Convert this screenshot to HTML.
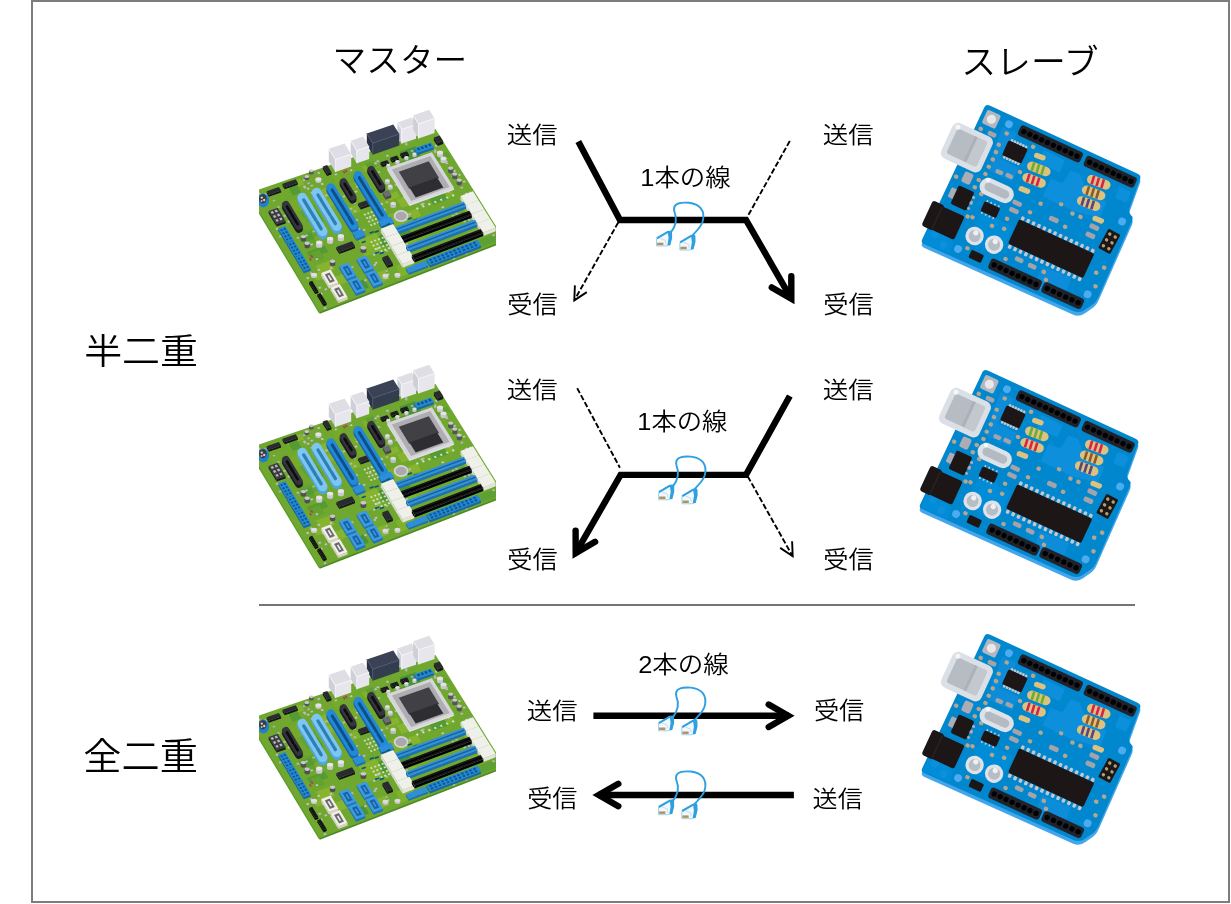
<!DOCTYPE html>
<html lang="ja">
<head>
<meta charset="utf-8">
<title>半二重と全二重</title>
<style>
html,body{margin:0;padding:0;background:#fff;}
body{width:1231px;height:904px;overflow:hidden;position:relative;}
svg{position:absolute;left:0;top:0;display:block;}
text{font-family:"Liberation Sans", "Noto Sans CJK JP", sans-serif;font-weight:350;fill:#000;}
</style>
</head>
<body>
<svg width="1231" height="904" viewBox="0 0 1231 904">
<rect x="32" y="1" width="1197" height="901" fill="#fff" stroke="#7d7d7d" stroke-width="2"/>
<defs><filter id="soft" x="-2%" y="-2%" width="104%" height="104%"><feGaussianBlur stdDeviation="0.5"/></filter></defs>
<g id="boards" filter="url(#soft)">
<g transform="translate(0 0)"><g transform="translate(986.5 107.6) rotate(24.8)"><path d="M3.5 0 L166.5 0 Q170.5 0 170.9 3.5 L173.7 35.5 Q174.5 39.5 179.5 41 Q181 42 181.2 45 L182.6 127 Q182.9 134 179.5 139 L176 145 Q172.5 151.4 165 151.6 L2 153.4 Q-1.6 153.4 -1.6 150 L-0.6 3.5 Q-0.5 0 3.5 0 Z" fill="#43a6ec"/></g>
<g transform="translate(986.5 104) rotate(24.8)">
<path d="M3.5 0 L166.5 0 Q170.5 0 170.9 3.5 L173.7 35.5 Q174.5 39.5 179.5 41 Q181 42 181.2 45 L182.6 127 Q182.9 134 179.5 139 L176 145 Q172.5 151.4 165 151.6 L2 153.4 Q-1.6 153.4 -1.6 150 L-0.6 3.5 Q-0.5 0 3.5 0 Z" fill="#0687cd"/>
<path d="M71 17.5 L95 18 L95.5 31.5 L72 32 Z" fill="#078fdc"/>
<path d="M89.5 41 L102 40 L104 25 L114 24 L131 39.5 L150 38 L151 56 L124 61 L89.5 60.5 Z" fill="#078fdc"/>
<path d="M24 14 L40 14 L40 22 L34 44 L56 44 L56 60 L30 60 L26 40 Z" fill="#078fdc" opacity="0.8"/>
<path d="M40 100 L76 100 L76 122 L60 134 L40 132 Z" fill="#078fdc" opacity="0.7"/>
<path d="M118 124 L150 122 L152 146 L120 147 Z" fill="#078fdc" opacity="0.8"/>
<rect x="155.5" y="19.0" width="13.0" height="12.5" rx="1.5" fill="#078fdc"/>
<path d="M-1 122 L28 140 L30 152 L0 152 Z" fill="#078fdc" opacity="0.6"/>
<circle cx="8.0" cy="140.0" r="4.5" fill="#078fdc"/>
<circle cx="20.0" cy="146.0" r="4.5" fill="#078fdc"/>
<circle cx="28.9" cy="8.9" r="3.9" fill="#4dabf0"/>
<circle cx="172.4" cy="49.8" r="3.9" fill="#4dabf0"/>
<circle cx="171.6" cy="130.3" r="3.9" fill="#4dabf0"/>
<circle cx="35.0" cy="143.5" r="3.9" fill="#4dabf0"/>
<rect x="3.4" y="4.4" width="14.8" height="14.8" rx="2" fill="#b3b7c0"/>
<circle cx="10.8" cy="11.8" r="4.6" fill="#e9e9ea"/>
<rect x="3.0" y="23.0" width="4.4" height="4.0" rx="1.6" fill="#b7a58c"/>
<rect x="28.5" y="16.3" width="4.4" height="4.0" rx="1.6" fill="#b7a58c"/>
<rect x="26.0" y="29.9" width="4.4" height="4.0" rx="1.6" fill="#b7a58c"/>
<rect x="26.6" y="37.7" width="4.4" height="4.0" rx="1.6" fill="#b7a58c"/>
<rect x="26.7" y="45.7" width="4.4" height="4.0" rx="1.6" fill="#b7a58c"/>
<rect x="26.1" y="54.0" width="4.4" height="4.0" rx="1.6" fill="#b7a58c"/>
<rect x="26.2" y="62.0" width="4.4" height="4.0" rx="1.6" fill="#b7a58c"/>
<rect x="0.7" y="76.7" width="4.4" height="4.0" rx="1.6" fill="#b7a58c"/>
<rect x="22.6" y="70.2" width="4.4" height="4.0" rx="1.6" fill="#b7a58c"/>
<rect x="22.1" y="78.5" width="4.4" height="4.0" rx="1.6" fill="#b7a58c"/>
<rect x="58.1" y="17.3" width="4.4" height="4.0" rx="1.6" fill="#b7a58c"/>
<rect x="56.7" y="45.7" width="4.4" height="4.0" rx="1.6" fill="#b7a58c"/>
<rect x="88.7" y="65.8" width="4.4" height="4.0" rx="1.6" fill="#b7a58c"/>
<rect x="107.6" y="57.7" width="4.4" height="4.0" rx="1.6" fill="#b7a58c"/>
<rect x="121.8" y="61.4" width="4.4" height="4.0" rx="1.6" fill="#b7a58c"/>
<rect x="130.4" y="61.1" width="4.4" height="4.0" rx="1.6" fill="#b7a58c"/>
<rect x="82.7" y="78.0" width="4.4" height="4.0" rx="1.6" fill="#b7a58c"/>
<rect x="120.7" y="76.5" width="4.4" height="4.0" rx="1.6" fill="#b7a58c"/>
<rect x="32.6" y="106.7" width="4.4" height="4.0" rx="1.6" fill="#b7a58c"/>
<rect x="53.9" y="106.4" width="4.4" height="4.0" rx="1.6" fill="#b7a58c"/>
<rect x="66.2" y="103.9" width="4.4" height="4.0" rx="1.6" fill="#b7a58c"/>
<rect x="64.6" y="93.5" width="4.4" height="4.0" rx="1.6" fill="#b7a58c"/>
<rect x="41.0" y="136.9" width="4.4" height="4.0" rx="1.6" fill="#b7a58c"/>
<rect x="80.1" y="130.7" width="4.4" height="4.0" rx="1.6" fill="#b7a58c"/>
<rect x="120.2" y="126.4" width="4.4" height="4.0" rx="1.6" fill="#b7a58c"/>
<rect x="125.5" y="132.7" width="4.4" height="4.0" rx="1.6" fill="#b7a58c"/>
<rect x="173.2" y="97.2" width="4.4" height="4.0" rx="1.6" fill="#b7a58c"/>
<rect x="168.1" y="105.1" width="4.4" height="4.0" rx="1.6" fill="#b7a58c"/>
<rect x="173.2" y="117.8" width="4.4" height="4.0" rx="1.6" fill="#b7a58c"/>
<rect x="24.8" y="94.0" width="4.4" height="4.0" rx="1.6" fill="#b7a58c"/>
<rect x="27.8" y="108.0" width="4.4" height="4.0" rx="1.6" fill="#b7a58c"/>
<rect x="30.8" y="82.0" width="4.4" height="4.0" rx="1.6" fill="#b7a58c"/>
<rect x="13.2" y="22.8" width="9.0" height="4.6" rx="1.8" fill="#a3a3a8"/>
<rect x="36.2" y="54.2" width="8.0" height="4.4" rx="1.8" fill="#a3a3a8"/>
<rect x="46.9" y="53.6" width="8.0" height="4.4" rx="1.8" fill="#a3a3a8"/>
<rect x="64.5" y="74.8" width="10.0" height="4.8" rx="1.8" fill="#a3a3a8"/>
<rect x="64.6" y="82.8" width="10.0" height="4.8" rx="1.8" fill="#a3a3a8"/>
<rect x="104.6" y="74.1" width="10.0" height="5.0" rx="1.8" fill="#a3a3a8"/>
<rect x="144.5" y="64.1" width="10.0" height="5.0" rx="1.8" fill="#a3a3a8"/>
<rect x="144.4" y="73.1" width="10.0" height="5.0" rx="1.8" fill="#a3a3a8"/>
<rect x="90.5" y="125.3" width="9.0" height="4.6" rx="1.8" fill="#a3a3a8"/>
<rect x="105.0" y="125.8" width="9.0" height="4.6" rx="1.8" fill="#a3a3a8"/>
<rect x="9.0" y="69.5" width="9.5" height="11.5" rx="2.5" fill="#acacb4"/>
<rect x="-21.5" y="28.3" width="44.0" height="39.0" rx="6.5" fill="#dbe0e7"/>
<rect x="-16.0" y="34.0" width="33.0" height="27.5" rx="2.5" fill="#b5bcc3"/>
<rect x="3.0" y="34.0" width="14.0" height="27.5" rx="2.5" fill="#c2c8ce"/>
<rect x="3.0" y="34.0" width="3.0" height="27.5" rx="0" fill="#aab1b9"/>
<circle cx="-16.2" cy="33.0" r="2.5" fill="#f4f6f8"/>
<rect x="37.2" y="20.9" width="2.6" height="3.4" rx="1.2" fill="#c3c8d0"/><rect x="40.3" y="20.9" width="2.6" height="3.4" rx="1.2" fill="#c3c8d0"/><rect x="43.4" y="20.9" width="2.6" height="3.4" rx="1.2" fill="#c3c8d0"/><rect x="46.5" y="20.9" width="2.6" height="3.4" rx="1.2" fill="#c3c8d0"/><rect x="49.6" y="20.9" width="2.6" height="3.4" rx="1.2" fill="#c3c8d0"/><rect x="52.7" y="20.9" width="2.6" height="3.4" rx="1.2" fill="#c3c8d0"/>
<rect x="37.2" y="38.9" width="2.6" height="3.4" rx="1.2" fill="#c3c8d0"/><rect x="40.3" y="38.9" width="2.6" height="3.4" rx="1.2" fill="#c3c8d0"/><rect x="43.4" y="38.9" width="2.6" height="3.4" rx="1.2" fill="#c3c8d0"/><rect x="46.5" y="38.9" width="2.6" height="3.4" rx="1.2" fill="#c3c8d0"/><rect x="49.6" y="38.9" width="2.6" height="3.4" rx="1.2" fill="#c3c8d0"/><rect x="52.7" y="38.9" width="2.6" height="3.4" rx="1.2" fill="#c3c8d0"/>
<rect x="35.3" y="23.6" width="21.2" height="16.0" rx="1.5" fill="#1b1819"/>
<rect x="40.5" y="3.7" width="68.5" height="11.4" rx="3.2" fill="#20242c"/><circle cx="45.5" cy="9.4" r="2.7" fill="#030304"/><circle cx="52.0" cy="9.4" r="2.7" fill="#030304"/><circle cx="58.5" cy="9.4" r="2.7" fill="#030304"/><circle cx="65.0" cy="9.4" r="2.7" fill="#030304"/><circle cx="71.5" cy="9.4" r="2.7" fill="#030304"/><circle cx="78.0" cy="9.4" r="2.7" fill="#030304"/><circle cx="84.5" cy="9.4" r="2.7" fill="#030304"/><circle cx="91.0" cy="9.4" r="2.7" fill="#030304"/><circle cx="97.5" cy="9.4" r="2.7" fill="#030304"/><circle cx="104.0" cy="9.4" r="2.7" fill="#030304"/>
<rect x="113.0" y="3.9" width="55.5" height="11.4" rx="3.2" fill="#20242c"/><circle cx="118.0" cy="9.6" r="2.7" fill="#030304"/><circle cx="124.5" cy="9.6" r="2.7" fill="#030304"/><circle cx="131.0" cy="9.6" r="2.7" fill="#030304"/><circle cx="137.5" cy="9.6" r="2.7" fill="#030304"/><circle cx="144.0" cy="9.6" r="2.7" fill="#030304"/><circle cx="150.5" cy="9.6" r="2.7" fill="#030304"/><circle cx="157.0" cy="9.6" r="2.7" fill="#030304"/><circle cx="163.5" cy="9.6" r="2.7" fill="#030304"/>
<rect x="69.5" y="137.2" width="56.0" height="11.4" rx="3.2" fill="#20242c"/><circle cx="74.5" cy="142.9" r="2.7" fill="#030304"/><circle cx="81.1" cy="142.9" r="2.7" fill="#030304"/><circle cx="87.6" cy="142.9" r="2.7" fill="#030304"/><circle cx="94.2" cy="142.9" r="2.7" fill="#030304"/><circle cx="100.8" cy="142.9" r="2.7" fill="#030304"/><circle cx="107.4" cy="142.9" r="2.7" fill="#030304"/><circle cx="113.9" cy="142.9" r="2.7" fill="#030304"/><circle cx="120.5" cy="142.9" r="2.7" fill="#030304"/>
<rect x="127.5" y="136.3" width="44.0" height="11.4" rx="3.2" fill="#20242c"/><circle cx="132.5" cy="142.0" r="2.7" fill="#030304"/><circle cx="139.3" cy="142.0" r="2.7" fill="#030304"/><circle cx="146.1" cy="142.0" r="2.7" fill="#030304"/><circle cx="152.9" cy="142.0" r="2.7" fill="#030304"/><circle cx="159.7" cy="142.0" r="2.7" fill="#030304"/><circle cx="166.5" cy="142.0" r="2.7" fill="#030304"/>
<g transform="translate(64.5 25.8) rotate(-4)"><rect x="0.0" y="-2.7" width="12.0" height="5.4" rx="2.7" fill="#dcc27e"/></g>
<g transform="translate(62.5 37.8) rotate(-4)"><rect x="0.0" y="-4.7" width="24.5" height="9.4" rx="4.7" fill="#dcc27e"/><path d="M5.7 -4.5 L6.3 4.5" stroke="#6cae2e" stroke-width="2.6" fill="none"/><path d="M10.9 -4.5 L11.5 4.5" stroke="#6cae2e" stroke-width="2.6" fill="none"/><path d="M16.1 -4.5 L16.7 4.5" stroke="#6cae2e" stroke-width="2.6" fill="none"/></g>
<g transform="translate(63.0 50.2) rotate(-4)"><rect x="0.0" y="-4.7" width="24.5" height="9.4" rx="4.7" fill="#dcc27e"/><path d="M5.7 -4.5 L6.3 4.5" stroke="#d6244c" stroke-width="2.6" fill="none"/><path d="M10.9 -4.5 L11.5 4.5" stroke="#d6244c" stroke-width="2.6" fill="none"/><path d="M16.1 -4.5 L16.7 4.5" stroke="#d6244c" stroke-width="2.6" fill="none"/></g>
<g transform="translate(64.5 62.6) rotate(-4)"><rect x="0.0" y="-2.7" width="12.0" height="5.4" rx="2.7" fill="#dcc27e"/></g>
<g transform="translate(122.5 24.8) rotate(-4)"><rect x="0.0" y="-4.7" width="24.5" height="9.4" rx="4.7" fill="#dcc27e"/><path d="M5.7 -4.5 L6.3 4.5" stroke="#d6244c" stroke-width="2.6" fill="none"/><path d="M10.9 -4.5 L11.5 4.5" stroke="#d6244c" stroke-width="2.6" fill="none"/><path d="M16.1 -4.5 L16.7 4.5" stroke="#d6244c" stroke-width="2.6" fill="none"/></g>
<g transform="translate(122.3 36.6) rotate(-4)"><rect x="0.0" y="-4.7" width="24.5" height="9.4" rx="4.7" fill="#dcc27e"/><path d="M5.7 -4.5 L6.3 4.5" stroke="#8a5a28" stroke-width="2.6" fill="none"/><path d="M10.9 -4.5 L11.5 4.5" stroke="#8a5a28" stroke-width="2.6" fill="none"/><path d="M16.1 -4.5 L16.7 4.5" stroke="#8a5a28" stroke-width="2.6" fill="none"/></g>
<g transform="translate(122.3 48.4) rotate(-4)"><rect x="0.0" y="-4.7" width="24.5" height="9.4" rx="4.7" fill="#dcc27e"/><path d="M5.7 -4.5 L6.3 4.5" stroke="#5a4478" stroke-width="2.6" fill="none"/><path d="M10.9 -4.5 L11.5 4.5" stroke="#5a4478" stroke-width="2.6" fill="none"/><path d="M16.1 -4.5 L16.7 4.5" stroke="#5a4478" stroke-width="2.6" fill="none"/></g>
<g transform="translate(144.0 58.6) rotate(-4)"><rect x="0.0" y="-2.7" width="12.0" height="5.4" rx="2.7" fill="#dcc27e"/></g>
<rect x="27.5" y="65.5" width="36.0" height="17.5" rx="8.7" fill="#dde2e8"/>
<rect x="32.5" y="70.0" width="26.5" height="8.6" rx="4.3" fill="#b3bac2"/>
<circle cx="33.2" cy="68.4" r="2.2" fill="#f6f8fa"/>
<rect x="3.5" y="90.0" width="7.0" height="10.5" rx="1.5" fill="#a9adb5"/>
<rect x="9.0" y="85.3" width="17.2" height="20.4" rx="2" fill="#1b1819"/>
<rect x="26.0" y="89.0" width="3.0" height="2.6" rx="1" fill="#a9adb5"/>
<rect x="26.0" y="95.0" width="3.0" height="2.6" rx="1" fill="#a9adb5"/>
<rect x="26.0" y="101.0" width="3.0" height="2.6" rx="1" fill="#a9adb5"/>
<rect x="40.6" y="86.6" width="1.8" height="2.4" rx="1.2" fill="#c3c8d0"/><rect x="44.8" y="86.6" width="1.8" height="2.4" rx="1.2" fill="#c3c8d0"/><rect x="48.9" y="86.6" width="1.8" height="2.4" rx="1.2" fill="#c3c8d0"/><rect x="53.1" y="86.6" width="1.8" height="2.4" rx="1.2" fill="#c3c8d0"/>
<rect x="40.6" y="99.6" width="1.8" height="2.4" rx="1.2" fill="#c3c8d0"/><rect x="44.8" y="99.6" width="1.8" height="2.4" rx="1.2" fill="#c3c8d0"/><rect x="48.9" y="99.6" width="1.8" height="2.4" rx="1.2" fill="#c3c8d0"/><rect x="53.1" y="99.6" width="1.8" height="2.4" rx="1.2" fill="#c3c8d0"/>
<rect x="39.2" y="89.0" width="17.2" height="10.6" rx="1.5" fill="#1b1819"/>
<rect x="-8.2" y="109.8" width="13.0" height="27.8" rx="3" fill="#1b1819"/>
<rect x="2.5" y="111.3" width="25.0" height="25.8" rx="2.5" fill="#1b1819"/>
<path d="M3 112 V136" stroke="#2c292a" stroke-width="1"/>
<circle cx="44.6" cy="124.8" r="9.2" fill="#dfe3e9"/>
<circle cx="44.6" cy="124.8" r="6.0" fill="#b6bdc5"/>
<circle cx="44.3" cy="121.5" r="2.6" fill="#eef1f4"/>
<circle cx="65.9" cy="124.5" r="9.2" fill="#dfe3e9"/>
<circle cx="65.9" cy="124.5" r="6.0" fill="#b6bdc5"/>
<circle cx="65.6" cy="121.2" r="2.6" fill="#eef1f4"/>
<rect x="47.8" y="138.4" width="13.6" height="8.6" rx="1.5" fill="#1b1819"/>
<rect x="79.3" y="86.7" width="3.4" height="4.2" rx="1.2" fill="#c3c8d0"/><rect x="85.2" y="86.7" width="3.4" height="4.2" rx="1.2" fill="#c3c8d0"/><rect x="91.1" y="86.7" width="3.4" height="4.2" rx="1.2" fill="#c3c8d0"/><rect x="97.1" y="86.7" width="3.4" height="4.2" rx="1.2" fill="#c3c8d0"/><rect x="103.0" y="86.7" width="3.4" height="4.2" rx="1.2" fill="#c3c8d0"/><rect x="108.9" y="86.7" width="3.4" height="4.2" rx="1.2" fill="#c3c8d0"/><rect x="114.8" y="86.7" width="3.4" height="4.2" rx="1.2" fill="#c3c8d0"/><rect x="120.8" y="86.7" width="3.4" height="4.2" rx="1.2" fill="#c3c8d0"/><rect x="126.7" y="86.7" width="3.4" height="4.2" rx="1.2" fill="#c3c8d0"/><rect x="132.6" y="86.7" width="3.4" height="4.2" rx="1.2" fill="#c3c8d0"/><rect x="138.5" y="86.7" width="3.4" height="4.2" rx="1.2" fill="#c3c8d0"/><rect x="144.5" y="86.7" width="3.4" height="4.2" rx="1.2" fill="#c3c8d0"/><rect x="150.4" y="86.7" width="3.4" height="4.2" rx="1.2" fill="#c3c8d0"/><rect x="156.3" y="86.7" width="3.4" height="4.2" rx="1.2" fill="#c3c8d0"/>
<rect x="79.3" y="117.7" width="3.4" height="4.2" rx="1.2" fill="#c3c8d0"/><rect x="85.2" y="117.7" width="3.4" height="4.2" rx="1.2" fill="#c3c8d0"/><rect x="91.1" y="117.7" width="3.4" height="4.2" rx="1.2" fill="#c3c8d0"/><rect x="97.1" y="117.7" width="3.4" height="4.2" rx="1.2" fill="#c3c8d0"/><rect x="103.0" y="117.7" width="3.4" height="4.2" rx="1.2" fill="#c3c8d0"/><rect x="108.9" y="117.7" width="3.4" height="4.2" rx="1.2" fill="#c3c8d0"/><rect x="114.8" y="117.7" width="3.4" height="4.2" rx="1.2" fill="#c3c8d0"/><rect x="120.8" y="117.7" width="3.4" height="4.2" rx="1.2" fill="#c3c8d0"/><rect x="126.7" y="117.7" width="3.4" height="4.2" rx="1.2" fill="#c3c8d0"/><rect x="132.6" y="117.7" width="3.4" height="4.2" rx="1.2" fill="#c3c8d0"/><rect x="138.5" y="117.7" width="3.4" height="4.2" rx="1.2" fill="#c3c8d0"/><rect x="144.5" y="117.7" width="3.4" height="4.2" rx="1.2" fill="#c3c8d0"/><rect x="150.4" y="117.7" width="3.4" height="4.2" rx="1.2" fill="#c3c8d0"/><rect x="156.3" y="117.7" width="3.4" height="4.2" rx="1.2" fill="#c3c8d0"/>
<rect x="78.0" y="90.8" width="82.8" height="26.8" rx="1.8" fill="#1b1819"/>
<g transform="rotate(4 169 73)"><rect x="162.3" y="62.2" width="13.6" height="22.0" rx="1.5" fill="#1b1819"/><circle cx="166.0" cy="66.6" r="1.7" fill="#b7a070"/><circle cx="166.0" cy="73.2" r="1.7" fill="#b7a070"/><circle cx="166.0" cy="79.8" r="1.7" fill="#b7a070"/><circle cx="172.2" cy="66.6" r="1.7" fill="#b7a070"/><circle cx="172.2" cy="73.2" r="1.7" fill="#b7a070"/><circle cx="172.2" cy="79.8" r="1.7" fill="#b7a070"/></g>
</g></g>
<g transform="translate(-2 265)"><g transform="translate(986.5 107.6) rotate(24.8)"><path d="M3.5 0 L166.5 0 Q170.5 0 170.9 3.5 L173.7 35.5 Q174.5 39.5 179.5 41 Q181 42 181.2 45 L182.6 127 Q182.9 134 179.5 139 L176 145 Q172.5 151.4 165 151.6 L2 153.4 Q-1.6 153.4 -1.6 150 L-0.6 3.5 Q-0.5 0 3.5 0 Z" fill="#43a6ec"/></g>
<g transform="translate(986.5 104) rotate(24.8)">
<path d="M3.5 0 L166.5 0 Q170.5 0 170.9 3.5 L173.7 35.5 Q174.5 39.5 179.5 41 Q181 42 181.2 45 L182.6 127 Q182.9 134 179.5 139 L176 145 Q172.5 151.4 165 151.6 L2 153.4 Q-1.6 153.4 -1.6 150 L-0.6 3.5 Q-0.5 0 3.5 0 Z" fill="#0687cd"/>
<path d="M71 17.5 L95 18 L95.5 31.5 L72 32 Z" fill="#078fdc"/>
<path d="M89.5 41 L102 40 L104 25 L114 24 L131 39.5 L150 38 L151 56 L124 61 L89.5 60.5 Z" fill="#078fdc"/>
<path d="M24 14 L40 14 L40 22 L34 44 L56 44 L56 60 L30 60 L26 40 Z" fill="#078fdc" opacity="0.8"/>
<path d="M40 100 L76 100 L76 122 L60 134 L40 132 Z" fill="#078fdc" opacity="0.7"/>
<path d="M118 124 L150 122 L152 146 L120 147 Z" fill="#078fdc" opacity="0.8"/>
<rect x="155.5" y="19.0" width="13.0" height="12.5" rx="1.5" fill="#078fdc"/>
<path d="M-1 122 L28 140 L30 152 L0 152 Z" fill="#078fdc" opacity="0.6"/>
<circle cx="8.0" cy="140.0" r="4.5" fill="#078fdc"/>
<circle cx="20.0" cy="146.0" r="4.5" fill="#078fdc"/>
<circle cx="28.9" cy="8.9" r="3.9" fill="#4dabf0"/>
<circle cx="172.4" cy="49.8" r="3.9" fill="#4dabf0"/>
<circle cx="171.6" cy="130.3" r="3.9" fill="#4dabf0"/>
<circle cx="35.0" cy="143.5" r="3.9" fill="#4dabf0"/>
<rect x="3.4" y="4.4" width="14.8" height="14.8" rx="2" fill="#b3b7c0"/>
<circle cx="10.8" cy="11.8" r="4.6" fill="#e9e9ea"/>
<rect x="3.0" y="23.0" width="4.4" height="4.0" rx="1.6" fill="#b7a58c"/>
<rect x="28.5" y="16.3" width="4.4" height="4.0" rx="1.6" fill="#b7a58c"/>
<rect x="26.0" y="29.9" width="4.4" height="4.0" rx="1.6" fill="#b7a58c"/>
<rect x="26.6" y="37.7" width="4.4" height="4.0" rx="1.6" fill="#b7a58c"/>
<rect x="26.7" y="45.7" width="4.4" height="4.0" rx="1.6" fill="#b7a58c"/>
<rect x="26.1" y="54.0" width="4.4" height="4.0" rx="1.6" fill="#b7a58c"/>
<rect x="26.2" y="62.0" width="4.4" height="4.0" rx="1.6" fill="#b7a58c"/>
<rect x="0.7" y="76.7" width="4.4" height="4.0" rx="1.6" fill="#b7a58c"/>
<rect x="22.6" y="70.2" width="4.4" height="4.0" rx="1.6" fill="#b7a58c"/>
<rect x="22.1" y="78.5" width="4.4" height="4.0" rx="1.6" fill="#b7a58c"/>
<rect x="58.1" y="17.3" width="4.4" height="4.0" rx="1.6" fill="#b7a58c"/>
<rect x="56.7" y="45.7" width="4.4" height="4.0" rx="1.6" fill="#b7a58c"/>
<rect x="88.7" y="65.8" width="4.4" height="4.0" rx="1.6" fill="#b7a58c"/>
<rect x="107.6" y="57.7" width="4.4" height="4.0" rx="1.6" fill="#b7a58c"/>
<rect x="121.8" y="61.4" width="4.4" height="4.0" rx="1.6" fill="#b7a58c"/>
<rect x="130.4" y="61.1" width="4.4" height="4.0" rx="1.6" fill="#b7a58c"/>
<rect x="82.7" y="78.0" width="4.4" height="4.0" rx="1.6" fill="#b7a58c"/>
<rect x="120.7" y="76.5" width="4.4" height="4.0" rx="1.6" fill="#b7a58c"/>
<rect x="32.6" y="106.7" width="4.4" height="4.0" rx="1.6" fill="#b7a58c"/>
<rect x="53.9" y="106.4" width="4.4" height="4.0" rx="1.6" fill="#b7a58c"/>
<rect x="66.2" y="103.9" width="4.4" height="4.0" rx="1.6" fill="#b7a58c"/>
<rect x="64.6" y="93.5" width="4.4" height="4.0" rx="1.6" fill="#b7a58c"/>
<rect x="41.0" y="136.9" width="4.4" height="4.0" rx="1.6" fill="#b7a58c"/>
<rect x="80.1" y="130.7" width="4.4" height="4.0" rx="1.6" fill="#b7a58c"/>
<rect x="120.2" y="126.4" width="4.4" height="4.0" rx="1.6" fill="#b7a58c"/>
<rect x="125.5" y="132.7" width="4.4" height="4.0" rx="1.6" fill="#b7a58c"/>
<rect x="173.2" y="97.2" width="4.4" height="4.0" rx="1.6" fill="#b7a58c"/>
<rect x="168.1" y="105.1" width="4.4" height="4.0" rx="1.6" fill="#b7a58c"/>
<rect x="173.2" y="117.8" width="4.4" height="4.0" rx="1.6" fill="#b7a58c"/>
<rect x="24.8" y="94.0" width="4.4" height="4.0" rx="1.6" fill="#b7a58c"/>
<rect x="27.8" y="108.0" width="4.4" height="4.0" rx="1.6" fill="#b7a58c"/>
<rect x="30.8" y="82.0" width="4.4" height="4.0" rx="1.6" fill="#b7a58c"/>
<rect x="13.2" y="22.8" width="9.0" height="4.6" rx="1.8" fill="#a3a3a8"/>
<rect x="36.2" y="54.2" width="8.0" height="4.4" rx="1.8" fill="#a3a3a8"/>
<rect x="46.9" y="53.6" width="8.0" height="4.4" rx="1.8" fill="#a3a3a8"/>
<rect x="64.5" y="74.8" width="10.0" height="4.8" rx="1.8" fill="#a3a3a8"/>
<rect x="64.6" y="82.8" width="10.0" height="4.8" rx="1.8" fill="#a3a3a8"/>
<rect x="104.6" y="74.1" width="10.0" height="5.0" rx="1.8" fill="#a3a3a8"/>
<rect x="144.5" y="64.1" width="10.0" height="5.0" rx="1.8" fill="#a3a3a8"/>
<rect x="144.4" y="73.1" width="10.0" height="5.0" rx="1.8" fill="#a3a3a8"/>
<rect x="90.5" y="125.3" width="9.0" height="4.6" rx="1.8" fill="#a3a3a8"/>
<rect x="105.0" y="125.8" width="9.0" height="4.6" rx="1.8" fill="#a3a3a8"/>
<rect x="9.0" y="69.5" width="9.5" height="11.5" rx="2.5" fill="#acacb4"/>
<rect x="-21.5" y="28.3" width="44.0" height="39.0" rx="6.5" fill="#dbe0e7"/>
<rect x="-16.0" y="34.0" width="33.0" height="27.5" rx="2.5" fill="#b5bcc3"/>
<rect x="3.0" y="34.0" width="14.0" height="27.5" rx="2.5" fill="#c2c8ce"/>
<rect x="3.0" y="34.0" width="3.0" height="27.5" rx="0" fill="#aab1b9"/>
<circle cx="-16.2" cy="33.0" r="2.5" fill="#f4f6f8"/>
<rect x="37.2" y="20.9" width="2.6" height="3.4" rx="1.2" fill="#c3c8d0"/><rect x="40.3" y="20.9" width="2.6" height="3.4" rx="1.2" fill="#c3c8d0"/><rect x="43.4" y="20.9" width="2.6" height="3.4" rx="1.2" fill="#c3c8d0"/><rect x="46.5" y="20.9" width="2.6" height="3.4" rx="1.2" fill="#c3c8d0"/><rect x="49.6" y="20.9" width="2.6" height="3.4" rx="1.2" fill="#c3c8d0"/><rect x="52.7" y="20.9" width="2.6" height="3.4" rx="1.2" fill="#c3c8d0"/>
<rect x="37.2" y="38.9" width="2.6" height="3.4" rx="1.2" fill="#c3c8d0"/><rect x="40.3" y="38.9" width="2.6" height="3.4" rx="1.2" fill="#c3c8d0"/><rect x="43.4" y="38.9" width="2.6" height="3.4" rx="1.2" fill="#c3c8d0"/><rect x="46.5" y="38.9" width="2.6" height="3.4" rx="1.2" fill="#c3c8d0"/><rect x="49.6" y="38.9" width="2.6" height="3.4" rx="1.2" fill="#c3c8d0"/><rect x="52.7" y="38.9" width="2.6" height="3.4" rx="1.2" fill="#c3c8d0"/>
<rect x="35.3" y="23.6" width="21.2" height="16.0" rx="1.5" fill="#1b1819"/>
<rect x="40.5" y="3.7" width="68.5" height="11.4" rx="3.2" fill="#20242c"/><circle cx="45.5" cy="9.4" r="2.7" fill="#030304"/><circle cx="52.0" cy="9.4" r="2.7" fill="#030304"/><circle cx="58.5" cy="9.4" r="2.7" fill="#030304"/><circle cx="65.0" cy="9.4" r="2.7" fill="#030304"/><circle cx="71.5" cy="9.4" r="2.7" fill="#030304"/><circle cx="78.0" cy="9.4" r="2.7" fill="#030304"/><circle cx="84.5" cy="9.4" r="2.7" fill="#030304"/><circle cx="91.0" cy="9.4" r="2.7" fill="#030304"/><circle cx="97.5" cy="9.4" r="2.7" fill="#030304"/><circle cx="104.0" cy="9.4" r="2.7" fill="#030304"/>
<rect x="113.0" y="3.9" width="55.5" height="11.4" rx="3.2" fill="#20242c"/><circle cx="118.0" cy="9.6" r="2.7" fill="#030304"/><circle cx="124.5" cy="9.6" r="2.7" fill="#030304"/><circle cx="131.0" cy="9.6" r="2.7" fill="#030304"/><circle cx="137.5" cy="9.6" r="2.7" fill="#030304"/><circle cx="144.0" cy="9.6" r="2.7" fill="#030304"/><circle cx="150.5" cy="9.6" r="2.7" fill="#030304"/><circle cx="157.0" cy="9.6" r="2.7" fill="#030304"/><circle cx="163.5" cy="9.6" r="2.7" fill="#030304"/>
<rect x="69.5" y="137.2" width="56.0" height="11.4" rx="3.2" fill="#20242c"/><circle cx="74.5" cy="142.9" r="2.7" fill="#030304"/><circle cx="81.1" cy="142.9" r="2.7" fill="#030304"/><circle cx="87.6" cy="142.9" r="2.7" fill="#030304"/><circle cx="94.2" cy="142.9" r="2.7" fill="#030304"/><circle cx="100.8" cy="142.9" r="2.7" fill="#030304"/><circle cx="107.4" cy="142.9" r="2.7" fill="#030304"/><circle cx="113.9" cy="142.9" r="2.7" fill="#030304"/><circle cx="120.5" cy="142.9" r="2.7" fill="#030304"/>
<rect x="127.5" y="136.3" width="44.0" height="11.4" rx="3.2" fill="#20242c"/><circle cx="132.5" cy="142.0" r="2.7" fill="#030304"/><circle cx="139.3" cy="142.0" r="2.7" fill="#030304"/><circle cx="146.1" cy="142.0" r="2.7" fill="#030304"/><circle cx="152.9" cy="142.0" r="2.7" fill="#030304"/><circle cx="159.7" cy="142.0" r="2.7" fill="#030304"/><circle cx="166.5" cy="142.0" r="2.7" fill="#030304"/>
<g transform="translate(64.5 25.8) rotate(-4)"><rect x="0.0" y="-2.7" width="12.0" height="5.4" rx="2.7" fill="#dcc27e"/></g>
<g transform="translate(62.5 37.8) rotate(-4)"><rect x="0.0" y="-4.7" width="24.5" height="9.4" rx="4.7" fill="#dcc27e"/><path d="M5.7 -4.5 L6.3 4.5" stroke="#6cae2e" stroke-width="2.6" fill="none"/><path d="M10.9 -4.5 L11.5 4.5" stroke="#6cae2e" stroke-width="2.6" fill="none"/><path d="M16.1 -4.5 L16.7 4.5" stroke="#6cae2e" stroke-width="2.6" fill="none"/></g>
<g transform="translate(63.0 50.2) rotate(-4)"><rect x="0.0" y="-4.7" width="24.5" height="9.4" rx="4.7" fill="#dcc27e"/><path d="M5.7 -4.5 L6.3 4.5" stroke="#d6244c" stroke-width="2.6" fill="none"/><path d="M10.9 -4.5 L11.5 4.5" stroke="#d6244c" stroke-width="2.6" fill="none"/><path d="M16.1 -4.5 L16.7 4.5" stroke="#d6244c" stroke-width="2.6" fill="none"/></g>
<g transform="translate(64.5 62.6) rotate(-4)"><rect x="0.0" y="-2.7" width="12.0" height="5.4" rx="2.7" fill="#dcc27e"/></g>
<g transform="translate(122.5 24.8) rotate(-4)"><rect x="0.0" y="-4.7" width="24.5" height="9.4" rx="4.7" fill="#dcc27e"/><path d="M5.7 -4.5 L6.3 4.5" stroke="#d6244c" stroke-width="2.6" fill="none"/><path d="M10.9 -4.5 L11.5 4.5" stroke="#d6244c" stroke-width="2.6" fill="none"/><path d="M16.1 -4.5 L16.7 4.5" stroke="#d6244c" stroke-width="2.6" fill="none"/></g>
<g transform="translate(122.3 36.6) rotate(-4)"><rect x="0.0" y="-4.7" width="24.5" height="9.4" rx="4.7" fill="#dcc27e"/><path d="M5.7 -4.5 L6.3 4.5" stroke="#8a5a28" stroke-width="2.6" fill="none"/><path d="M10.9 -4.5 L11.5 4.5" stroke="#8a5a28" stroke-width="2.6" fill="none"/><path d="M16.1 -4.5 L16.7 4.5" stroke="#8a5a28" stroke-width="2.6" fill="none"/></g>
<g transform="translate(122.3 48.4) rotate(-4)"><rect x="0.0" y="-4.7" width="24.5" height="9.4" rx="4.7" fill="#dcc27e"/><path d="M5.7 -4.5 L6.3 4.5" stroke="#5a4478" stroke-width="2.6" fill="none"/><path d="M10.9 -4.5 L11.5 4.5" stroke="#5a4478" stroke-width="2.6" fill="none"/><path d="M16.1 -4.5 L16.7 4.5" stroke="#5a4478" stroke-width="2.6" fill="none"/></g>
<g transform="translate(144.0 58.6) rotate(-4)"><rect x="0.0" y="-2.7" width="12.0" height="5.4" rx="2.7" fill="#dcc27e"/></g>
<rect x="27.5" y="65.5" width="36.0" height="17.5" rx="8.7" fill="#dde2e8"/>
<rect x="32.5" y="70.0" width="26.5" height="8.6" rx="4.3" fill="#b3bac2"/>
<circle cx="33.2" cy="68.4" r="2.2" fill="#f6f8fa"/>
<rect x="3.5" y="90.0" width="7.0" height="10.5" rx="1.5" fill="#a9adb5"/>
<rect x="9.0" y="85.3" width="17.2" height="20.4" rx="2" fill="#1b1819"/>
<rect x="26.0" y="89.0" width="3.0" height="2.6" rx="1" fill="#a9adb5"/>
<rect x="26.0" y="95.0" width="3.0" height="2.6" rx="1" fill="#a9adb5"/>
<rect x="26.0" y="101.0" width="3.0" height="2.6" rx="1" fill="#a9adb5"/>
<rect x="40.6" y="86.6" width="1.8" height="2.4" rx="1.2" fill="#c3c8d0"/><rect x="44.8" y="86.6" width="1.8" height="2.4" rx="1.2" fill="#c3c8d0"/><rect x="48.9" y="86.6" width="1.8" height="2.4" rx="1.2" fill="#c3c8d0"/><rect x="53.1" y="86.6" width="1.8" height="2.4" rx="1.2" fill="#c3c8d0"/>
<rect x="40.6" y="99.6" width="1.8" height="2.4" rx="1.2" fill="#c3c8d0"/><rect x="44.8" y="99.6" width="1.8" height="2.4" rx="1.2" fill="#c3c8d0"/><rect x="48.9" y="99.6" width="1.8" height="2.4" rx="1.2" fill="#c3c8d0"/><rect x="53.1" y="99.6" width="1.8" height="2.4" rx="1.2" fill="#c3c8d0"/>
<rect x="39.2" y="89.0" width="17.2" height="10.6" rx="1.5" fill="#1b1819"/>
<rect x="-8.2" y="109.8" width="13.0" height="27.8" rx="3" fill="#1b1819"/>
<rect x="2.5" y="111.3" width="25.0" height="25.8" rx="2.5" fill="#1b1819"/>
<path d="M3 112 V136" stroke="#2c292a" stroke-width="1"/>
<circle cx="44.6" cy="124.8" r="9.2" fill="#dfe3e9"/>
<circle cx="44.6" cy="124.8" r="6.0" fill="#b6bdc5"/>
<circle cx="44.3" cy="121.5" r="2.6" fill="#eef1f4"/>
<circle cx="65.9" cy="124.5" r="9.2" fill="#dfe3e9"/>
<circle cx="65.9" cy="124.5" r="6.0" fill="#b6bdc5"/>
<circle cx="65.6" cy="121.2" r="2.6" fill="#eef1f4"/>
<rect x="47.8" y="138.4" width="13.6" height="8.6" rx="1.5" fill="#1b1819"/>
<rect x="79.3" y="86.7" width="3.4" height="4.2" rx="1.2" fill="#c3c8d0"/><rect x="85.2" y="86.7" width="3.4" height="4.2" rx="1.2" fill="#c3c8d0"/><rect x="91.1" y="86.7" width="3.4" height="4.2" rx="1.2" fill="#c3c8d0"/><rect x="97.1" y="86.7" width="3.4" height="4.2" rx="1.2" fill="#c3c8d0"/><rect x="103.0" y="86.7" width="3.4" height="4.2" rx="1.2" fill="#c3c8d0"/><rect x="108.9" y="86.7" width="3.4" height="4.2" rx="1.2" fill="#c3c8d0"/><rect x="114.8" y="86.7" width="3.4" height="4.2" rx="1.2" fill="#c3c8d0"/><rect x="120.8" y="86.7" width="3.4" height="4.2" rx="1.2" fill="#c3c8d0"/><rect x="126.7" y="86.7" width="3.4" height="4.2" rx="1.2" fill="#c3c8d0"/><rect x="132.6" y="86.7" width="3.4" height="4.2" rx="1.2" fill="#c3c8d0"/><rect x="138.5" y="86.7" width="3.4" height="4.2" rx="1.2" fill="#c3c8d0"/><rect x="144.5" y="86.7" width="3.4" height="4.2" rx="1.2" fill="#c3c8d0"/><rect x="150.4" y="86.7" width="3.4" height="4.2" rx="1.2" fill="#c3c8d0"/><rect x="156.3" y="86.7" width="3.4" height="4.2" rx="1.2" fill="#c3c8d0"/>
<rect x="79.3" y="117.7" width="3.4" height="4.2" rx="1.2" fill="#c3c8d0"/><rect x="85.2" y="117.7" width="3.4" height="4.2" rx="1.2" fill="#c3c8d0"/><rect x="91.1" y="117.7" width="3.4" height="4.2" rx="1.2" fill="#c3c8d0"/><rect x="97.1" y="117.7" width="3.4" height="4.2" rx="1.2" fill="#c3c8d0"/><rect x="103.0" y="117.7" width="3.4" height="4.2" rx="1.2" fill="#c3c8d0"/><rect x="108.9" y="117.7" width="3.4" height="4.2" rx="1.2" fill="#c3c8d0"/><rect x="114.8" y="117.7" width="3.4" height="4.2" rx="1.2" fill="#c3c8d0"/><rect x="120.8" y="117.7" width="3.4" height="4.2" rx="1.2" fill="#c3c8d0"/><rect x="126.7" y="117.7" width="3.4" height="4.2" rx="1.2" fill="#c3c8d0"/><rect x="132.6" y="117.7" width="3.4" height="4.2" rx="1.2" fill="#c3c8d0"/><rect x="138.5" y="117.7" width="3.4" height="4.2" rx="1.2" fill="#c3c8d0"/><rect x="144.5" y="117.7" width="3.4" height="4.2" rx="1.2" fill="#c3c8d0"/><rect x="150.4" y="117.7" width="3.4" height="4.2" rx="1.2" fill="#c3c8d0"/><rect x="156.3" y="117.7" width="3.4" height="4.2" rx="1.2" fill="#c3c8d0"/>
<rect x="78.0" y="90.8" width="82.8" height="26.8" rx="1.8" fill="#1b1819"/>
<g transform="rotate(4 169 73)"><rect x="162.3" y="62.2" width="13.6" height="22.0" rx="1.5" fill="#1b1819"/><circle cx="166.0" cy="66.6" r="1.7" fill="#b7a070"/><circle cx="166.0" cy="73.2" r="1.7" fill="#b7a070"/><circle cx="166.0" cy="79.8" r="1.7" fill="#b7a070"/><circle cx="172.2" cy="66.6" r="1.7" fill="#b7a070"/><circle cx="172.2" cy="73.2" r="1.7" fill="#b7a070"/><circle cx="172.2" cy="79.8" r="1.7" fill="#b7a070"/></g>
</g></g>
<g transform="translate(0 529)"><g transform="translate(986.5 107.6) rotate(24.8)"><path d="M3.5 0 L166.5 0 Q170.5 0 170.9 3.5 L173.7 35.5 Q174.5 39.5 179.5 41 Q181 42 181.2 45 L182.6 127 Q182.9 134 179.5 139 L176 145 Q172.5 151.4 165 151.6 L2 153.4 Q-1.6 153.4 -1.6 150 L-0.6 3.5 Q-0.5 0 3.5 0 Z" fill="#43a6ec"/></g>
<g transform="translate(986.5 104) rotate(24.8)">
<path d="M3.5 0 L166.5 0 Q170.5 0 170.9 3.5 L173.7 35.5 Q174.5 39.5 179.5 41 Q181 42 181.2 45 L182.6 127 Q182.9 134 179.5 139 L176 145 Q172.5 151.4 165 151.6 L2 153.4 Q-1.6 153.4 -1.6 150 L-0.6 3.5 Q-0.5 0 3.5 0 Z" fill="#0687cd"/>
<path d="M71 17.5 L95 18 L95.5 31.5 L72 32 Z" fill="#078fdc"/>
<path d="M89.5 41 L102 40 L104 25 L114 24 L131 39.5 L150 38 L151 56 L124 61 L89.5 60.5 Z" fill="#078fdc"/>
<path d="M24 14 L40 14 L40 22 L34 44 L56 44 L56 60 L30 60 L26 40 Z" fill="#078fdc" opacity="0.8"/>
<path d="M40 100 L76 100 L76 122 L60 134 L40 132 Z" fill="#078fdc" opacity="0.7"/>
<path d="M118 124 L150 122 L152 146 L120 147 Z" fill="#078fdc" opacity="0.8"/>
<rect x="155.5" y="19.0" width="13.0" height="12.5" rx="1.5" fill="#078fdc"/>
<path d="M-1 122 L28 140 L30 152 L0 152 Z" fill="#078fdc" opacity="0.6"/>
<circle cx="8.0" cy="140.0" r="4.5" fill="#078fdc"/>
<circle cx="20.0" cy="146.0" r="4.5" fill="#078fdc"/>
<circle cx="28.9" cy="8.9" r="3.9" fill="#4dabf0"/>
<circle cx="172.4" cy="49.8" r="3.9" fill="#4dabf0"/>
<circle cx="171.6" cy="130.3" r="3.9" fill="#4dabf0"/>
<circle cx="35.0" cy="143.5" r="3.9" fill="#4dabf0"/>
<rect x="3.4" y="4.4" width="14.8" height="14.8" rx="2" fill="#b3b7c0"/>
<circle cx="10.8" cy="11.8" r="4.6" fill="#e9e9ea"/>
<rect x="3.0" y="23.0" width="4.4" height="4.0" rx="1.6" fill="#b7a58c"/>
<rect x="28.5" y="16.3" width="4.4" height="4.0" rx="1.6" fill="#b7a58c"/>
<rect x="26.0" y="29.9" width="4.4" height="4.0" rx="1.6" fill="#b7a58c"/>
<rect x="26.6" y="37.7" width="4.4" height="4.0" rx="1.6" fill="#b7a58c"/>
<rect x="26.7" y="45.7" width="4.4" height="4.0" rx="1.6" fill="#b7a58c"/>
<rect x="26.1" y="54.0" width="4.4" height="4.0" rx="1.6" fill="#b7a58c"/>
<rect x="26.2" y="62.0" width="4.4" height="4.0" rx="1.6" fill="#b7a58c"/>
<rect x="0.7" y="76.7" width="4.4" height="4.0" rx="1.6" fill="#b7a58c"/>
<rect x="22.6" y="70.2" width="4.4" height="4.0" rx="1.6" fill="#b7a58c"/>
<rect x="22.1" y="78.5" width="4.4" height="4.0" rx="1.6" fill="#b7a58c"/>
<rect x="58.1" y="17.3" width="4.4" height="4.0" rx="1.6" fill="#b7a58c"/>
<rect x="56.7" y="45.7" width="4.4" height="4.0" rx="1.6" fill="#b7a58c"/>
<rect x="88.7" y="65.8" width="4.4" height="4.0" rx="1.6" fill="#b7a58c"/>
<rect x="107.6" y="57.7" width="4.4" height="4.0" rx="1.6" fill="#b7a58c"/>
<rect x="121.8" y="61.4" width="4.4" height="4.0" rx="1.6" fill="#b7a58c"/>
<rect x="130.4" y="61.1" width="4.4" height="4.0" rx="1.6" fill="#b7a58c"/>
<rect x="82.7" y="78.0" width="4.4" height="4.0" rx="1.6" fill="#b7a58c"/>
<rect x="120.7" y="76.5" width="4.4" height="4.0" rx="1.6" fill="#b7a58c"/>
<rect x="32.6" y="106.7" width="4.4" height="4.0" rx="1.6" fill="#b7a58c"/>
<rect x="53.9" y="106.4" width="4.4" height="4.0" rx="1.6" fill="#b7a58c"/>
<rect x="66.2" y="103.9" width="4.4" height="4.0" rx="1.6" fill="#b7a58c"/>
<rect x="64.6" y="93.5" width="4.4" height="4.0" rx="1.6" fill="#b7a58c"/>
<rect x="41.0" y="136.9" width="4.4" height="4.0" rx="1.6" fill="#b7a58c"/>
<rect x="80.1" y="130.7" width="4.4" height="4.0" rx="1.6" fill="#b7a58c"/>
<rect x="120.2" y="126.4" width="4.4" height="4.0" rx="1.6" fill="#b7a58c"/>
<rect x="125.5" y="132.7" width="4.4" height="4.0" rx="1.6" fill="#b7a58c"/>
<rect x="173.2" y="97.2" width="4.4" height="4.0" rx="1.6" fill="#b7a58c"/>
<rect x="168.1" y="105.1" width="4.4" height="4.0" rx="1.6" fill="#b7a58c"/>
<rect x="173.2" y="117.8" width="4.4" height="4.0" rx="1.6" fill="#b7a58c"/>
<rect x="24.8" y="94.0" width="4.4" height="4.0" rx="1.6" fill="#b7a58c"/>
<rect x="27.8" y="108.0" width="4.4" height="4.0" rx="1.6" fill="#b7a58c"/>
<rect x="30.8" y="82.0" width="4.4" height="4.0" rx="1.6" fill="#b7a58c"/>
<rect x="13.2" y="22.8" width="9.0" height="4.6" rx="1.8" fill="#a3a3a8"/>
<rect x="36.2" y="54.2" width="8.0" height="4.4" rx="1.8" fill="#a3a3a8"/>
<rect x="46.9" y="53.6" width="8.0" height="4.4" rx="1.8" fill="#a3a3a8"/>
<rect x="64.5" y="74.8" width="10.0" height="4.8" rx="1.8" fill="#a3a3a8"/>
<rect x="64.6" y="82.8" width="10.0" height="4.8" rx="1.8" fill="#a3a3a8"/>
<rect x="104.6" y="74.1" width="10.0" height="5.0" rx="1.8" fill="#a3a3a8"/>
<rect x="144.5" y="64.1" width="10.0" height="5.0" rx="1.8" fill="#a3a3a8"/>
<rect x="144.4" y="73.1" width="10.0" height="5.0" rx="1.8" fill="#a3a3a8"/>
<rect x="90.5" y="125.3" width="9.0" height="4.6" rx="1.8" fill="#a3a3a8"/>
<rect x="105.0" y="125.8" width="9.0" height="4.6" rx="1.8" fill="#a3a3a8"/>
<rect x="9.0" y="69.5" width="9.5" height="11.5" rx="2.5" fill="#acacb4"/>
<rect x="-21.5" y="28.3" width="44.0" height="39.0" rx="6.5" fill="#dbe0e7"/>
<rect x="-16.0" y="34.0" width="33.0" height="27.5" rx="2.5" fill="#b5bcc3"/>
<rect x="3.0" y="34.0" width="14.0" height="27.5" rx="2.5" fill="#c2c8ce"/>
<rect x="3.0" y="34.0" width="3.0" height="27.5" rx="0" fill="#aab1b9"/>
<circle cx="-16.2" cy="33.0" r="2.5" fill="#f4f6f8"/>
<rect x="37.2" y="20.9" width="2.6" height="3.4" rx="1.2" fill="#c3c8d0"/><rect x="40.3" y="20.9" width="2.6" height="3.4" rx="1.2" fill="#c3c8d0"/><rect x="43.4" y="20.9" width="2.6" height="3.4" rx="1.2" fill="#c3c8d0"/><rect x="46.5" y="20.9" width="2.6" height="3.4" rx="1.2" fill="#c3c8d0"/><rect x="49.6" y="20.9" width="2.6" height="3.4" rx="1.2" fill="#c3c8d0"/><rect x="52.7" y="20.9" width="2.6" height="3.4" rx="1.2" fill="#c3c8d0"/>
<rect x="37.2" y="38.9" width="2.6" height="3.4" rx="1.2" fill="#c3c8d0"/><rect x="40.3" y="38.9" width="2.6" height="3.4" rx="1.2" fill="#c3c8d0"/><rect x="43.4" y="38.9" width="2.6" height="3.4" rx="1.2" fill="#c3c8d0"/><rect x="46.5" y="38.9" width="2.6" height="3.4" rx="1.2" fill="#c3c8d0"/><rect x="49.6" y="38.9" width="2.6" height="3.4" rx="1.2" fill="#c3c8d0"/><rect x="52.7" y="38.9" width="2.6" height="3.4" rx="1.2" fill="#c3c8d0"/>
<rect x="35.3" y="23.6" width="21.2" height="16.0" rx="1.5" fill="#1b1819"/>
<rect x="40.5" y="3.7" width="68.5" height="11.4" rx="3.2" fill="#20242c"/><circle cx="45.5" cy="9.4" r="2.7" fill="#030304"/><circle cx="52.0" cy="9.4" r="2.7" fill="#030304"/><circle cx="58.5" cy="9.4" r="2.7" fill="#030304"/><circle cx="65.0" cy="9.4" r="2.7" fill="#030304"/><circle cx="71.5" cy="9.4" r="2.7" fill="#030304"/><circle cx="78.0" cy="9.4" r="2.7" fill="#030304"/><circle cx="84.5" cy="9.4" r="2.7" fill="#030304"/><circle cx="91.0" cy="9.4" r="2.7" fill="#030304"/><circle cx="97.5" cy="9.4" r="2.7" fill="#030304"/><circle cx="104.0" cy="9.4" r="2.7" fill="#030304"/>
<rect x="113.0" y="3.9" width="55.5" height="11.4" rx="3.2" fill="#20242c"/><circle cx="118.0" cy="9.6" r="2.7" fill="#030304"/><circle cx="124.5" cy="9.6" r="2.7" fill="#030304"/><circle cx="131.0" cy="9.6" r="2.7" fill="#030304"/><circle cx="137.5" cy="9.6" r="2.7" fill="#030304"/><circle cx="144.0" cy="9.6" r="2.7" fill="#030304"/><circle cx="150.5" cy="9.6" r="2.7" fill="#030304"/><circle cx="157.0" cy="9.6" r="2.7" fill="#030304"/><circle cx="163.5" cy="9.6" r="2.7" fill="#030304"/>
<rect x="69.5" y="137.2" width="56.0" height="11.4" rx="3.2" fill="#20242c"/><circle cx="74.5" cy="142.9" r="2.7" fill="#030304"/><circle cx="81.1" cy="142.9" r="2.7" fill="#030304"/><circle cx="87.6" cy="142.9" r="2.7" fill="#030304"/><circle cx="94.2" cy="142.9" r="2.7" fill="#030304"/><circle cx="100.8" cy="142.9" r="2.7" fill="#030304"/><circle cx="107.4" cy="142.9" r="2.7" fill="#030304"/><circle cx="113.9" cy="142.9" r="2.7" fill="#030304"/><circle cx="120.5" cy="142.9" r="2.7" fill="#030304"/>
<rect x="127.5" y="136.3" width="44.0" height="11.4" rx="3.2" fill="#20242c"/><circle cx="132.5" cy="142.0" r="2.7" fill="#030304"/><circle cx="139.3" cy="142.0" r="2.7" fill="#030304"/><circle cx="146.1" cy="142.0" r="2.7" fill="#030304"/><circle cx="152.9" cy="142.0" r="2.7" fill="#030304"/><circle cx="159.7" cy="142.0" r="2.7" fill="#030304"/><circle cx="166.5" cy="142.0" r="2.7" fill="#030304"/>
<g transform="translate(64.5 25.8) rotate(-4)"><rect x="0.0" y="-2.7" width="12.0" height="5.4" rx="2.7" fill="#dcc27e"/></g>
<g transform="translate(62.5 37.8) rotate(-4)"><rect x="0.0" y="-4.7" width="24.5" height="9.4" rx="4.7" fill="#dcc27e"/><path d="M5.7 -4.5 L6.3 4.5" stroke="#6cae2e" stroke-width="2.6" fill="none"/><path d="M10.9 -4.5 L11.5 4.5" stroke="#6cae2e" stroke-width="2.6" fill="none"/><path d="M16.1 -4.5 L16.7 4.5" stroke="#6cae2e" stroke-width="2.6" fill="none"/></g>
<g transform="translate(63.0 50.2) rotate(-4)"><rect x="0.0" y="-4.7" width="24.5" height="9.4" rx="4.7" fill="#dcc27e"/><path d="M5.7 -4.5 L6.3 4.5" stroke="#d6244c" stroke-width="2.6" fill="none"/><path d="M10.9 -4.5 L11.5 4.5" stroke="#d6244c" stroke-width="2.6" fill="none"/><path d="M16.1 -4.5 L16.7 4.5" stroke="#d6244c" stroke-width="2.6" fill="none"/></g>
<g transform="translate(64.5 62.6) rotate(-4)"><rect x="0.0" y="-2.7" width="12.0" height="5.4" rx="2.7" fill="#dcc27e"/></g>
<g transform="translate(122.5 24.8) rotate(-4)"><rect x="0.0" y="-4.7" width="24.5" height="9.4" rx="4.7" fill="#dcc27e"/><path d="M5.7 -4.5 L6.3 4.5" stroke="#d6244c" stroke-width="2.6" fill="none"/><path d="M10.9 -4.5 L11.5 4.5" stroke="#d6244c" stroke-width="2.6" fill="none"/><path d="M16.1 -4.5 L16.7 4.5" stroke="#d6244c" stroke-width="2.6" fill="none"/></g>
<g transform="translate(122.3 36.6) rotate(-4)"><rect x="0.0" y="-4.7" width="24.5" height="9.4" rx="4.7" fill="#dcc27e"/><path d="M5.7 -4.5 L6.3 4.5" stroke="#8a5a28" stroke-width="2.6" fill="none"/><path d="M10.9 -4.5 L11.5 4.5" stroke="#8a5a28" stroke-width="2.6" fill="none"/><path d="M16.1 -4.5 L16.7 4.5" stroke="#8a5a28" stroke-width="2.6" fill="none"/></g>
<g transform="translate(122.3 48.4) rotate(-4)"><rect x="0.0" y="-4.7" width="24.5" height="9.4" rx="4.7" fill="#dcc27e"/><path d="M5.7 -4.5 L6.3 4.5" stroke="#5a4478" stroke-width="2.6" fill="none"/><path d="M10.9 -4.5 L11.5 4.5" stroke="#5a4478" stroke-width="2.6" fill="none"/><path d="M16.1 -4.5 L16.7 4.5" stroke="#5a4478" stroke-width="2.6" fill="none"/></g>
<g transform="translate(144.0 58.6) rotate(-4)"><rect x="0.0" y="-2.7" width="12.0" height="5.4" rx="2.7" fill="#dcc27e"/></g>
<rect x="27.5" y="65.5" width="36.0" height="17.5" rx="8.7" fill="#dde2e8"/>
<rect x="32.5" y="70.0" width="26.5" height="8.6" rx="4.3" fill="#b3bac2"/>
<circle cx="33.2" cy="68.4" r="2.2" fill="#f6f8fa"/>
<rect x="3.5" y="90.0" width="7.0" height="10.5" rx="1.5" fill="#a9adb5"/>
<rect x="9.0" y="85.3" width="17.2" height="20.4" rx="2" fill="#1b1819"/>
<rect x="26.0" y="89.0" width="3.0" height="2.6" rx="1" fill="#a9adb5"/>
<rect x="26.0" y="95.0" width="3.0" height="2.6" rx="1" fill="#a9adb5"/>
<rect x="26.0" y="101.0" width="3.0" height="2.6" rx="1" fill="#a9adb5"/>
<rect x="40.6" y="86.6" width="1.8" height="2.4" rx="1.2" fill="#c3c8d0"/><rect x="44.8" y="86.6" width="1.8" height="2.4" rx="1.2" fill="#c3c8d0"/><rect x="48.9" y="86.6" width="1.8" height="2.4" rx="1.2" fill="#c3c8d0"/><rect x="53.1" y="86.6" width="1.8" height="2.4" rx="1.2" fill="#c3c8d0"/>
<rect x="40.6" y="99.6" width="1.8" height="2.4" rx="1.2" fill="#c3c8d0"/><rect x="44.8" y="99.6" width="1.8" height="2.4" rx="1.2" fill="#c3c8d0"/><rect x="48.9" y="99.6" width="1.8" height="2.4" rx="1.2" fill="#c3c8d0"/><rect x="53.1" y="99.6" width="1.8" height="2.4" rx="1.2" fill="#c3c8d0"/>
<rect x="39.2" y="89.0" width="17.2" height="10.6" rx="1.5" fill="#1b1819"/>
<rect x="-8.2" y="109.8" width="13.0" height="27.8" rx="3" fill="#1b1819"/>
<rect x="2.5" y="111.3" width="25.0" height="25.8" rx="2.5" fill="#1b1819"/>
<path d="M3 112 V136" stroke="#2c292a" stroke-width="1"/>
<circle cx="44.6" cy="124.8" r="9.2" fill="#dfe3e9"/>
<circle cx="44.6" cy="124.8" r="6.0" fill="#b6bdc5"/>
<circle cx="44.3" cy="121.5" r="2.6" fill="#eef1f4"/>
<circle cx="65.9" cy="124.5" r="9.2" fill="#dfe3e9"/>
<circle cx="65.9" cy="124.5" r="6.0" fill="#b6bdc5"/>
<circle cx="65.6" cy="121.2" r="2.6" fill="#eef1f4"/>
<rect x="47.8" y="138.4" width="13.6" height="8.6" rx="1.5" fill="#1b1819"/>
<rect x="79.3" y="86.7" width="3.4" height="4.2" rx="1.2" fill="#c3c8d0"/><rect x="85.2" y="86.7" width="3.4" height="4.2" rx="1.2" fill="#c3c8d0"/><rect x="91.1" y="86.7" width="3.4" height="4.2" rx="1.2" fill="#c3c8d0"/><rect x="97.1" y="86.7" width="3.4" height="4.2" rx="1.2" fill="#c3c8d0"/><rect x="103.0" y="86.7" width="3.4" height="4.2" rx="1.2" fill="#c3c8d0"/><rect x="108.9" y="86.7" width="3.4" height="4.2" rx="1.2" fill="#c3c8d0"/><rect x="114.8" y="86.7" width="3.4" height="4.2" rx="1.2" fill="#c3c8d0"/><rect x="120.8" y="86.7" width="3.4" height="4.2" rx="1.2" fill="#c3c8d0"/><rect x="126.7" y="86.7" width="3.4" height="4.2" rx="1.2" fill="#c3c8d0"/><rect x="132.6" y="86.7" width="3.4" height="4.2" rx="1.2" fill="#c3c8d0"/><rect x="138.5" y="86.7" width="3.4" height="4.2" rx="1.2" fill="#c3c8d0"/><rect x="144.5" y="86.7" width="3.4" height="4.2" rx="1.2" fill="#c3c8d0"/><rect x="150.4" y="86.7" width="3.4" height="4.2" rx="1.2" fill="#c3c8d0"/><rect x="156.3" y="86.7" width="3.4" height="4.2" rx="1.2" fill="#c3c8d0"/>
<rect x="79.3" y="117.7" width="3.4" height="4.2" rx="1.2" fill="#c3c8d0"/><rect x="85.2" y="117.7" width="3.4" height="4.2" rx="1.2" fill="#c3c8d0"/><rect x="91.1" y="117.7" width="3.4" height="4.2" rx="1.2" fill="#c3c8d0"/><rect x="97.1" y="117.7" width="3.4" height="4.2" rx="1.2" fill="#c3c8d0"/><rect x="103.0" y="117.7" width="3.4" height="4.2" rx="1.2" fill="#c3c8d0"/><rect x="108.9" y="117.7" width="3.4" height="4.2" rx="1.2" fill="#c3c8d0"/><rect x="114.8" y="117.7" width="3.4" height="4.2" rx="1.2" fill="#c3c8d0"/><rect x="120.8" y="117.7" width="3.4" height="4.2" rx="1.2" fill="#c3c8d0"/><rect x="126.7" y="117.7" width="3.4" height="4.2" rx="1.2" fill="#c3c8d0"/><rect x="132.6" y="117.7" width="3.4" height="4.2" rx="1.2" fill="#c3c8d0"/><rect x="138.5" y="117.7" width="3.4" height="4.2" rx="1.2" fill="#c3c8d0"/><rect x="144.5" y="117.7" width="3.4" height="4.2" rx="1.2" fill="#c3c8d0"/><rect x="150.4" y="117.7" width="3.4" height="4.2" rx="1.2" fill="#c3c8d0"/><rect x="156.3" y="117.7" width="3.4" height="4.2" rx="1.2" fill="#c3c8d0"/>
<rect x="78.0" y="90.8" width="82.8" height="26.8" rx="1.8" fill="#1b1819"/>
<g transform="rotate(4 169 73)"><rect x="162.3" y="62.2" width="13.6" height="22.0" rx="1.5" fill="#1b1819"/><circle cx="166.0" cy="66.6" r="1.7" fill="#b7a070"/><circle cx="166.0" cy="73.2" r="1.7" fill="#b7a070"/><circle cx="166.0" cy="79.8" r="1.7" fill="#b7a070"/><circle cx="172.2" cy="66.6" r="1.7" fill="#b7a070"/><circle cx="172.2" cy="73.2" r="1.7" fill="#b7a070"/><circle cx="172.2" cy="79.8" r="1.7" fill="#b7a070"/></g>
</g></g>
<g transform="translate(0 0)"><clipPath id="mbclip0"><rect x="259" y="100" width="236.3" height="220"/></clipPath>
<g clip-path="url(#mbclip0)">
<polygon points="247.5,193.4 435.5,129.0 505.2,241.0 319.5,313.0" fill="#6fa72e"/>
<path d="M319.5,313.0 L505.2,241.0" stroke="#4d8a22" stroke-width="1.6" fill="none"/>
<path d="M247.5,193.4 L319.5,313.0" stroke="#5a9a28" stroke-width="1.2" fill="none"/>
<polygon points="317.9,191.6 332.7,186.4 335.9,191.6 321.0,196.8" fill="#64a22f"/>
<polygon points="306.9,252.0 324.5,245.5 328.3,251.7 310.6,258.3" fill="#559a33"/>
<polygon points="331.4,176.4 339.9,173.5 344.6,181.1 336.0,184.1" fill="#78aa2c"/>
<polygon points="410.4,260.9 424.9,255.4 430.2,264.0 415.7,269.6" fill="#559a33"/>
<polygon points="376.9,202.3 395.4,195.6 398.4,200.6 380.0,207.2" fill="#78aa2c"/>
<polygon points="302.8,231.9 316.4,227.0 321.7,235.8 308.1,240.7" fill="#64a22f"/>
<polygon points="403.8,165.3 417.9,160.3 423.4,169.2 409.3,174.2" fill="#7fb12c"/>
<polygon points="315.9,265.7 329.6,260.6 335.2,269.7 321.4,274.9" fill="#86b42e"/>
<polygon points="396.5,199.2 407.5,195.2 412.8,203.8 401.8,207.8" fill="#86b42e"/>
<polygon points="330.6,199.7 340.2,196.3 346.3,206.4 336.8,209.8" fill="#559a33"/>
<polygon points="384.8,215.9 402.0,209.6 408.0,219.3 390.7,225.6" fill="#7fb12c"/>
<polygon points="361.6,166.4 374.8,161.8 378.4,167.5 365.1,172.2" fill="#7fb12c"/>
<polygon points="310.6,238.3 318.5,235.4 324.2,244.8 316.3,247.7" fill="#78aa2c"/>
<polygon points="399.0,244.7 415.6,238.5 419.8,245.4 403.3,251.7" fill="#7fb12c"/>
<polygon points="391.7,220.5 404.3,215.8 410.6,226.2 398.1,230.9" fill="#7fb12c"/>
<polygon points="376.7,236.9 384.8,233.8 390.6,243.4 382.5,246.4" fill="#4c9436"/>
<polygon points="395.4,232.1 407.9,227.5 413.7,237.0 401.3,241.7" fill="#4c9436"/>
<polygon points="373.0,274.3 384.4,270.0 389.9,278.9 378.5,283.3" fill="#86b42e"/>
<polygon points="313.0,274.3 321.9,270.9 325.8,277.4 316.9,280.8" fill="#86b42e"/>
<polygon points="441.2,191.7 450.5,188.4 455.0,195.6 445.6,199.0" fill="#7fb12c"/>
<polygon points="456.1,227.1 473.2,220.7 477.1,227.0 460.0,233.5" fill="#86b42e"/>
<polygon points="464.8,206.5 476.6,202.2 480.3,208.2 468.6,212.6" fill="#559a33"/>
<polygon points="297.9,209.1 308.1,205.5 313.0,213.7 302.9,217.3" fill="#64a22f"/>
<polygon points="302.2,214.1 311.4,210.9 316.5,219.4 307.4,222.6" fill="#64a22f"/>
<polygon points="410.9,261.4 426.1,255.6 431.1,263.8 416.0,269.6" fill="#64a22f"/>
<polygon points="412.2,233.4 424.8,228.7 431.3,239.2 418.8,244.0" fill="#78aa2c"/>
<polygon points="405.0,212.9 416.9,208.5 421.4,215.8 409.5,220.2" fill="#86b42e"/>
<polygon points="365.2,163.8 373.5,160.9 377.2,166.9 368.9,169.8" fill="#5fa031"/>
<polygon points="310.7,252.9 319.3,249.8 324.6,258.5 316.0,261.7" fill="#64a22f"/>
<polygon points="293.8,227.8 301.6,225.0 308.2,236.0 300.4,238.8" fill="#64a22f"/>
<polygon points="358.1,239.9 376.3,233.1 381.7,242.0 363.6,248.8" fill="#86b42e"/>
<polygon points="329.1,278.9 347.6,271.9 352.5,279.9 334.0,287.0" fill="#86b42e"/>
<polygon points="315.4,191.6 331.3,186.0 337.3,195.8 321.4,201.5" fill="#86b42e"/>
<polygon points="404.8,162.5 412.5,159.8 419.4,170.8 411.6,173.6" fill="#64a22f"/>
<polygon points="359.3,246.7 377.0,240.1 383.0,250.0 365.4,256.7" fill="#7fb12c"/>
<polygon points="475.0,225.5 489.8,219.9 493.7,226.2 478.9,231.8" fill="#7fb12c"/>
<polygon points="430.7,177.8 440.7,174.2 445.8,182.4 435.8,186.0" fill="#64a22f"/>
<polygon points="323.5,198.9 340.2,193.1 347.2,204.6 330.6,210.5" fill="#78aa2c"/>
<polygon points="301.7,208.8 313.7,204.5 320.0,214.9 308.0,219.2" fill="#5fa031"/>
<polygon points="364.2,201.6 372.0,198.8 374.9,203.6 367.1,206.4" fill="#7fb12c"/>
<polygon points="346.0,187.2 360.3,182.2 364.6,189.2 350.3,194.3" fill="#78aa2c"/>
<polygon points="475.9,241.0 494.0,234.1 498.3,241.0 480.2,248.0" fill="#5fa031"/>
<polygon points="300.9,239.3 312.1,235.2 317.1,243.4 305.8,247.5" fill="#64a22f"/>
<polygon points="427.1,194.7 441.9,189.3 448.0,199.3 433.2,204.7" fill="#559a33"/>
<polygon points="403.1,157.9 415.0,153.7 420.8,163.1 408.9,167.3" fill="#5fa031"/>
<polygon points="346.0,185.3 362.4,179.5 366.6,186.5 350.2,192.3" fill="#78aa2c"/>
<polygon points="460.5,213.1 473.1,208.4 479.0,217.9 466.4,222.6" fill="#559a33"/>
<polygon points="387.6,169.6 396.5,166.5 399.9,172.1 391.0,175.2" fill="#86b42e"/>
<polygon points="400.0,162.3 416.8,156.4 423.7,167.6 406.9,173.5" fill="#4c9436"/>
<polygon points="423.0,155.5 436.6,150.7 439.5,155.3 425.9,160.1" fill="#78aa2c"/>
<polygon points="460.1,204.1 473.5,199.2 480.2,209.9 466.8,214.9" fill="#86b42e"/>
<polygon points="433.8,156.5 447.4,151.8 450.3,156.4 436.7,161.2" fill="#5fa031"/>
<polygon points="318.4,203.0 332.5,198.0 336.5,204.5 322.4,209.5" fill="#86b42e"/>
<polygon points="399.3,151.8 415.1,146.3 421.7,156.9 405.9,162.5" fill="#4c9436"/>
<polygon points="410.7,255.2 422.8,250.6 429.5,261.5 417.4,266.2" fill="#64a22f"/>
<polygon points="285.0,203.2 298.2,198.6 304.8,209.5 291.6,214.1" fill="#78aa2c"/>
<polygon points="284.3,184.2 300.8,178.5 304.4,184.4 287.9,190.1" fill="#86b42e"/>
<polygon points="366.3,170.7 374.5,167.9 380.2,177.2 372.0,180.1" fill="#64a22f"/>
<polygon points="398.2,244.4 406.9,241.1 412.1,249.6 403.4,252.9" fill="#5fa031"/>
<polygon points="288.2,187.8 296.8,184.8 301.6,192.7 293.0,195.7" fill="#559a33"/>
<polygon points="441.1,244.7 453.5,240.0 458.9,248.7 446.5,253.4" fill="#64a22f"/>
<polygon points="369.2,179.8 379.8,176.1 384.8,184.2 374.2,187.9" fill="#78aa2c"/>
<polygon points="395.3,265.9 410.5,260.1 417.0,270.8 401.8,276.7" fill="#7fb12c"/>
<polygon points="467.4,232.2 477.1,228.5 481.8,236.0 472.1,239.7" fill="#86b42e"/>
<polygon points="302.3,235.1 310.6,232.1 314.5,238.5 306.3,241.5" fill="#559a33"/>
<polygon points="308.8,214.5 317.6,211.4 323.8,221.5 315.0,224.7" fill="#4c9436"/>
<polygon points="386.3,195.0 396.6,191.3 400.0,196.8 389.7,200.6" fill="#86b42e"/>
<polygon points="352.2,283.8 364.1,279.3 369.0,287.4 357.2,292.0" fill="#4c9436"/>
<polygon points="405.4,162.3 417.8,158.0 422.7,166.0 410.4,170.4" fill="#7fb12c"/>
<polygon points="347.8,207.6 356.3,204.5 360.7,211.7 352.2,214.8" fill="#7fb12c"/>
<polygon points="382.6,209.0 384.8,208.2 385.8,209.8 383.6,210.6" fill="#b9b4c4"/>
<polygon points="357.4,228.6 359.6,227.8 360.6,229.4 358.4,230.3" fill="#aeb6a6"/>
<polygon points="349.5,169.9 351.8,169.1 352.7,170.7 350.5,171.5" fill="#c6c2cc"/>
<polygon points="435.0,145.6 437.3,144.8 438.3,146.4 436.0,147.2" fill="#aeb6a6"/>
<polygon points="363.8,279.8 366.0,279.0 367.0,280.6 364.8,281.4" fill="#c6c2cc"/>
<polygon points="310.4,192.4 312.6,191.6 313.6,193.2 311.4,194.0" fill="#c0bcc8"/>
<polygon points="451.5,215.3 453.7,214.5 454.7,216.1 452.5,216.9" fill="#aeb6a6"/>
<polygon points="362.6,229.4 364.8,228.5 365.8,230.2 363.5,231.0" fill="#c0bcc8"/>
<polygon points="385.1,160.9 387.4,160.1 388.4,161.7 386.1,162.5" fill="#b9b4c4"/>
<polygon points="409.3,164.9 411.6,164.2 412.6,165.7 410.3,166.5" fill="#b9b4c4"/>
<polygon points="302.4,179.7 304.6,179.0 305.6,180.6 303.4,181.4" fill="#b9b4c4"/>
<polygon points="403.0,154.0 405.2,153.2 406.2,154.8 404.0,155.5" fill="#c6c2cc"/>
<polygon points="324.2,288.9 326.4,288.1 327.4,289.7 325.2,290.6" fill="#c0bcc8"/>
<polygon points="323.4,307.7 325.7,306.9 326.7,308.5 324.4,309.4" fill="#c0bcc8"/>
<polygon points="437.9,166.1 440.1,165.3 441.1,166.8 438.9,167.6" fill="#c6c2cc"/>
<polygon points="309.4,273.0 311.7,272.1 312.7,273.8 310.4,274.6" fill="#b9b4c4"/>
<polygon points="445.1,162.7 447.4,161.9 448.4,163.5 446.1,164.3" fill="#c6c2cc"/>
<polygon points="310.5,217.3 312.8,216.5 313.8,218.2 311.5,219.0" fill="#aeb6a6"/>
<polygon points="362.5,184.4 364.8,183.6 365.8,185.3 363.5,186.0" fill="#c0bcc8"/>
<polygon points="355.0,183.3 357.3,182.5 358.3,184.1 356.0,184.9" fill="#aeb6a6"/>
<polygon points="464.7,253.1 466.9,252.3 467.9,253.9 465.7,254.7" fill="#b9b4c4"/>
<polygon points="306.1,277.5 308.3,276.7 309.3,278.4 307.1,279.2" fill="#c6c2cc"/>
<polygon points="362.2,189.9 364.4,189.1 365.4,190.7 363.2,191.5" fill="#c0bcc8"/>
<polygon points="328.3,281.2 330.5,280.4 331.5,282.0 329.3,282.9" fill="#c0bcc8"/>
<polygon points="408.1,213.9 410.3,213.1 411.3,214.7 409.1,215.5" fill="#c0bcc8"/>
<polygon points="448.4,167.6 450.7,166.8 451.6,168.3 449.4,169.1" fill="#c6c2cc"/>
<polygon points="452.9,170.6 455.2,169.8 456.1,171.3 453.9,172.1" fill="#c6c2cc"/>
<polygon points="349.4,208.3 351.7,207.5 352.7,209.1 350.4,209.9" fill="#b9b4c4"/>
<polygon points="404.7,144.2 406.9,143.4 407.9,145.0 405.7,145.8" fill="#aeb6a6"/>
<polygon points="334.2,174.0 336.5,173.2 337.4,174.8 335.2,175.6" fill="#c0bcc8"/>
<polygon points="454.9,213.4 457.1,212.5 458.1,214.1 455.8,214.9" fill="#aeb6a6"/>
<polygon points="407.7,233.9 409.9,233.1 410.9,234.7 408.7,235.5" fill="#b9b4c4"/>
<polygon points="346.3,183.6 348.6,182.8 349.6,184.4 347.3,185.2" fill="#c0bcc8"/>
<polygon points="278.5,236.0 280.7,235.2 281.8,236.9 279.5,237.7" fill="#aeb6a6"/>
<polygon points="464.9,193.2 467.1,192.4 468.1,194.0 465.8,194.8" fill="#c6c2cc"/>
<polygon points="319.8,293.3 322.0,292.5 323.0,294.2 320.8,295.0" fill="#c6c2cc"/>
<polygon points="317.1,172.5 319.4,171.7 320.4,173.4 318.1,174.2" fill="#c0bcc8"/>
<polygon points="287.1,221.1 289.3,220.3 290.3,222.0 288.1,222.8" fill="#c6c2cc"/>
<polygon points="350.7,266.8 352.9,265.9 353.9,267.6 351.7,268.4" fill="#b9b4c4"/>
<polygon points="306.5,188.3 308.8,187.5 309.8,189.1 307.5,189.9" fill="#c0bcc8"/>
<polygon points="385.3,201.7 387.5,200.9 388.5,202.5 386.3,203.3" fill="#aeb6a6"/>
<polygon points="323.5,201.8 325.8,201.1 326.8,202.7 324.5,203.5" fill="#c6c2cc"/>
<polygon points="419.8,232.6 422.0,231.7 423.0,233.3 420.8,234.2" fill="#c0bcc8"/>
<polygon points="439.2,225.9 441.5,225.1 442.4,226.7 440.2,227.5" fill="#c0bcc8"/>
<polygon points="329.5,267.5 331.7,266.7 332.7,268.3 330.5,269.2" fill="#c6c2cc"/>
<polygon points="318.2,287.3 320.5,286.5 321.5,288.1 319.2,289.0" fill="#c0bcc8"/>
<polygon points="440.0,238.0 442.2,237.1 443.2,238.7 440.9,239.6" fill="#c6c2cc"/>
<polygon points="467.4,219.6 469.7,218.8 470.6,220.4 468.4,221.2" fill="#b9b4c4"/>
<polygon points="441.1,206.9 443.4,206.1 444.4,207.6 442.1,208.5" fill="#c6c2cc"/>
<polygon points="270.9,194.0 273.2,193.2 274.2,194.9 271.9,195.7" fill="#aeb6a6"/>
<polygon points="451.1,175.7 453.3,174.9 454.3,176.5 452.1,177.3" fill="#c0bcc8"/>
<polygon points="396.1,229.4 398.3,228.6 399.3,230.2 397.1,231.0" fill="#c6c2cc"/>
<polygon points="341.2,164.5 343.5,163.8 344.5,165.4 342.2,166.2" fill="#b9b4c4"/>
<polygon points="421.7,203.2 423.9,202.4 424.9,203.9 422.6,204.8" fill="#b9b4c4"/>
<polygon points="376.1,160.9 378.4,160.1 379.4,161.7 377.1,162.5" fill="#c0bcc8"/>
<polygon points="303.3,187.3 305.6,186.5 306.6,188.1 304.3,188.9" fill="#aeb6a6"/>
<polygon points="346.9,265.4 349.2,264.6 350.2,266.3 347.9,267.1" fill="#c6c2cc"/>
<polygon points="452.1,255.5 454.3,254.6 455.3,256.2 453.0,257.1" fill="#c0bcc8"/>
<polygon points="410.4,150.4 412.7,149.7 413.7,151.3 411.4,152.0" fill="#aeb6a6"/>
<polygon points="432.7,214.4 434.9,213.6 435.9,215.2 433.7,216.0" fill="#c6c2cc"/>
<polygon points="276.8,206.5 279.1,205.7 280.1,207.4 277.8,208.2" fill="#aeb6a6"/>
<polygon points="417.2,230.4 419.4,229.6 420.4,231.2 418.2,232.0" fill="#c6c2cc"/>
<polygon points="259.1,200.7 261.4,199.9 262.4,201.6 260.1,202.3" fill="#aeb6a6"/>
<polygon points="434.8,145.0 437.1,144.2 438.1,145.8 435.8,146.5" fill="#c6c2cc"/>
<polygon points="394.3,184.6 396.5,183.8 397.5,185.4 395.3,186.2" fill="#aeb6a6"/>
<polygon points="368.3,217.7 370.5,216.8 371.5,218.5 369.3,219.3" fill="#b9b4c4"/>
<polygon points="468.7,192.1 470.9,191.3 471.9,192.8 469.7,193.7" fill="#aeb6a6"/>
<polygon points="491.9,234.8 494.2,234.0 495.1,235.5 492.9,236.4" fill="#b9b4c4"/>
<polygon points="310.2,185.2 312.4,184.4 313.4,186.0 311.2,186.8" fill="#c0bcc8"/>
<polygon points="458.0,174.6 460.2,173.8 461.2,175.3 458.9,176.1" fill="#c6c2cc"/>
<polygon points="272.4,200.2 274.6,199.4 275.6,201.1 273.4,201.8" fill="#aeb6a6"/>
<polygon points="433.5,149.8 435.8,149.0 436.7,150.6 434.5,151.4" fill="#aeb6a6"/>
<polygon points="460.0,215.8 462.2,215.0 463.2,216.6 461.0,217.4" fill="#c6c2cc"/>
<polygon points="402.1,261.1 404.4,260.2 405.4,261.8 403.1,262.7" fill="#c0bcc8"/>
<polygon points="257.4,193.4 259.7,192.6 260.7,194.3 258.4,195.0" fill="#c0bcc8"/>
<polygon points="403.1,196.8 405.3,196.0 406.3,197.6 404.1,198.4" fill="#c6c2cc"/>
<polygon points="353.4,210.7 355.7,209.9 356.7,211.6 354.4,212.4" fill="#b9b4c4"/>
<polygon points="404.4,142.6 406.7,141.8 407.7,143.4 405.4,144.2" fill="#aeb6a6"/>
<polygon points="412.2,155.6 414.4,154.8 415.4,156.4 413.2,157.1" fill="#c6c2cc"/>
<polygon points="442.3,249.2 444.5,248.3 445.5,249.9 443.3,250.8" fill="#aeb6a6"/>
<polygon points="302.8,186.1 305.1,185.4 306.1,187.0 303.8,187.8" fill="#c0bcc8"/>
<polygon points="472.4,196.0 474.6,195.2 475.6,196.8 473.3,197.6" fill="#aeb6a6"/>
<polygon points="470.4,218.9 472.6,218.1 473.6,219.6 471.4,220.5" fill="#b9b4c4"/>
<polygon points="306.9,182.9 309.1,182.1 310.1,183.8 307.9,184.6" fill="#aeb6a6"/>
<polygon points="377.4,171.6 379.6,170.8 380.6,172.4 378.3,173.2" fill="#aeb6a6"/>
<polygon points="352.9,202.7 355.2,201.9 356.2,203.5 353.9,204.3" fill="#aeb6a6"/>
<polygon points="423.2,192.5 425.4,191.7 426.4,193.3 424.2,194.1" fill="#b9b4c4"/>
<polygon points="441.7,212.9 443.9,212.1 444.9,213.7 442.7,214.5" fill="#c6c2cc"/>
<polygon points="385.9,155.3 388.1,154.6 389.1,156.2 386.9,156.9" fill="#c0bcc8"/>
<polygon points="385.3,250.5 387.6,249.7 388.6,251.3 386.3,252.1" fill="#aeb6a6"/>
<polygon points="402.4,265.9 404.6,265.0 405.6,266.6 403.4,267.5" fill="#c6c2cc"/>
<polygon points="312.0,231.0 314.3,230.2 315.3,231.8 313.0,232.7" fill="#aeb6a6"/>
<polygon points="357.0,259.3 359.2,258.4 360.2,260.1 358.0,260.9" fill="#aeb6a6"/>
<polygon points="342.3,196.0 344.5,195.2 345.5,196.9 343.3,197.6" fill="#c0bcc8"/>
<polygon points="380.0,203.6 382.3,202.8 383.3,204.5 381.0,205.3" fill="#c6c2cc"/>
<polygon points="373.8,162.9 376.1,162.1 377.1,163.7 374.8,164.5" fill="#c0bcc8"/>
<polygon points="382.8,210.6 385.0,209.8 386.0,211.4 383.8,212.2" fill="#aeb6a6"/>
<polygon points="462.6,181.2 464.9,180.4 465.8,182.0 463.6,182.8" fill="#c6c2cc"/>
<polygon points="368.1,187.6 370.4,186.8 371.4,188.4 369.1,189.2" fill="#c6c2cc"/>
<polygon points="320.6,183.5 322.9,182.8 323.9,184.4 321.6,185.2" fill="#c6c2cc"/>
<polygon points="374.4,262.4 376.7,261.6 377.7,263.2 375.4,264.0" fill="#c6c2cc"/>
<polygon points="463.2,220.8 465.4,220.0 466.4,221.6 464.1,222.4" fill="#c0bcc8"/>
<polygon points="372.7,254.3 374.9,253.5 375.9,255.1 373.7,255.9" fill="#c6c2cc"/>
<polygon points="343.8,209.0 346.0,208.2 347.0,209.9 344.8,210.7" fill="#b9b4c4"/>
<polygon points="381.6,227.5 383.9,226.7 384.9,228.3 382.6,229.1" fill="#aeb6a6"/>
<polygon points="310.0,244.0 312.3,243.2 313.3,244.8 311.1,245.6" fill="#c6c2cc"/>
<polygon points="331.2,291.0 333.4,290.2 334.4,291.8 332.2,292.7" fill="#c0bcc8"/>
<polygon points="355.2,219.6 357.5,218.8 358.5,220.4 356.2,221.2" fill="#aeb6a6"/>
<polygon points="464.6,236.8 466.8,236.0 467.8,237.5 465.5,238.4" fill="#b9b4c4"/>
<polygon points="304.9,235.0 307.2,234.2 308.2,235.8 305.9,236.7" fill="#c0bcc8"/>
<polygon points="460.2,187.3 462.5,186.5 463.5,188.1 461.2,188.9" fill="#b9b4c4"/>
<polygon points="386.6,274.0 388.8,273.1 389.8,274.8 387.6,275.6" fill="#c0bcc8"/>
<polygon points="444.8,161.1 447.0,160.3 448.0,161.8 445.8,162.6" fill="#b9b4c4"/>
<polygon points="303.5,197.8 305.8,197.0 306.8,198.7 304.5,199.5" fill="#b9b4c4"/>
<polygon points="471.0,214.2 473.2,213.3 474.2,214.9 472.0,215.7" fill="#c0bcc8"/>
<polygon points="321.6,277.9 323.8,277.0 324.8,278.7 322.6,279.5" fill="#b9b4c4"/>
<polygon points="409.5,171.4 411.8,170.6 412.8,172.2 410.5,173.0" fill="#b9b4c4"/>
<polygon points="389.7,188.0 392.0,187.2 393.0,188.8 390.7,189.6" fill="#c6c2cc"/>
<polygon points="401.5,213.9 403.8,213.1 404.8,214.7 402.5,215.5" fill="#c0bcc8"/>
<polygon points="386.3,163.5 388.6,162.7 389.6,164.3 387.3,165.1" fill="#b9b4c4"/>
<polygon points="371.5,282.1 373.7,281.2 374.7,282.9 372.5,283.7" fill="#c6c2cc"/>
<polygon points="338.0,195.5 340.2,194.7 341.2,196.3 339.0,197.1" fill="#b9b4c4"/>
<polygon points="275.4,228.4 277.7,227.6 278.7,229.3 276.4,230.1" fill="#c0bcc8"/>
<polygon points="324.6,212.9 326.9,212.1 327.9,213.7 325.6,214.5" fill="#c6c2cc"/>
<polygon points="354.4,191.2 356.7,190.4 357.7,192.0 355.4,192.8" fill="#c6c2cc"/>
<polygon points="286.4,239.8 288.6,239.0 289.7,240.7 287.4,241.5" fill="#aeb6a6"/>
<polygon points="276.1,213.3 278.3,212.5 279.3,214.1 277.1,214.9" fill="#c0bcc8"/>
<polygon points="283.0,215.5 285.3,214.7 286.3,216.3 284.0,217.1" fill="#c0bcc8"/>
<polygon points="434.9,161.7 437.1,160.9 438.1,162.5 435.8,163.3" fill="#b9b4c4"/>
<polygon points="426.8,230.3 429.0,229.4 430.0,231.0 427.8,231.9" fill="#aeb6a6"/>
<polygon points="389.3,174.0 391.5,173.2 392.5,174.8 390.2,175.6" fill="#aeb6a6"/>
<polygon points="420.1,204.0 422.4,203.2 423.4,204.8 421.1,205.6" fill="#c6c2cc"/>
<polygon points="355.8,186.1 358.0,185.3 359.0,186.9 356.8,187.7" fill="#c6c2cc"/>
<polygon points="309.5,205.2 311.8,204.4 312.8,206.1 310.5,206.9" fill="#aeb6a6"/>
<polygon points="315.3,258.8 317.5,257.9 318.5,259.6 316.3,260.4" fill="#c6c2cc"/>
<polygon points="447.0,191.5 449.3,190.7 450.3,192.3 448.0,193.1" fill="#b9b4c4"/>
<polygon points="433.7,151.5 436.0,150.7 436.9,152.3 434.7,153.1" fill="#c0bcc8"/>
<polygon points="264.1,193.8 266.4,193.1 267.4,194.7 265.1,195.5" fill="#c6c2cc"/>
<polygon points="376.1,248.1 378.3,247.3 379.3,248.9 377.1,249.7" fill="#c6c2cc"/>
<polygon points="385.0,270.6 387.2,269.8 388.2,271.4 386.0,272.3" fill="#aeb6a6"/>
<polygon points="452.3,258.4 454.5,257.5 455.5,259.1 453.2,260.0" fill="#c6c2cc"/>
<polygon points="324.8,194.9 327.0,194.2 328.0,195.8 325.8,196.6" fill="#c0bcc8"/>
<polygon points="304.3,268.6 306.5,267.7 307.5,269.4 305.3,270.2" fill="#c0bcc8"/>
<polygon points="470.4,249.7 472.6,248.8 473.6,250.4 471.4,251.2" fill="#c0bcc8"/>
<polygon points="283.4,184.3 285.7,183.6 286.7,185.2 284.4,186.0" fill="#aeb6a6"/>
<polygon points="296.2,237.4 298.5,236.6 299.5,238.3 297.2,239.1" fill="#b9b4c4"/>
<polygon points="405.5,243.8 407.7,242.9 408.7,244.5 406.4,245.4" fill="#c0bcc8"/>
<polygon points="373.2,264.6 375.4,263.7 376.4,265.3 374.2,266.2" fill="#c0bcc8"/>
<polygon points="317.1,269.5 319.4,268.7 320.4,270.3 318.1,271.2" fill="#c6c2cc"/>
<polygon points="382.7,274.4 385.0,273.6 386.0,275.2 383.7,276.1" fill="#c6c2cc"/>
<polygon points="397.4,136.6 401.7,143.6 401.7,129.4 397.4,122.4" fill="#cfcfd8"/><polygon points="401.7,143.6 416.0,138.7 416.0,124.5 401.7,129.4" fill="#e6e6ec"/><polygon points="397.4,122.4 411.6,117.5 416.0,124.5 401.7,129.4" fill="#dedee4"/><path d="M397.4,122.4 L401.7,129.4 L416.0,124.5 M401.7,129.4 L401.7,143.6" stroke="#f6f6fa" stroke-width="0.9" fill="none"/>
<polygon points="413.2,129.8 418.6,138.5 418.6,123.9 413.2,115.2" fill="#cfcfd8"/><polygon points="418.6,138.5 434.6,133.0 434.6,118.4 418.6,123.9" fill="#e6e6ec"/><polygon points="413.2,115.2 429.2,109.8 434.6,118.4 418.6,123.9" fill="#dedee4"/><path d="M413.2,115.2 L418.6,123.9 L434.6,118.4 M418.6,123.9 L418.6,138.5" stroke="#f6f6fa" stroke-width="0.9" fill="none"/>
<polygon points="366.8,144.9 372.8,154.7 372.8,143.2 366.8,133.4" fill="#2b3344"/><polygon points="372.8,154.7 399.3,145.5 399.3,134.0 372.8,143.2" fill="#333c4e"/><polygon points="366.8,133.4 393.3,124.4 399.3,134.0 372.8,143.2" fill="#3a4356"/><path d="M366.8,133.4 L372.8,143.2 L399.3,134.0 M372.8,143.2 L372.8,154.7" stroke="#4c566a" stroke-width="0.9" fill="none"/>
<path d="M304.4 176.4 V178.8 A2.4 1.5 0 0 0 309.2 178.8 V176.4 Z" fill="#55555a"/><ellipse cx="306.8" cy="176.4" rx="2.4" ry="1.5" fill="#c9c9cd"/>
<path d="M309.1 170.8 V173.2 A2.2 1.4 0 0 0 313.5 173.2 V170.8 Z" fill="#55555a"/><ellipse cx="311.3" cy="170.8" rx="2.2" ry="1.4" fill="#c9c9cd"/>
<polygon points="322.8,169.0 327.1,176.0 327.1,173.5 322.8,166.5" fill="#121216"/><polygon points="327.1,176.0 331.4,174.5 331.4,172.0 327.1,173.5" fill="#121216"/><polygon points="322.8,166.5 327.2,165.0 331.4,172.0 327.1,173.5" fill="#2a2a30"/>
<polygon points="350.7,153.2 356.8,163.2 356.8,150.7 350.7,140.7" fill="#cfcfd8"/><polygon points="356.8,163.2 369.2,158.9 369.2,146.4 356.8,150.7" fill="#e6e6ec"/><polygon points="350.7,140.7 363.1,136.4 369.2,146.4 356.8,150.7" fill="#dedee4"/><path d="M350.7,140.7 L356.8,150.7 L369.2,146.4 M356.8,150.7 L356.8,163.2" stroke="#f6f6fa" stroke-width="0.9" fill="none"/>
<polygon points="328.8,161.3 335.4,172.0 335.4,159.5 328.8,148.8" fill="#cfcfd8"/><polygon points="335.4,172.0 351.2,166.6 351.2,154.1 335.4,159.5" fill="#e6e6ec"/><polygon points="328.8,148.8 344.6,143.4 351.2,154.1 335.4,159.5" fill="#dedee4"/><path d="M328.8,148.8 L335.4,159.5 L351.2,154.1 M335.4,159.5 L335.4,172.0" stroke="#f6f6fa" stroke-width="0.9" fill="none"/>
<polygon points="266.7,193.3 268.9,196.8 268.9,194.8 266.7,191.3" fill="#121216"/><polygon points="268.9,196.8 281.1,192.6 281.1,190.6 268.9,194.8" fill="#121216"/><polygon points="266.7,191.3 278.9,187.1 281.1,190.6 268.9,194.8" fill="#2a2a30"/>
<polygon points="282.5,185.7 284.7,189.2 284.7,187.2 282.5,183.7" fill="#121216"/><polygon points="284.7,189.2 297.8,184.7 297.8,182.7 284.7,187.2" fill="#121216"/><polygon points="282.5,183.7 295.7,179.2 297.8,182.7 284.7,187.2" fill="#2a2a30"/>
<ellipse cx="263.4" cy="200.4" rx="5.6" ry="7" fill="#1f7fd0"/><ellipse cx="262.8" cy="198.8" rx="3.8" ry="4.6" fill="#3a3a40"/><circle cx="261.8" cy="197.6" r="1.2" fill="#d0d0d0"/><circle cx="264.2" cy="200.0" r="1.2" fill="#d0d0d0"/><circle cx="261.6" cy="201.0" r="1.0" fill="#c0c0c0"/>
<path d="M315.4 179.1 V181.1 A3.0 1.9 0 0 0 321.4 181.1 V179.1 Z" fill="#c6c6cc"/><ellipse cx="318.4" cy="179.1" rx="3.0" ry="1.9" fill="#e3e3e7"/>
<polygon points="433.9,140.4 437.4,146.0 437.4,143.0 433.9,137.4" fill="#15151a"/><polygon points="437.4,146.0 443.1,144.1 443.1,141.1 437.4,143.0" fill="#15151a"/><polygon points="433.9,137.4 439.6,135.5 443.1,141.1 437.4,143.0" fill="#2a2a30"/>
<polygon points="414.1,150.7 416.9,155.3 416.9,152.8 414.1,148.2" fill="#1668ae"/><polygon points="416.9,155.3 433.8,149.4 433.8,146.9 416.9,152.8" fill="#1668ae"/><polygon points="414.1,148.2 431.0,142.4 433.8,146.9 416.9,152.8" fill="#2388d8"/>
<polygon points="416.8,148.2 418.9,147.5 420.3,149.8 418.2,150.5" fill="#104f88"/>
<polygon points="420.6,146.9 422.7,146.2 424.1,148.5 422.0,149.2" fill="#104f88"/>
<polygon points="424.3,145.6 426.4,144.9 427.8,147.2 425.7,147.9" fill="#104f88"/>
<polygon points="428.1,144.3 430.2,143.6 431.6,145.9 429.5,146.6" fill="#104f88"/>
<polygon points="400.2,155.6 402.0,158.5 402.0,156.5 400.2,153.6" fill="#0c0c10"/><polygon points="402.0,158.5 408.8,156.2 408.8,154.2 402.0,156.5" fill="#0c0c10"/><polygon points="400.2,153.6 407.0,151.2 408.8,154.2 402.0,156.5" fill="#1a1a20"/>
<polygon points="390.3,159.8 392.1,162.8 392.1,160.8 390.3,157.8" fill="#0c0c10"/><polygon points="392.1,162.8 398.9,160.4 398.9,158.4 392.1,160.8" fill="#0c0c10"/><polygon points="390.3,157.8 397.1,155.5 398.9,158.4 392.1,160.8" fill="#1a1a20"/>
<polygon points="380.5,164.2 382.3,167.2 382.3,165.2 380.5,162.2" fill="#0c0c10"/><polygon points="382.3,167.2 389.0,164.8 389.0,162.8 382.3,165.2" fill="#0c0c10"/><polygon points="380.5,162.2 387.2,159.9 389.0,162.8 382.3,165.2" fill="#1a1a20"/>
<path d="M412.5 153.8 V155.8 A2.0 1.2 0 0 0 416.5 155.8 V153.8 Z" fill="#c4c4ca"/><ellipse cx="414.5" cy="153.8" rx="2.0" ry="1.2" fill="#e0e0e4"/>
<path d="M404.4 157.3 V159.3 A2.0 1.2 0 0 0 408.4 159.3 V157.3 Z" fill="#c4c4ca"/><ellipse cx="406.4" cy="157.3" rx="2.0" ry="1.2" fill="#e0e0e4"/>
<path d="M395.4 161.2 V163.2 A2.0 1.2 0 0 0 399.4 163.2 V161.2 Z" fill="#c4c4ca"/><ellipse cx="397.4" cy="161.2" rx="2.0" ry="1.2" fill="#e0e0e4"/>
<path d="M386.3 165.0 V167.0 A2.0 1.2 0 0 0 390.3 167.0 V165.0 Z" fill="#c4c4ca"/><ellipse cx="388.3" cy="165.0" rx="2.0" ry="1.2" fill="#e0e0e4"/>
<path d="M437.0 152.4 V155.4 A3.0 1.9 0 0 0 443.0 155.4 V152.4 Z" fill="#c6c6cc"/><ellipse cx="440.0" cy="152.4" rx="3.0" ry="1.9" fill="#e3e3e7"/>
<path d="M440.5 158.3 V161.3 A3.0 1.9 0 0 0 446.5 161.3 V158.3 Z" fill="#c6c6cc"/><ellipse cx="443.5" cy="158.3" rx="3.0" ry="1.9" fill="#e3e3e7"/>
<path d="M385.0 180.6 V183.0 A2.4 1.5 0 0 0 389.8 183.0 V180.6 Z" fill="#c0c0c6"/><ellipse cx="387.4" cy="180.6" rx="2.4" ry="1.5" fill="#dcdce0"/>
<path d="M343.5 185.0 L352.6 199.9" stroke="#1c1c22" stroke-width="7.4" stroke-linecap="round" fill="none"/><path d="M343.5 183.5 L352.6 198.4" stroke="#1c1c22" stroke-width="7.4" stroke-linecap="round" fill="none"/><path d="M343.5 182.0 L352.6 196.9" stroke="#34343c" stroke-width="7.4" stroke-linecap="round" fill="none"/><path d="M344.7 183.9 L348.0 189.3" stroke="#08080c" stroke-width="2.5160000000000005" stroke-linecap="round" fill="none"/><path d="M349.3 191.4 L351.5 195.0" stroke="#08080c" stroke-width="2.5160000000000005" stroke-linecap="round" fill="none"/>
<path d="M371.2 172.6 L381.4 189.2" stroke="#1c1c22" stroke-width="7.4" stroke-linecap="round" fill="none"/><path d="M371.2 171.1 L381.4 187.7" stroke="#1c1c22" stroke-width="7.4" stroke-linecap="round" fill="none"/><path d="M371.2 169.6 L381.4 186.2" stroke="#34343c" stroke-width="7.4" stroke-linecap="round" fill="none"/><path d="M372.4 171.4 L376.3 177.8" stroke="#08080c" stroke-width="2.5160000000000005" stroke-linecap="round" fill="none"/><path d="M377.6 179.9 L380.3 184.3" stroke="#08080c" stroke-width="2.5160000000000005" stroke-linecap="round" fill="none"/>
<polygon points="268.7,213.5 276.6,226.6 276.6,224.1 268.7,211.0" fill="#1e1e24"/><polygon points="276.6,226.6 285.6,223.4 285.6,220.9 276.6,224.1" fill="#1e1e24"/><polygon points="268.7,211.0 277.7,207.8 285.6,220.9 276.6,224.1" fill="#3a3a42"/><polygon points="270.5,211.8 272.8,211.0 274.1,213.1 271.8,213.9" fill="#b9b9bd"/><polygon points="274.5,210.4 276.7,209.6 278.0,211.8 275.8,212.5" fill="#b9b9bd"/><polygon points="272.9,215.7 275.1,214.9 276.4,217.1 274.2,217.9" fill="#b9b9bd"/><polygon points="276.8,214.3 279.1,213.5 280.4,215.7 278.1,216.5" fill="#b9b9bd"/><polygon points="275.3,219.7 277.5,218.9 278.8,221.0 276.6,221.8" fill="#b9b9bd"/><polygon points="279.2,218.3 281.5,217.5 282.7,219.6 280.5,220.4" fill="#b9b9bd"/>
<path d="M387.8 185.9 V188.3 A2.4 1.5 0 0 0 392.6 188.3 V185.9 Z" fill="#c0c0c6"/><ellipse cx="390.2" cy="185.9" rx="2.4" ry="1.5" fill="#dcdce0"/>
<path d="M448.1 168.2 V171.8 A2.6 1.6 0 0 0 453.3 171.8 V168.2 Z" fill="#55555a"/><ellipse cx="450.7" cy="168.2" rx="2.6" ry="1.6" fill="#c9c9cd"/>
<path d="M285.9 207.7 L298.8 229.1" stroke="#1c1c22" stroke-width="7.6" stroke-linecap="round" fill="none"/><path d="M285.9 206.2 L298.8 227.6" stroke="#1c1c22" stroke-width="7.6" stroke-linecap="round" fill="none"/><path d="M285.9 204.7 L298.8 226.1" stroke="#34343c" stroke-width="7.6" stroke-linecap="round" fill="none"/><path d="M287.1 206.6 L293.2 216.8" stroke="#08080c" stroke-width="2.584" stroke-linecap="round" fill="none"/><path d="M294.4 218.9 L297.6 224.2" stroke="#08080c" stroke-width="2.584" stroke-linecap="round" fill="none"/>
<polygon points="382.8,195.1 385.6,199.7 385.6,196.7 382.8,192.1" fill="#4a4a50"/><polygon points="385.6,199.7 391.2,197.7 391.2,194.7 385.6,196.7" fill="#4a4a50"/><polygon points="382.8,192.1 388.4,190.1 391.2,194.7 385.6,196.7" fill="#6c6c72"/>
<polygon points="358.2,205.3 360.7,209.4 360.7,207.4 358.2,203.3" fill="#131318"/><polygon points="360.7,209.4 371.9,205.4 371.9,203.4 360.7,207.4" fill="#131318"/><polygon points="358.2,203.3 369.5,199.3 371.9,203.4 360.7,207.4" fill="#2c2c32"/>
<path d="M452.2 174.1 V177.7 A2.6 1.6 0 0 0 457.4 177.7 V174.1 Z" fill="#55555a"/><ellipse cx="454.8" cy="174.1" rx="2.6" ry="1.6" fill="#c9c9cd"/>
<polygon points="278.4,231.1 286.6,244.7 286.6,242.2 278.4,228.6" fill="#1668ae"/><polygon points="286.6,244.7 293.5,242.2 293.5,239.7 286.6,242.2" fill="#1668ae"/><polygon points="278.4,228.6 285.3,226.1 293.5,239.7 286.6,242.2" fill="#2388d8"/><polygon points="280.2,229.7 282.0,229.0 283.0,230.7 281.2,231.3" fill="#0f5490"/><polygon points="283.3,228.5 285.2,227.8 286.2,229.5 284.3,230.2" fill="#0f5490"/><polygon points="282.0,232.8 283.9,232.1 284.9,233.8 283.0,234.4" fill="#0f5490"/><polygon points="285.2,231.6 287.1,230.9 288.1,232.6 286.2,233.3" fill="#0f5490"/><polygon points="283.9,235.9 285.8,235.2 286.8,236.9 284.9,237.5" fill="#0f5490"/><polygon points="287.1,234.7 288.9,234.0 290.0,235.7 288.1,236.4" fill="#0f5490"/><polygon points="285.8,239.0 287.6,238.3 288.6,239.9 286.8,240.6" fill="#0f5490"/><polygon points="288.9,237.8 290.8,237.1 291.8,238.8 290.0,239.5" fill="#0f5490"/>
<path d="M390.4 203.4 V206.4 A2.8 1.7 0 0 0 396.0 206.4 V203.4 Z" fill="#bcbcc2"/><ellipse cx="393.2" cy="203.4" rx="2.8" ry="1.7" fill="#dcdce0"/>
<path d="M300.7 236.6 V240.0 A2.7 1.7 0 0 0 306.1 240.0 V236.6 Z" fill="#505056"/><ellipse cx="303.4" cy="236.6" rx="2.7" ry="1.7" fill="#c9c9cd"/>
<path d="M456.7 180.2 V183.8 A2.6 1.6 0 0 0 461.9 183.8 V180.2 Z" fill="#55555a"/><ellipse cx="459.3" cy="180.2" rx="2.6" ry="1.6" fill="#c9c9cd"/>
<path d="M316.5 195.5 L336.9 229.2" stroke="#4ea6e2" stroke-width="9.6" stroke-linecap="round" fill="none"/><path d="M316.5 194.0 L336.9 227.7" stroke="#4ea6e2" stroke-width="9.6" stroke-linecap="round" fill="none"/><path d="M316.5 192.5 L336.9 226.2" stroke="#7ec6f2" stroke-width="9.6" stroke-linecap="round" fill="none"/><path d="M318.0 195.0 L330.1 215.0" stroke="#2f7fb4" stroke-width="3.2640000000000002" stroke-linecap="round" fill="none"/><path d="M331.4 217.0 L335.4 223.7" stroke="#2f7fb4" stroke-width="3.2640000000000002" stroke-linecap="round" fill="none"/>
<path d="M302.2 200.5 L322.7 234.4" stroke="#4ea6e2" stroke-width="9.6" stroke-linecap="round" fill="none"/><path d="M302.2 199.0 L322.7 232.9" stroke="#4ea6e2" stroke-width="9.6" stroke-linecap="round" fill="none"/><path d="M302.2 197.5 L322.7 231.4" stroke="#7ec6f2" stroke-width="9.6" stroke-linecap="round" fill="none"/><path d="M303.7 199.9 L315.9 220.1" stroke="#2f7fb4" stroke-width="3.2640000000000002" stroke-linecap="round" fill="none"/><path d="M317.2 222.2 L321.2 228.9" stroke="#2f7fb4" stroke-width="3.2640000000000002" stroke-linecap="round" fill="none"/>
<polygon points="386.9,169.5 431.9,153.7 454.3,189.8 409.4,206.1" fill="#e2e2e6"/><polygon points="386.9,168.0 431.9,152.2 454.3,188.3 409.4,204.6" fill="#d6d6da"/><polygon points="391.9,169.4 430.3,155.9 449.6,186.9 411.2,200.9" fill="#aeaeb2"/><polygon points="398.8,171.8 428.8,161.3 439.1,178.0 409.2,188.7" fill="#414145"/><polygon points="409.4,187.4 437.1,177.4 443.4,187.6 415.7,197.6" fill="#2e2e32"/>
<polygon points="363.6,214.0 365.2,213.4 366.2,215.1 364.5,215.7" fill="#cfe0c6"/>
<polygon points="370.1,241.5 371.9,240.9 372.9,242.5 371.1,243.2" fill="#cfe0c6"/>
<polygon points="365.7,217.5 367.4,216.9 368.4,218.5 366.7,219.1" fill="#cfe0c6"/>
<polygon points="372.2,245.0 374.1,244.3 375.0,246.0 373.2,246.7" fill="#cfe0c6"/>
<polygon points="367.8,221.0 369.5,220.4 370.5,222.0 368.8,222.6" fill="#cfe0c6"/>
<polygon points="374.3,248.5 376.2,247.8 377.2,249.5 375.3,250.2" fill="#cfe0c6"/>
<polygon points="369.9,224.5 371.6,223.9 372.6,225.5 370.9,226.1" fill="#cfe0c6"/>
<polygon points="376.5,252.0 378.3,251.3 379.3,253.0 377.4,253.7" fill="#cfe0c6"/>
<polygon points="366.9,212.8 368.6,212.2 369.6,213.8 367.9,214.4" fill="#cfe0c6"/>
<polygon points="373.8,240.2 375.7,239.5 376.6,241.1 374.8,241.8" fill="#cfe0c6"/>
<polygon points="369.0,216.3 370.7,215.7 371.7,217.3 370.0,217.9" fill="#cfe0c6"/>
<polygon points="375.9,243.7 377.8,243.0 378.8,244.6 376.9,245.3" fill="#cfe0c6"/>
<polygon points="371.2,219.8 372.9,219.2 373.8,220.8 372.2,221.4" fill="#cfe0c6"/>
<polygon points="378.0,247.1 379.9,246.4 380.9,248.1 379.0,248.8" fill="#cfe0c6"/>
<polygon points="373.3,223.3 375.0,222.6 376.0,224.3 374.3,224.9" fill="#cfe0c6"/>
<polygon points="380.2,250.6 382.0,249.9 383.0,251.6 381.2,252.3" fill="#cfe0c6"/>
<polygon points="370.3,211.6 372.0,211.0 373.0,212.6 371.3,213.2" fill="#cfe0c6"/>
<polygon points="377.5,238.8 379.4,238.1 380.4,239.7 378.5,240.4" fill="#cfe0c6"/>
<polygon points="372.4,215.1 374.1,214.5 375.1,216.1 373.4,216.7" fill="#cfe0c6"/>
<polygon points="379.6,242.3 381.5,241.6 382.5,243.2 380.6,243.9" fill="#cfe0c6"/>
<polygon points="374.5,218.6 376.2,217.9 377.2,219.6 375.5,220.2" fill="#cfe0c6"/>
<polygon points="381.8,245.7 383.6,245.0 384.6,246.7 382.8,247.4" fill="#cfe0c6"/>
<polygon points="376.7,222.0 378.3,221.4 379.3,223.0 377.7,223.7" fill="#cfe0c6"/>
<polygon points="383.9,249.2 385.8,248.5 386.8,250.2 384.9,250.9" fill="#cfe0c6"/>
<polygon points="373.6,210.4 375.3,209.8 376.3,211.4 374.6,212.0" fill="#cfe0c6"/>
<polygon points="381.2,237.4 383.1,236.7 384.1,238.3 382.2,239.0" fill="#cfe0c6"/>
<polygon points="375.8,213.9 377.5,213.2 378.4,214.9 376.8,215.5" fill="#cfe0c6"/>
<polygon points="383.4,240.9 385.2,240.2 386.2,241.8 384.4,242.5" fill="#cfe0c6"/>
<polygon points="377.9,217.3 379.6,216.7 380.6,218.3 378.9,218.9" fill="#cfe0c6"/>
<polygon points="385.5,244.4 387.4,243.7 388.4,245.3 386.5,246.0" fill="#cfe0c6"/>
<polygon points="380.0,220.8 381.7,220.2 382.7,221.8 381.0,222.4" fill="#cfe0c6"/>
<polygon points="387.6,247.8 389.5,247.1 390.5,248.8 388.6,249.5" fill="#cfe0c6"/>
<path d="M330.8 190.7 L354.0 228.6" stroke="#1668ae" stroke-width="8.8" stroke-linecap="round" fill="none"/><path d="M330.8 189.2 L354.0 227.1" stroke="#1668ae" stroke-width="8.8" stroke-linecap="round" fill="none"/><path d="M330.8 187.7 L354.0 225.6" stroke="#2388d8" stroke-width="8.8" stroke-linecap="round" fill="none"/><path d="M332.2 189.9 L347.7 215.3" stroke="#0f4f86" stroke-width="2.9920000000000004" stroke-linecap="round" fill="none"/><path d="M348.9 217.4 L352.6 223.4" stroke="#0f4f86" stroke-width="2.9920000000000004" stroke-linecap="round" fill="none"/>
<path d="M304.5 243.3 V246.7 A2.7 1.7 0 0 0 309.9 246.7 V243.3 Z" fill="#505056"/><ellipse cx="307.2" cy="243.3" rx="2.7" ry="1.7" fill="#c9c9cd"/>
<path d="M357.9 178.4 L383.8 220.5" stroke="#1668ae" stroke-width="8.8" stroke-linecap="round" fill="none"/><path d="M357.9 176.9 L383.8 219.0" stroke="#1668ae" stroke-width="8.8" stroke-linecap="round" fill="none"/><path d="M357.9 175.4 L383.8 217.5" stroke="#2388d8" stroke-width="8.8" stroke-linecap="round" fill="none"/><path d="M359.3 177.6 L376.9 206.3" stroke="#0f4f86" stroke-width="2.9920000000000004" stroke-linecap="round" fill="none"/><path d="M378.1 208.4 L382.4 215.3" stroke="#0f4f86" stroke-width="2.9920000000000004" stroke-linecap="round" fill="none"/>
<polygon points="415.8,208.0 417.7,207.3 418.8,209.1 417.0,209.8" fill="#cfe0c6"/>
<polygon points="421.8,205.8 423.7,205.1 424.8,206.9 422.9,207.6" fill="#cfe0c6"/>
<polygon points="427.8,203.6 429.7,202.9 430.8,204.7 428.9,205.4" fill="#cfe0c6"/>
<polygon points="433.8,201.4 435.6,200.7 436.8,202.5 434.9,203.2" fill="#cfe0c6"/>
<polygon points="439.8,199.2 441.6,198.5 442.7,200.4 440.9,201.0" fill="#cfe0c6"/>
<polygon points="445.7,197.0 447.6,196.4 448.7,198.2 446.9,198.8" fill="#cfe0c6"/>
<polygon points="451.7,194.8 453.6,194.2 454.7,196.0 452.8,196.7" fill="#cfe0c6"/>
<path d="M316.1 242.5 V245.9 A3.1 1.9 0 0 0 322.3 245.9 V242.5 Z" fill="#c9c9cf"/><ellipse cx="319.2" cy="242.5" rx="3.1" ry="1.9" fill="#e6e6ea"/>
<path d="M327.0 238.6 V242.0 A3.1 1.9 0 0 0 333.2 242.0 V238.6 Z" fill="#c9c9cf"/><ellipse cx="330.1" cy="238.6" rx="3.1" ry="1.9" fill="#e6e6ea"/>
<ellipse cx="401.1" cy="216.0" rx="7.4" ry="5.9" fill="#d4d4d8"/><ellipse cx="401.1" cy="216.0" rx="5.6" ry="4.3" fill="#a9a9ad"/>
<path d="M337.8 236.0 V239.4 A3.1 1.9 0 0 0 344.0 239.4 V236.0 Z" fill="#c9c9cf"/><ellipse cx="340.9" cy="236.0" rx="3.1" ry="1.9" fill="#e6e6ea"/>
<polygon points="287.0,245.4 295.2,259.0 295.2,256.5 287.0,242.9" fill="#1668ae"/><polygon points="295.2,259.0 302.1,256.4 302.1,253.9 295.2,256.5" fill="#1668ae"/><polygon points="287.0,242.9 293.9,240.4 302.1,253.9 295.2,256.5" fill="#2388d8"/><polygon points="288.8,244.0 290.7,243.3 291.7,245.0 289.8,245.6" fill="#0f5490"/><polygon points="292.0,242.8 293.8,242.1 294.8,243.8 293.0,244.5" fill="#0f5490"/><polygon points="290.7,247.1 292.5,246.4 293.5,248.1 291.7,248.7" fill="#0f5490"/><polygon points="293.8,245.9 295.7,245.2 296.7,246.9 294.8,247.6" fill="#0f5490"/><polygon points="292.5,250.2 294.4,249.5 295.4,251.2 293.5,251.8" fill="#0f5490"/><polygon points="295.7,249.0 297.6,248.3 298.6,250.0 296.7,250.7" fill="#0f5490"/><polygon points="294.4,253.3 296.3,252.6 297.3,254.3 295.4,254.9" fill="#0f5490"/><polygon points="297.6,252.1 299.4,251.4 300.4,253.1 298.6,253.8" fill="#0f5490"/>
<polygon points="352.7,234.8 356.4,240.9 356.4,238.4 352.7,232.3" fill="#1a6fb8"/><polygon points="356.4,240.9 365.3,237.6 365.3,235.1 356.4,238.4" fill="#1a6fb8"/><polygon points="352.7,232.3 361.7,229.0 365.3,235.1 356.4,238.4" fill="#2b8edc"/>
<polygon points="378.5,223.5 382.0,229.3 382.0,226.8 378.5,221.0" fill="#1a6fb8"/><polygon points="382.0,229.3 394.1,224.8 394.1,222.3 382.0,226.8" fill="#1a6fb8"/><polygon points="378.5,221.0 390.6,216.5 394.1,222.3 382.0,226.8" fill="#2b8edc"/>
<polygon points="309.0,258.4 310.5,257.9 311.9,260.2 310.4,260.8" fill="#c8324a"/>
<polygon points="310.5,255.7 312.0,255.1 313.5,257.5 312.0,258.0" fill="#c8324a"/>
<polygon points="342.7,171.3 344.2,170.8 345.6,173.1 344.1,173.6" fill="#c8324a"/>
<polygon points="344.6,170.0 346.1,169.4 347.5,171.8 346.0,172.3" fill="#c8324a"/>
<polygon points="369.2,232.6 373.3,231.1 374.2,232.6 370.1,234.1" fill="#0f5a78"/>
<polygon points="374.2,231.5 378.3,229.9 379.2,231.5 375.1,233.0" fill="#0f5a78"/>
<polygon points="381.5,226.6 385.6,225.1 386.6,226.6 382.5,228.1" fill="#0f5a78"/>
<polygon points="385.8,224.3 390.0,222.8 390.9,224.3 386.8,225.8" fill="#0f5a78"/>
<polygon points="361.2,242.0 365.3,240.5 366.2,242.0 362.1,243.5" fill="#0f5a78"/>
<polygon points="374.6,252.7 378.7,251.2 379.6,252.7 375.5,254.2" fill="#0f5a78"/>
<polygon points="379.4,253.1 383.5,251.5 384.4,253.0 380.3,254.6" fill="#0f5a78"/>
<polygon points="407.4,218.5 411.5,217.0 412.5,218.5 408.4,220.0" fill="#0f5a78"/>
<polygon points="412.9,220.0 417.0,218.5 418.0,220.0 413.9,221.5" fill="#0f5a78"/>
<polygon points="336.4,249.3 339.3,254.1 339.3,251.9 336.4,247.1" fill="#131318"/><polygon points="339.3,254.1 355.0,248.3 355.0,246.1 339.3,251.9" fill="#131318"/><polygon points="336.4,247.1 352.0,241.3 355.0,246.1 339.3,251.9" fill="#2c2c32"/>
<polygon points="460.5,199.4 466.1,208.4 466.1,204.9 460.5,195.9" fill="#d9d9d2"/><polygon points="466.1,208.4 478.6,203.7 478.6,200.2 466.1,204.9" fill="#e4e4de"/><polygon points="460.5,195.9 473.0,191.3 478.6,200.2 466.1,204.9" fill="#f0f0ea"/>
<polygon points="394.7,230.1 397.4,234.5 397.4,231.7 394.7,227.3" fill="#1a6fb8"/><polygon points="397.4,234.5 466.4,208.8 466.4,206.0 397.4,231.7" fill="#1a6fb8"/><polygon points="394.7,227.3 463.7,201.8 466.4,206.0 397.4,231.7" fill="#2e92e0"/><polygon points="396.4,228.7 463.9,203.6 464.6,204.7 397.1,229.8" fill="#1f5e96"/>
<polygon points="380.8,232.2 386.1,240.8 386.1,237.3 380.8,228.7" fill="#d9d9d2"/><polygon points="386.1,240.8 398.4,236.3 398.4,232.8 386.1,237.3" fill="#e4e4de"/><polygon points="380.8,228.7 393.1,224.1 398.4,232.8 386.1,237.3" fill="#f0f0ea"/>
<polygon points="295.6,259.7 303.8,273.3 303.8,270.8 295.6,257.2" fill="#1668ae"/><polygon points="303.8,273.3 310.7,270.7 310.7,268.2 303.8,270.8" fill="#1668ae"/><polygon points="295.6,257.2 302.5,254.6 310.7,268.2 303.8,270.8" fill="#2388d8"/><polygon points="297.4,258.3 299.3,257.6 300.3,259.3 298.4,260.0" fill="#0f5490"/><polygon points="300.6,257.1 302.5,256.4 303.5,258.1 301.6,258.8" fill="#0f5490"/><polygon points="299.3,261.4 301.2,260.7 302.2,262.4 300.3,263.1" fill="#0f5490"/><polygon points="302.5,260.2 304.3,259.5 305.3,261.2 303.5,261.9" fill="#0f5490"/><polygon points="301.2,264.5 303.0,263.8 304.0,265.5 302.2,266.2" fill="#0f5490"/><polygon points="304.3,263.3 306.2,262.6 307.2,264.3 305.3,265.0" fill="#0f5490"/><polygon points="303.0,267.6 304.9,266.9 305.9,268.6 304.0,269.3" fill="#0f5490"/><polygon points="306.2,266.4 308.1,265.7 309.1,267.4 307.2,268.1" fill="#0f5490"/>
<path d="M360.5 247.7 V251.3 A2.9 1.8 0 0 0 366.3 251.3 V247.7 Z" fill="#505056"/><ellipse cx="363.4" cy="247.7" rx="2.9" ry="1.8" fill="#c9c9cd"/>
<path d="M329.9 261.2 V264.6 A2.7 1.7 0 0 0 335.3 264.6 V261.2 Z" fill="#505056"/><ellipse cx="332.6" cy="261.2" rx="2.7" ry="1.7" fill="#c9c9cd"/>
<path d="M311.0 274.6 V276.2 A3.0 1.9 0 0 0 317.0 276.2 V274.6 Z" fill="#c4c4ca"/><ellipse cx="314.0" cy="274.6" rx="3.0" ry="1.9" fill="#e0e0e4"/>
<polygon points="466.2,208.6 471.8,217.6 471.8,214.1 466.2,205.1" fill="#d9d9d2"/><polygon points="471.8,217.6 484.3,212.9 484.3,209.4 471.8,214.1" fill="#e4e4de"/><polygon points="466.2,205.1 478.7,200.5 484.3,209.4 471.8,214.1" fill="#f0f0ea"/>
<polygon points="400.3,239.3 402.9,243.6 402.9,240.8 400.3,236.5" fill="#050508"/><polygon points="402.9,243.6 471.9,217.7 471.9,214.9 402.9,240.8" fill="#050508"/><polygon points="400.3,236.5 469.2,210.7 471.9,214.9 402.9,240.8" fill="#15151a"/><polygon points="402.0,237.8 469.4,212.5 470.1,213.6 402.7,239.0" fill="#000000"/>
<polygon points="386.3,241.1 391.6,249.8 391.6,246.3 386.3,237.6" fill="#d9d9d2"/><polygon points="391.6,249.8 403.9,245.1 403.9,241.6 391.6,246.3" fill="#e4e4de"/><polygon points="386.3,237.6 398.6,233.0 403.9,241.6 391.6,246.3" fill="#f0f0ea"/>
<polygon points="471.9,217.8 477.5,226.9 477.5,223.4 471.9,214.3" fill="#d9d9d2"/><polygon points="477.5,226.9 490.0,222.1 490.0,218.6 477.5,223.4" fill="#e4e4de"/><polygon points="471.9,214.3 484.4,209.7 490.0,218.6 477.5,223.4" fill="#f0f0ea"/>
<polygon points="391.7,250.0 397.0,258.7 397.0,255.2 391.7,246.5" fill="#d9d9d2"/><polygon points="397.0,258.7 409.3,254.0 409.3,250.5 397.0,255.2" fill="#e4e4de"/><polygon points="391.7,246.5 404.0,241.9 409.3,250.5 397.0,255.2" fill="#f0f0ea"/>
<polygon points="406.0,248.6 408.7,253.0 408.7,250.2 406.0,245.8" fill="#1a6fb8"/><polygon points="408.7,253.0 477.5,226.9 477.5,224.1 408.7,250.2" fill="#1a6fb8"/><polygon points="406.0,245.8 474.9,219.8 477.5,224.1 408.7,250.2" fill="#2e92e0"/><polygon points="407.7,247.1 475.1,221.6 475.8,222.8 408.4,248.3" fill="#1f5e96"/>
<polygon points="309.1,283.9 315.2,294.1 315.2,292.1 309.1,281.9" fill="#050508"/><polygon points="315.2,294.1 318.3,292.9 318.3,290.9 315.2,292.1" fill="#050508"/><polygon points="309.1,281.9 312.2,280.7 318.3,290.9 315.2,292.1" fill="#18181c"/>
<polygon points="356.7,261.6 364.4,274.3 364.4,271.7 356.7,259.0" fill="#1f74be"/><polygon points="364.4,274.3 373.7,270.8 373.7,268.2 364.4,271.7" fill="#1f74be"/><polygon points="356.7,259.0 366.0,255.5 373.7,268.2 364.4,271.7" fill="#3a9ae6"/><polygon points="360.2,260.3 365.0,258.5 370.1,266.9 365.3,268.7" fill="#1b62a2"/><polygon points="363.0,261.5 364.5,261.0 367.3,265.7 365.8,266.2" fill="#3a9ae6"/>
<polygon points="339.2,268.6 346.9,281.4 346.9,278.8 339.2,266.0" fill="#1f74be"/><polygon points="346.9,281.4 356.2,277.8 356.2,275.2 346.9,278.8" fill="#1f74be"/><polygon points="339.2,266.0 348.5,262.5 356.2,275.2 346.9,278.8" fill="#3a9ae6"/><polygon points="342.7,267.3 347.5,265.5 352.7,274.0 347.8,275.8" fill="#1b62a2"/><polygon points="345.5,268.6 347.0,268.0 349.9,272.7 348.4,273.3" fill="#3a9ae6"/>
<polygon points="321.2,275.7 329.0,288.5 329.0,285.9 321.2,273.1" fill="#d6d2c8"/><polygon points="329.0,288.5 338.3,285.0 338.3,282.4 329.0,285.9" fill="#d6d2c8"/><polygon points="321.2,273.1 330.6,269.6 338.3,282.4 329.0,285.9" fill="#f2efe8"/><polygon points="324.8,274.4 329.6,272.5 334.8,281.1 329.9,282.9" fill="#6a6a70"/><polygon points="327.6,275.6 329.1,275.1 332.0,279.8 330.5,280.4" fill="#f2efe8"/>
<polygon points="382.4,259.8 387.3,268.0 387.3,265.5 382.4,257.3" fill="#121216"/><polygon points="387.3,268.0 392.9,265.9 392.9,263.4 387.3,265.5" fill="#121216"/><polygon points="382.4,257.3 387.9,255.2 392.9,263.4 387.3,265.5" fill="#2c2c34"/>
<polygon points="477.7,227.1 483.3,236.1 483.3,232.6 477.7,223.6" fill="#d9d9d2"/><polygon points="483.3,236.1 495.7,231.3 495.7,227.8 483.3,232.6" fill="#e4e4de"/><polygon points="477.7,223.6 490.1,218.8 495.7,227.8 483.3,232.6" fill="#f0f0ea"/>
<polygon points="397.2,258.9 402.5,267.6 402.5,264.1 397.2,255.4" fill="#d9d9d2"/><polygon points="402.5,267.6 414.8,262.9 414.8,259.4 402.5,264.1" fill="#e4e4de"/><polygon points="397.2,255.4 409.5,250.8 414.8,259.4 402.5,264.1" fill="#f0f0ea"/>
<polygon points="411.8,258.1 414.5,262.5 414.5,259.7 411.8,255.3" fill="#050508"/><polygon points="414.5,262.5 483.3,236.1 483.3,233.3 414.5,259.7" fill="#050508"/><polygon points="411.8,255.3 480.6,229.0 483.3,233.3 414.5,259.7" fill="#15151a"/><polygon points="413.5,256.6 480.8,230.9 481.5,232.0 414.2,257.8" fill="#000000"/>
<path d="M382.6 275.5 V277.3 A2.9 1.8 0 0 0 388.4 277.3 V275.5 Z" fill="#c0c0c6"/><ellipse cx="385.5" cy="275.5" rx="2.9" ry="1.8" fill="#dcdce0"/>
<path d="M394.6 274.5 V276.3 A2.9 1.8 0 0 0 400.4 276.3 V274.5 Z" fill="#c0c0c6"/><ellipse cx="397.5" cy="274.5" rx="2.9" ry="1.8" fill="#dcdce0"/>
<polygon points="317.4,296.2 323.5,306.3 323.5,304.3 317.4,294.2" fill="#050508"/><polygon points="323.5,306.3 326.6,305.1 326.6,303.1 323.5,304.3" fill="#050508"/><polygon points="317.4,294.2 320.5,293.0 326.6,303.1 323.5,304.3" fill="#18181c"/>
<polygon points="405.9,270.2 408.7,274.8 408.7,272.8 405.9,268.2" fill="#1a6fb8"/><polygon points="408.7,274.8 428.0,267.4 428.0,265.4 408.7,272.8" fill="#1a6fb8"/><polygon points="405.9,268.2 425.2,260.8 428.0,265.4 408.7,272.8" fill="#2e8edc"/>
<polygon points="365.9,276.1 373.6,288.8 373.6,286.2 365.9,273.5" fill="#1f74be"/><polygon points="373.6,288.8 382.9,285.2 382.9,282.6 373.6,286.2" fill="#1f74be"/><polygon points="365.9,273.5 375.2,270.0 382.9,282.6 373.6,286.2" fill="#3a9ae6"/><polygon points="369.5,274.8 374.3,273.0 379.4,281.4 374.6,283.2" fill="#1b62a2"/><polygon points="372.3,276.0 373.8,275.5 376.6,280.2 375.1,280.7" fill="#3a9ae6"/>
<polygon points="348.4,283.1 356.1,295.9 356.1,293.3 348.4,280.5" fill="#1f74be"/><polygon points="356.1,295.9 365.4,292.3 365.4,289.7 356.1,293.3" fill="#1f74be"/><polygon points="348.4,280.5 357.7,277.0 365.4,289.7 356.1,293.3" fill="#3a9ae6"/><polygon points="351.9,281.8 356.8,280.0 361.9,288.4 357.1,290.3" fill="#1b62a2"/><polygon points="354.7,283.0 356.2,282.5 359.1,287.2 357.6,287.8" fill="#3a9ae6"/>
<polygon points="426.5,261.8 430.0,267.6 430.0,265.1 426.5,259.3" fill="#1668ae"/><polygon points="430.0,267.6 480.9,247.9 480.9,245.4 430.0,265.1" fill="#1668ae"/><polygon points="426.5,259.3 477.4,239.7 480.9,245.4 430.0,265.1" fill="#2388d8"/><polygon points="428.8,259.4 431.1,258.6 432.1,260.3 429.9,261.1" fill="#0f5490"/><polygon points="430.4,262.0 432.6,261.1 433.7,262.8 431.5,263.7" fill="#0f5490"/><polygon points="432.8,257.9 435.1,257.0 436.1,258.7 433.9,259.6" fill="#0f5490"/><polygon points="434.4,260.4 436.6,259.6 437.7,261.3 435.4,262.1" fill="#0f5490"/><polygon points="436.8,256.3 439.1,255.5 440.1,257.2 437.9,258.1" fill="#0f5490"/><polygon points="438.4,258.9 440.6,258.0 441.7,259.7 439.4,260.6" fill="#0f5490"/><polygon points="440.8,254.8 443.1,254.0 444.1,255.7 441.9,256.5" fill="#0f5490"/><polygon points="442.4,257.3 444.6,256.5 445.7,258.2 443.4,259.0" fill="#0f5490"/><polygon points="444.8,253.3 447.1,252.4 448.1,254.1 445.9,255.0" fill="#0f5490"/><polygon points="446.4,255.8 448.6,254.9 449.7,256.6 447.4,257.5" fill="#0f5490"/><polygon points="448.8,251.7 451.1,250.9 452.1,252.6 449.9,253.4" fill="#0f5490"/><polygon points="450.4,254.2 452.6,253.4 453.7,255.1 451.4,256.0" fill="#0f5490"/><polygon points="452.8,250.2 455.0,249.3 456.1,251.0 453.9,251.9" fill="#0f5490"/><polygon points="454.4,252.7 456.6,251.8 457.6,253.6 455.4,254.4" fill="#0f5490"/><polygon points="456.8,248.7 459.0,247.8 460.1,249.5 457.9,250.4" fill="#0f5490"/><polygon points="458.4,251.2 460.6,250.3 461.6,252.0 459.4,252.9" fill="#0f5490"/><polygon points="460.8,247.1 463.0,246.3 464.1,248.0 461.9,248.8" fill="#0f5490"/><polygon points="462.4,249.6 464.6,248.8 465.6,250.5 463.4,251.3" fill="#0f5490"/><polygon points="464.8,245.6 467.0,244.7 468.1,246.4 465.9,247.3" fill="#0f5490"/><polygon points="466.3,248.1 468.6,247.2 469.6,248.9 467.4,249.8" fill="#0f5490"/><polygon points="468.8,244.0 471.0,243.2 472.1,244.9 469.8,245.7" fill="#0f5490"/><polygon points="470.3,246.5 472.6,245.7 473.6,247.4 471.4,248.2" fill="#0f5490"/><polygon points="472.8,242.5 475.0,241.6 476.1,243.3 473.8,244.2" fill="#0f5490"/><polygon points="474.3,245.0 476.6,244.1 477.6,245.8 475.4,246.7" fill="#0f5490"/>
<polygon points="330.5,290.3 338.3,303.1 338.3,300.5 330.5,287.7" fill="#d6d2c8"/><polygon points="338.3,303.1 347.6,299.5 347.6,296.9 338.3,300.5" fill="#d6d2c8"/><polygon points="330.5,287.7 339.8,284.1 347.6,296.9 338.3,300.5" fill="#f2efe8"/><polygon points="334.0,288.9 338.9,287.1 344.0,295.6 339.2,297.5" fill="#6a6a70"/><polygon points="336.9,290.2 338.3,289.6 341.2,294.4 339.7,294.9" fill="#f2efe8"/>
</g></g>
<g transform="translate(0 255)"><clipPath id="mbclip1"><rect x="259" y="100" width="236.3" height="220"/></clipPath>
<g clip-path="url(#mbclip1)">
<polygon points="247.5,193.4 435.5,129.0 505.2,241.0 319.5,313.0" fill="#6fa72e"/>
<path d="M319.5,313.0 L505.2,241.0" stroke="#4d8a22" stroke-width="1.6" fill="none"/>
<path d="M247.5,193.4 L319.5,313.0" stroke="#5a9a28" stroke-width="1.2" fill="none"/>
<polygon points="317.9,191.6 332.7,186.4 335.9,191.6 321.0,196.8" fill="#64a22f"/>
<polygon points="306.9,252.0 324.5,245.5 328.3,251.7 310.6,258.3" fill="#559a33"/>
<polygon points="331.4,176.4 339.9,173.5 344.6,181.1 336.0,184.1" fill="#78aa2c"/>
<polygon points="410.4,260.9 424.9,255.4 430.2,264.0 415.7,269.6" fill="#559a33"/>
<polygon points="376.9,202.3 395.4,195.6 398.4,200.6 380.0,207.2" fill="#78aa2c"/>
<polygon points="302.8,231.9 316.4,227.0 321.7,235.8 308.1,240.7" fill="#64a22f"/>
<polygon points="403.8,165.3 417.9,160.3 423.4,169.2 409.3,174.2" fill="#7fb12c"/>
<polygon points="315.9,265.7 329.6,260.6 335.2,269.7 321.4,274.9" fill="#86b42e"/>
<polygon points="396.5,199.2 407.5,195.2 412.8,203.8 401.8,207.8" fill="#86b42e"/>
<polygon points="330.6,199.7 340.2,196.3 346.3,206.4 336.8,209.8" fill="#559a33"/>
<polygon points="384.8,215.9 402.0,209.6 408.0,219.3 390.7,225.6" fill="#7fb12c"/>
<polygon points="361.6,166.4 374.8,161.8 378.4,167.5 365.1,172.2" fill="#7fb12c"/>
<polygon points="310.6,238.3 318.5,235.4 324.2,244.8 316.3,247.7" fill="#78aa2c"/>
<polygon points="399.0,244.7 415.6,238.5 419.8,245.4 403.3,251.7" fill="#7fb12c"/>
<polygon points="391.7,220.5 404.3,215.8 410.6,226.2 398.1,230.9" fill="#7fb12c"/>
<polygon points="376.7,236.9 384.8,233.8 390.6,243.4 382.5,246.4" fill="#4c9436"/>
<polygon points="395.4,232.1 407.9,227.5 413.7,237.0 401.3,241.7" fill="#4c9436"/>
<polygon points="373.0,274.3 384.4,270.0 389.9,278.9 378.5,283.3" fill="#86b42e"/>
<polygon points="313.0,274.3 321.9,270.9 325.8,277.4 316.9,280.8" fill="#86b42e"/>
<polygon points="441.2,191.7 450.5,188.4 455.0,195.6 445.6,199.0" fill="#7fb12c"/>
<polygon points="456.1,227.1 473.2,220.7 477.1,227.0 460.0,233.5" fill="#86b42e"/>
<polygon points="464.8,206.5 476.6,202.2 480.3,208.2 468.6,212.6" fill="#559a33"/>
<polygon points="297.9,209.1 308.1,205.5 313.0,213.7 302.9,217.3" fill="#64a22f"/>
<polygon points="302.2,214.1 311.4,210.9 316.5,219.4 307.4,222.6" fill="#64a22f"/>
<polygon points="410.9,261.4 426.1,255.6 431.1,263.8 416.0,269.6" fill="#64a22f"/>
<polygon points="412.2,233.4 424.8,228.7 431.3,239.2 418.8,244.0" fill="#78aa2c"/>
<polygon points="405.0,212.9 416.9,208.5 421.4,215.8 409.5,220.2" fill="#86b42e"/>
<polygon points="365.2,163.8 373.5,160.9 377.2,166.9 368.9,169.8" fill="#5fa031"/>
<polygon points="310.7,252.9 319.3,249.8 324.6,258.5 316.0,261.7" fill="#64a22f"/>
<polygon points="293.8,227.8 301.6,225.0 308.2,236.0 300.4,238.8" fill="#64a22f"/>
<polygon points="358.1,239.9 376.3,233.1 381.7,242.0 363.6,248.8" fill="#86b42e"/>
<polygon points="329.1,278.9 347.6,271.9 352.5,279.9 334.0,287.0" fill="#86b42e"/>
<polygon points="315.4,191.6 331.3,186.0 337.3,195.8 321.4,201.5" fill="#86b42e"/>
<polygon points="404.8,162.5 412.5,159.8 419.4,170.8 411.6,173.6" fill="#64a22f"/>
<polygon points="359.3,246.7 377.0,240.1 383.0,250.0 365.4,256.7" fill="#7fb12c"/>
<polygon points="475.0,225.5 489.8,219.9 493.7,226.2 478.9,231.8" fill="#7fb12c"/>
<polygon points="430.7,177.8 440.7,174.2 445.8,182.4 435.8,186.0" fill="#64a22f"/>
<polygon points="323.5,198.9 340.2,193.1 347.2,204.6 330.6,210.5" fill="#78aa2c"/>
<polygon points="301.7,208.8 313.7,204.5 320.0,214.9 308.0,219.2" fill="#5fa031"/>
<polygon points="364.2,201.6 372.0,198.8 374.9,203.6 367.1,206.4" fill="#7fb12c"/>
<polygon points="346.0,187.2 360.3,182.2 364.6,189.2 350.3,194.3" fill="#78aa2c"/>
<polygon points="475.9,241.0 494.0,234.1 498.3,241.0 480.2,248.0" fill="#5fa031"/>
<polygon points="300.9,239.3 312.1,235.2 317.1,243.4 305.8,247.5" fill="#64a22f"/>
<polygon points="427.1,194.7 441.9,189.3 448.0,199.3 433.2,204.7" fill="#559a33"/>
<polygon points="403.1,157.9 415.0,153.7 420.8,163.1 408.9,167.3" fill="#5fa031"/>
<polygon points="346.0,185.3 362.4,179.5 366.6,186.5 350.2,192.3" fill="#78aa2c"/>
<polygon points="460.5,213.1 473.1,208.4 479.0,217.9 466.4,222.6" fill="#559a33"/>
<polygon points="387.6,169.6 396.5,166.5 399.9,172.1 391.0,175.2" fill="#86b42e"/>
<polygon points="400.0,162.3 416.8,156.4 423.7,167.6 406.9,173.5" fill="#4c9436"/>
<polygon points="423.0,155.5 436.6,150.7 439.5,155.3 425.9,160.1" fill="#78aa2c"/>
<polygon points="460.1,204.1 473.5,199.2 480.2,209.9 466.8,214.9" fill="#86b42e"/>
<polygon points="433.8,156.5 447.4,151.8 450.3,156.4 436.7,161.2" fill="#5fa031"/>
<polygon points="318.4,203.0 332.5,198.0 336.5,204.5 322.4,209.5" fill="#86b42e"/>
<polygon points="399.3,151.8 415.1,146.3 421.7,156.9 405.9,162.5" fill="#4c9436"/>
<polygon points="410.7,255.2 422.8,250.6 429.5,261.5 417.4,266.2" fill="#64a22f"/>
<polygon points="285.0,203.2 298.2,198.6 304.8,209.5 291.6,214.1" fill="#78aa2c"/>
<polygon points="284.3,184.2 300.8,178.5 304.4,184.4 287.9,190.1" fill="#86b42e"/>
<polygon points="366.3,170.7 374.5,167.9 380.2,177.2 372.0,180.1" fill="#64a22f"/>
<polygon points="398.2,244.4 406.9,241.1 412.1,249.6 403.4,252.9" fill="#5fa031"/>
<polygon points="288.2,187.8 296.8,184.8 301.6,192.7 293.0,195.7" fill="#559a33"/>
<polygon points="441.1,244.7 453.5,240.0 458.9,248.7 446.5,253.4" fill="#64a22f"/>
<polygon points="369.2,179.8 379.8,176.1 384.8,184.2 374.2,187.9" fill="#78aa2c"/>
<polygon points="395.3,265.9 410.5,260.1 417.0,270.8 401.8,276.7" fill="#7fb12c"/>
<polygon points="467.4,232.2 477.1,228.5 481.8,236.0 472.1,239.7" fill="#86b42e"/>
<polygon points="302.3,235.1 310.6,232.1 314.5,238.5 306.3,241.5" fill="#559a33"/>
<polygon points="308.8,214.5 317.6,211.4 323.8,221.5 315.0,224.7" fill="#4c9436"/>
<polygon points="386.3,195.0 396.6,191.3 400.0,196.8 389.7,200.6" fill="#86b42e"/>
<polygon points="352.2,283.8 364.1,279.3 369.0,287.4 357.2,292.0" fill="#4c9436"/>
<polygon points="405.4,162.3 417.8,158.0 422.7,166.0 410.4,170.4" fill="#7fb12c"/>
<polygon points="347.8,207.6 356.3,204.5 360.7,211.7 352.2,214.8" fill="#7fb12c"/>
<polygon points="382.6,209.0 384.8,208.2 385.8,209.8 383.6,210.6" fill="#b9b4c4"/>
<polygon points="357.4,228.6 359.6,227.8 360.6,229.4 358.4,230.3" fill="#aeb6a6"/>
<polygon points="349.5,169.9 351.8,169.1 352.7,170.7 350.5,171.5" fill="#c6c2cc"/>
<polygon points="435.0,145.6 437.3,144.8 438.3,146.4 436.0,147.2" fill="#aeb6a6"/>
<polygon points="363.8,279.8 366.0,279.0 367.0,280.6 364.8,281.4" fill="#c6c2cc"/>
<polygon points="310.4,192.4 312.6,191.6 313.6,193.2 311.4,194.0" fill="#c0bcc8"/>
<polygon points="451.5,215.3 453.7,214.5 454.7,216.1 452.5,216.9" fill="#aeb6a6"/>
<polygon points="362.6,229.4 364.8,228.5 365.8,230.2 363.5,231.0" fill="#c0bcc8"/>
<polygon points="385.1,160.9 387.4,160.1 388.4,161.7 386.1,162.5" fill="#b9b4c4"/>
<polygon points="409.3,164.9 411.6,164.2 412.6,165.7 410.3,166.5" fill="#b9b4c4"/>
<polygon points="302.4,179.7 304.6,179.0 305.6,180.6 303.4,181.4" fill="#b9b4c4"/>
<polygon points="403.0,154.0 405.2,153.2 406.2,154.8 404.0,155.5" fill="#c6c2cc"/>
<polygon points="324.2,288.9 326.4,288.1 327.4,289.7 325.2,290.6" fill="#c0bcc8"/>
<polygon points="323.4,307.7 325.7,306.9 326.7,308.5 324.4,309.4" fill="#c0bcc8"/>
<polygon points="437.9,166.1 440.1,165.3 441.1,166.8 438.9,167.6" fill="#c6c2cc"/>
<polygon points="309.4,273.0 311.7,272.1 312.7,273.8 310.4,274.6" fill="#b9b4c4"/>
<polygon points="445.1,162.7 447.4,161.9 448.4,163.5 446.1,164.3" fill="#c6c2cc"/>
<polygon points="310.5,217.3 312.8,216.5 313.8,218.2 311.5,219.0" fill="#aeb6a6"/>
<polygon points="362.5,184.4 364.8,183.6 365.8,185.3 363.5,186.0" fill="#c0bcc8"/>
<polygon points="355.0,183.3 357.3,182.5 358.3,184.1 356.0,184.9" fill="#aeb6a6"/>
<polygon points="464.7,253.1 466.9,252.3 467.9,253.9 465.7,254.7" fill="#b9b4c4"/>
<polygon points="306.1,277.5 308.3,276.7 309.3,278.4 307.1,279.2" fill="#c6c2cc"/>
<polygon points="362.2,189.9 364.4,189.1 365.4,190.7 363.2,191.5" fill="#c0bcc8"/>
<polygon points="328.3,281.2 330.5,280.4 331.5,282.0 329.3,282.9" fill="#c0bcc8"/>
<polygon points="408.1,213.9 410.3,213.1 411.3,214.7 409.1,215.5" fill="#c0bcc8"/>
<polygon points="448.4,167.6 450.7,166.8 451.6,168.3 449.4,169.1" fill="#c6c2cc"/>
<polygon points="452.9,170.6 455.2,169.8 456.1,171.3 453.9,172.1" fill="#c6c2cc"/>
<polygon points="349.4,208.3 351.7,207.5 352.7,209.1 350.4,209.9" fill="#b9b4c4"/>
<polygon points="404.7,144.2 406.9,143.4 407.9,145.0 405.7,145.8" fill="#aeb6a6"/>
<polygon points="334.2,174.0 336.5,173.2 337.4,174.8 335.2,175.6" fill="#c0bcc8"/>
<polygon points="454.9,213.4 457.1,212.5 458.1,214.1 455.8,214.9" fill="#aeb6a6"/>
<polygon points="407.7,233.9 409.9,233.1 410.9,234.7 408.7,235.5" fill="#b9b4c4"/>
<polygon points="346.3,183.6 348.6,182.8 349.6,184.4 347.3,185.2" fill="#c0bcc8"/>
<polygon points="278.5,236.0 280.7,235.2 281.8,236.9 279.5,237.7" fill="#aeb6a6"/>
<polygon points="464.9,193.2 467.1,192.4 468.1,194.0 465.8,194.8" fill="#c6c2cc"/>
<polygon points="319.8,293.3 322.0,292.5 323.0,294.2 320.8,295.0" fill="#c6c2cc"/>
<polygon points="317.1,172.5 319.4,171.7 320.4,173.4 318.1,174.2" fill="#c0bcc8"/>
<polygon points="287.1,221.1 289.3,220.3 290.3,222.0 288.1,222.8" fill="#c6c2cc"/>
<polygon points="350.7,266.8 352.9,265.9 353.9,267.6 351.7,268.4" fill="#b9b4c4"/>
<polygon points="306.5,188.3 308.8,187.5 309.8,189.1 307.5,189.9" fill="#c0bcc8"/>
<polygon points="385.3,201.7 387.5,200.9 388.5,202.5 386.3,203.3" fill="#aeb6a6"/>
<polygon points="323.5,201.8 325.8,201.1 326.8,202.7 324.5,203.5" fill="#c6c2cc"/>
<polygon points="419.8,232.6 422.0,231.7 423.0,233.3 420.8,234.2" fill="#c0bcc8"/>
<polygon points="439.2,225.9 441.5,225.1 442.4,226.7 440.2,227.5" fill="#c0bcc8"/>
<polygon points="329.5,267.5 331.7,266.7 332.7,268.3 330.5,269.2" fill="#c6c2cc"/>
<polygon points="318.2,287.3 320.5,286.5 321.5,288.1 319.2,289.0" fill="#c0bcc8"/>
<polygon points="440.0,238.0 442.2,237.1 443.2,238.7 440.9,239.6" fill="#c6c2cc"/>
<polygon points="467.4,219.6 469.7,218.8 470.6,220.4 468.4,221.2" fill="#b9b4c4"/>
<polygon points="441.1,206.9 443.4,206.1 444.4,207.6 442.1,208.5" fill="#c6c2cc"/>
<polygon points="270.9,194.0 273.2,193.2 274.2,194.9 271.9,195.7" fill="#aeb6a6"/>
<polygon points="451.1,175.7 453.3,174.9 454.3,176.5 452.1,177.3" fill="#c0bcc8"/>
<polygon points="396.1,229.4 398.3,228.6 399.3,230.2 397.1,231.0" fill="#c6c2cc"/>
<polygon points="341.2,164.5 343.5,163.8 344.5,165.4 342.2,166.2" fill="#b9b4c4"/>
<polygon points="421.7,203.2 423.9,202.4 424.9,203.9 422.6,204.8" fill="#b9b4c4"/>
<polygon points="376.1,160.9 378.4,160.1 379.4,161.7 377.1,162.5" fill="#c0bcc8"/>
<polygon points="303.3,187.3 305.6,186.5 306.6,188.1 304.3,188.9" fill="#aeb6a6"/>
<polygon points="346.9,265.4 349.2,264.6 350.2,266.3 347.9,267.1" fill="#c6c2cc"/>
<polygon points="452.1,255.5 454.3,254.6 455.3,256.2 453.0,257.1" fill="#c0bcc8"/>
<polygon points="410.4,150.4 412.7,149.7 413.7,151.3 411.4,152.0" fill="#aeb6a6"/>
<polygon points="432.7,214.4 434.9,213.6 435.9,215.2 433.7,216.0" fill="#c6c2cc"/>
<polygon points="276.8,206.5 279.1,205.7 280.1,207.4 277.8,208.2" fill="#aeb6a6"/>
<polygon points="417.2,230.4 419.4,229.6 420.4,231.2 418.2,232.0" fill="#c6c2cc"/>
<polygon points="259.1,200.7 261.4,199.9 262.4,201.6 260.1,202.3" fill="#aeb6a6"/>
<polygon points="434.8,145.0 437.1,144.2 438.1,145.8 435.8,146.5" fill="#c6c2cc"/>
<polygon points="394.3,184.6 396.5,183.8 397.5,185.4 395.3,186.2" fill="#aeb6a6"/>
<polygon points="368.3,217.7 370.5,216.8 371.5,218.5 369.3,219.3" fill="#b9b4c4"/>
<polygon points="468.7,192.1 470.9,191.3 471.9,192.8 469.7,193.7" fill="#aeb6a6"/>
<polygon points="491.9,234.8 494.2,234.0 495.1,235.5 492.9,236.4" fill="#b9b4c4"/>
<polygon points="310.2,185.2 312.4,184.4 313.4,186.0 311.2,186.8" fill="#c0bcc8"/>
<polygon points="458.0,174.6 460.2,173.8 461.2,175.3 458.9,176.1" fill="#c6c2cc"/>
<polygon points="272.4,200.2 274.6,199.4 275.6,201.1 273.4,201.8" fill="#aeb6a6"/>
<polygon points="433.5,149.8 435.8,149.0 436.7,150.6 434.5,151.4" fill="#aeb6a6"/>
<polygon points="460.0,215.8 462.2,215.0 463.2,216.6 461.0,217.4" fill="#c6c2cc"/>
<polygon points="402.1,261.1 404.4,260.2 405.4,261.8 403.1,262.7" fill="#c0bcc8"/>
<polygon points="257.4,193.4 259.7,192.6 260.7,194.3 258.4,195.0" fill="#c0bcc8"/>
<polygon points="403.1,196.8 405.3,196.0 406.3,197.6 404.1,198.4" fill="#c6c2cc"/>
<polygon points="353.4,210.7 355.7,209.9 356.7,211.6 354.4,212.4" fill="#b9b4c4"/>
<polygon points="404.4,142.6 406.7,141.8 407.7,143.4 405.4,144.2" fill="#aeb6a6"/>
<polygon points="412.2,155.6 414.4,154.8 415.4,156.4 413.2,157.1" fill="#c6c2cc"/>
<polygon points="442.3,249.2 444.5,248.3 445.5,249.9 443.3,250.8" fill="#aeb6a6"/>
<polygon points="302.8,186.1 305.1,185.4 306.1,187.0 303.8,187.8" fill="#c0bcc8"/>
<polygon points="472.4,196.0 474.6,195.2 475.6,196.8 473.3,197.6" fill="#aeb6a6"/>
<polygon points="470.4,218.9 472.6,218.1 473.6,219.6 471.4,220.5" fill="#b9b4c4"/>
<polygon points="306.9,182.9 309.1,182.1 310.1,183.8 307.9,184.6" fill="#aeb6a6"/>
<polygon points="377.4,171.6 379.6,170.8 380.6,172.4 378.3,173.2" fill="#aeb6a6"/>
<polygon points="352.9,202.7 355.2,201.9 356.2,203.5 353.9,204.3" fill="#aeb6a6"/>
<polygon points="423.2,192.5 425.4,191.7 426.4,193.3 424.2,194.1" fill="#b9b4c4"/>
<polygon points="441.7,212.9 443.9,212.1 444.9,213.7 442.7,214.5" fill="#c6c2cc"/>
<polygon points="385.9,155.3 388.1,154.6 389.1,156.2 386.9,156.9" fill="#c0bcc8"/>
<polygon points="385.3,250.5 387.6,249.7 388.6,251.3 386.3,252.1" fill="#aeb6a6"/>
<polygon points="402.4,265.9 404.6,265.0 405.6,266.6 403.4,267.5" fill="#c6c2cc"/>
<polygon points="312.0,231.0 314.3,230.2 315.3,231.8 313.0,232.7" fill="#aeb6a6"/>
<polygon points="357.0,259.3 359.2,258.4 360.2,260.1 358.0,260.9" fill="#aeb6a6"/>
<polygon points="342.3,196.0 344.5,195.2 345.5,196.9 343.3,197.6" fill="#c0bcc8"/>
<polygon points="380.0,203.6 382.3,202.8 383.3,204.5 381.0,205.3" fill="#c6c2cc"/>
<polygon points="373.8,162.9 376.1,162.1 377.1,163.7 374.8,164.5" fill="#c0bcc8"/>
<polygon points="382.8,210.6 385.0,209.8 386.0,211.4 383.8,212.2" fill="#aeb6a6"/>
<polygon points="462.6,181.2 464.9,180.4 465.8,182.0 463.6,182.8" fill="#c6c2cc"/>
<polygon points="368.1,187.6 370.4,186.8 371.4,188.4 369.1,189.2" fill="#c6c2cc"/>
<polygon points="320.6,183.5 322.9,182.8 323.9,184.4 321.6,185.2" fill="#c6c2cc"/>
<polygon points="374.4,262.4 376.7,261.6 377.7,263.2 375.4,264.0" fill="#c6c2cc"/>
<polygon points="463.2,220.8 465.4,220.0 466.4,221.6 464.1,222.4" fill="#c0bcc8"/>
<polygon points="372.7,254.3 374.9,253.5 375.9,255.1 373.7,255.9" fill="#c6c2cc"/>
<polygon points="343.8,209.0 346.0,208.2 347.0,209.9 344.8,210.7" fill="#b9b4c4"/>
<polygon points="381.6,227.5 383.9,226.7 384.9,228.3 382.6,229.1" fill="#aeb6a6"/>
<polygon points="310.0,244.0 312.3,243.2 313.3,244.8 311.1,245.6" fill="#c6c2cc"/>
<polygon points="331.2,291.0 333.4,290.2 334.4,291.8 332.2,292.7" fill="#c0bcc8"/>
<polygon points="355.2,219.6 357.5,218.8 358.5,220.4 356.2,221.2" fill="#aeb6a6"/>
<polygon points="464.6,236.8 466.8,236.0 467.8,237.5 465.5,238.4" fill="#b9b4c4"/>
<polygon points="304.9,235.0 307.2,234.2 308.2,235.8 305.9,236.7" fill="#c0bcc8"/>
<polygon points="460.2,187.3 462.5,186.5 463.5,188.1 461.2,188.9" fill="#b9b4c4"/>
<polygon points="386.6,274.0 388.8,273.1 389.8,274.8 387.6,275.6" fill="#c0bcc8"/>
<polygon points="444.8,161.1 447.0,160.3 448.0,161.8 445.8,162.6" fill="#b9b4c4"/>
<polygon points="303.5,197.8 305.8,197.0 306.8,198.7 304.5,199.5" fill="#b9b4c4"/>
<polygon points="471.0,214.2 473.2,213.3 474.2,214.9 472.0,215.7" fill="#c0bcc8"/>
<polygon points="321.6,277.9 323.8,277.0 324.8,278.7 322.6,279.5" fill="#b9b4c4"/>
<polygon points="409.5,171.4 411.8,170.6 412.8,172.2 410.5,173.0" fill="#b9b4c4"/>
<polygon points="389.7,188.0 392.0,187.2 393.0,188.8 390.7,189.6" fill="#c6c2cc"/>
<polygon points="401.5,213.9 403.8,213.1 404.8,214.7 402.5,215.5" fill="#c0bcc8"/>
<polygon points="386.3,163.5 388.6,162.7 389.6,164.3 387.3,165.1" fill="#b9b4c4"/>
<polygon points="371.5,282.1 373.7,281.2 374.7,282.9 372.5,283.7" fill="#c6c2cc"/>
<polygon points="338.0,195.5 340.2,194.7 341.2,196.3 339.0,197.1" fill="#b9b4c4"/>
<polygon points="275.4,228.4 277.7,227.6 278.7,229.3 276.4,230.1" fill="#c0bcc8"/>
<polygon points="324.6,212.9 326.9,212.1 327.9,213.7 325.6,214.5" fill="#c6c2cc"/>
<polygon points="354.4,191.2 356.7,190.4 357.7,192.0 355.4,192.8" fill="#c6c2cc"/>
<polygon points="286.4,239.8 288.6,239.0 289.7,240.7 287.4,241.5" fill="#aeb6a6"/>
<polygon points="276.1,213.3 278.3,212.5 279.3,214.1 277.1,214.9" fill="#c0bcc8"/>
<polygon points="283.0,215.5 285.3,214.7 286.3,216.3 284.0,217.1" fill="#c0bcc8"/>
<polygon points="434.9,161.7 437.1,160.9 438.1,162.5 435.8,163.3" fill="#b9b4c4"/>
<polygon points="426.8,230.3 429.0,229.4 430.0,231.0 427.8,231.9" fill="#aeb6a6"/>
<polygon points="389.3,174.0 391.5,173.2 392.5,174.8 390.2,175.6" fill="#aeb6a6"/>
<polygon points="420.1,204.0 422.4,203.2 423.4,204.8 421.1,205.6" fill="#c6c2cc"/>
<polygon points="355.8,186.1 358.0,185.3 359.0,186.9 356.8,187.7" fill="#c6c2cc"/>
<polygon points="309.5,205.2 311.8,204.4 312.8,206.1 310.5,206.9" fill="#aeb6a6"/>
<polygon points="315.3,258.8 317.5,257.9 318.5,259.6 316.3,260.4" fill="#c6c2cc"/>
<polygon points="447.0,191.5 449.3,190.7 450.3,192.3 448.0,193.1" fill="#b9b4c4"/>
<polygon points="433.7,151.5 436.0,150.7 436.9,152.3 434.7,153.1" fill="#c0bcc8"/>
<polygon points="264.1,193.8 266.4,193.1 267.4,194.7 265.1,195.5" fill="#c6c2cc"/>
<polygon points="376.1,248.1 378.3,247.3 379.3,248.9 377.1,249.7" fill="#c6c2cc"/>
<polygon points="385.0,270.6 387.2,269.8 388.2,271.4 386.0,272.3" fill="#aeb6a6"/>
<polygon points="452.3,258.4 454.5,257.5 455.5,259.1 453.2,260.0" fill="#c6c2cc"/>
<polygon points="324.8,194.9 327.0,194.2 328.0,195.8 325.8,196.6" fill="#c0bcc8"/>
<polygon points="304.3,268.6 306.5,267.7 307.5,269.4 305.3,270.2" fill="#c0bcc8"/>
<polygon points="470.4,249.7 472.6,248.8 473.6,250.4 471.4,251.2" fill="#c0bcc8"/>
<polygon points="283.4,184.3 285.7,183.6 286.7,185.2 284.4,186.0" fill="#aeb6a6"/>
<polygon points="296.2,237.4 298.5,236.6 299.5,238.3 297.2,239.1" fill="#b9b4c4"/>
<polygon points="405.5,243.8 407.7,242.9 408.7,244.5 406.4,245.4" fill="#c0bcc8"/>
<polygon points="373.2,264.6 375.4,263.7 376.4,265.3 374.2,266.2" fill="#c0bcc8"/>
<polygon points="317.1,269.5 319.4,268.7 320.4,270.3 318.1,271.2" fill="#c6c2cc"/>
<polygon points="382.7,274.4 385.0,273.6 386.0,275.2 383.7,276.1" fill="#c6c2cc"/>
<polygon points="397.4,136.6 401.7,143.6 401.7,129.4 397.4,122.4" fill="#cfcfd8"/><polygon points="401.7,143.6 416.0,138.7 416.0,124.5 401.7,129.4" fill="#e6e6ec"/><polygon points="397.4,122.4 411.6,117.5 416.0,124.5 401.7,129.4" fill="#dedee4"/><path d="M397.4,122.4 L401.7,129.4 L416.0,124.5 M401.7,129.4 L401.7,143.6" stroke="#f6f6fa" stroke-width="0.9" fill="none"/>
<polygon points="413.2,129.8 418.6,138.5 418.6,123.9 413.2,115.2" fill="#cfcfd8"/><polygon points="418.6,138.5 434.6,133.0 434.6,118.4 418.6,123.9" fill="#e6e6ec"/><polygon points="413.2,115.2 429.2,109.8 434.6,118.4 418.6,123.9" fill="#dedee4"/><path d="M413.2,115.2 L418.6,123.9 L434.6,118.4 M418.6,123.9 L418.6,138.5" stroke="#f6f6fa" stroke-width="0.9" fill="none"/>
<polygon points="366.8,144.9 372.8,154.7 372.8,143.2 366.8,133.4" fill="#2b3344"/><polygon points="372.8,154.7 399.3,145.5 399.3,134.0 372.8,143.2" fill="#333c4e"/><polygon points="366.8,133.4 393.3,124.4 399.3,134.0 372.8,143.2" fill="#3a4356"/><path d="M366.8,133.4 L372.8,143.2 L399.3,134.0 M372.8,143.2 L372.8,154.7" stroke="#4c566a" stroke-width="0.9" fill="none"/>
<path d="M304.4 176.4 V178.8 A2.4 1.5 0 0 0 309.2 178.8 V176.4 Z" fill="#55555a"/><ellipse cx="306.8" cy="176.4" rx="2.4" ry="1.5" fill="#c9c9cd"/>
<path d="M309.1 170.8 V173.2 A2.2 1.4 0 0 0 313.5 173.2 V170.8 Z" fill="#55555a"/><ellipse cx="311.3" cy="170.8" rx="2.2" ry="1.4" fill="#c9c9cd"/>
<polygon points="322.8,169.0 327.1,176.0 327.1,173.5 322.8,166.5" fill="#121216"/><polygon points="327.1,176.0 331.4,174.5 331.4,172.0 327.1,173.5" fill="#121216"/><polygon points="322.8,166.5 327.2,165.0 331.4,172.0 327.1,173.5" fill="#2a2a30"/>
<polygon points="350.7,153.2 356.8,163.2 356.8,150.7 350.7,140.7" fill="#cfcfd8"/><polygon points="356.8,163.2 369.2,158.9 369.2,146.4 356.8,150.7" fill="#e6e6ec"/><polygon points="350.7,140.7 363.1,136.4 369.2,146.4 356.8,150.7" fill="#dedee4"/><path d="M350.7,140.7 L356.8,150.7 L369.2,146.4 M356.8,150.7 L356.8,163.2" stroke="#f6f6fa" stroke-width="0.9" fill="none"/>
<polygon points="328.8,161.3 335.4,172.0 335.4,159.5 328.8,148.8" fill="#cfcfd8"/><polygon points="335.4,172.0 351.2,166.6 351.2,154.1 335.4,159.5" fill="#e6e6ec"/><polygon points="328.8,148.8 344.6,143.4 351.2,154.1 335.4,159.5" fill="#dedee4"/><path d="M328.8,148.8 L335.4,159.5 L351.2,154.1 M335.4,159.5 L335.4,172.0" stroke="#f6f6fa" stroke-width="0.9" fill="none"/>
<polygon points="266.7,193.3 268.9,196.8 268.9,194.8 266.7,191.3" fill="#121216"/><polygon points="268.9,196.8 281.1,192.6 281.1,190.6 268.9,194.8" fill="#121216"/><polygon points="266.7,191.3 278.9,187.1 281.1,190.6 268.9,194.8" fill="#2a2a30"/>
<polygon points="282.5,185.7 284.7,189.2 284.7,187.2 282.5,183.7" fill="#121216"/><polygon points="284.7,189.2 297.8,184.7 297.8,182.7 284.7,187.2" fill="#121216"/><polygon points="282.5,183.7 295.7,179.2 297.8,182.7 284.7,187.2" fill="#2a2a30"/>
<ellipse cx="263.4" cy="200.4" rx="5.6" ry="7" fill="#1f7fd0"/><ellipse cx="262.8" cy="198.8" rx="3.8" ry="4.6" fill="#3a3a40"/><circle cx="261.8" cy="197.6" r="1.2" fill="#d0d0d0"/><circle cx="264.2" cy="200.0" r="1.2" fill="#d0d0d0"/><circle cx="261.6" cy="201.0" r="1.0" fill="#c0c0c0"/>
<path d="M315.4 179.1 V181.1 A3.0 1.9 0 0 0 321.4 181.1 V179.1 Z" fill="#c6c6cc"/><ellipse cx="318.4" cy="179.1" rx="3.0" ry="1.9" fill="#e3e3e7"/>
<polygon points="433.9,140.4 437.4,146.0 437.4,143.0 433.9,137.4" fill="#15151a"/><polygon points="437.4,146.0 443.1,144.1 443.1,141.1 437.4,143.0" fill="#15151a"/><polygon points="433.9,137.4 439.6,135.5 443.1,141.1 437.4,143.0" fill="#2a2a30"/>
<polygon points="414.1,150.7 416.9,155.3 416.9,152.8 414.1,148.2" fill="#1668ae"/><polygon points="416.9,155.3 433.8,149.4 433.8,146.9 416.9,152.8" fill="#1668ae"/><polygon points="414.1,148.2 431.0,142.4 433.8,146.9 416.9,152.8" fill="#2388d8"/>
<polygon points="416.8,148.2 418.9,147.5 420.3,149.8 418.2,150.5" fill="#104f88"/>
<polygon points="420.6,146.9 422.7,146.2 424.1,148.5 422.0,149.2" fill="#104f88"/>
<polygon points="424.3,145.6 426.4,144.9 427.8,147.2 425.7,147.9" fill="#104f88"/>
<polygon points="428.1,144.3 430.2,143.6 431.6,145.9 429.5,146.6" fill="#104f88"/>
<polygon points="400.2,155.6 402.0,158.5 402.0,156.5 400.2,153.6" fill="#0c0c10"/><polygon points="402.0,158.5 408.8,156.2 408.8,154.2 402.0,156.5" fill="#0c0c10"/><polygon points="400.2,153.6 407.0,151.2 408.8,154.2 402.0,156.5" fill="#1a1a20"/>
<polygon points="390.3,159.8 392.1,162.8 392.1,160.8 390.3,157.8" fill="#0c0c10"/><polygon points="392.1,162.8 398.9,160.4 398.9,158.4 392.1,160.8" fill="#0c0c10"/><polygon points="390.3,157.8 397.1,155.5 398.9,158.4 392.1,160.8" fill="#1a1a20"/>
<polygon points="380.5,164.2 382.3,167.2 382.3,165.2 380.5,162.2" fill="#0c0c10"/><polygon points="382.3,167.2 389.0,164.8 389.0,162.8 382.3,165.2" fill="#0c0c10"/><polygon points="380.5,162.2 387.2,159.9 389.0,162.8 382.3,165.2" fill="#1a1a20"/>
<path d="M412.5 153.8 V155.8 A2.0 1.2 0 0 0 416.5 155.8 V153.8 Z" fill="#c4c4ca"/><ellipse cx="414.5" cy="153.8" rx="2.0" ry="1.2" fill="#e0e0e4"/>
<path d="M404.4 157.3 V159.3 A2.0 1.2 0 0 0 408.4 159.3 V157.3 Z" fill="#c4c4ca"/><ellipse cx="406.4" cy="157.3" rx="2.0" ry="1.2" fill="#e0e0e4"/>
<path d="M395.4 161.2 V163.2 A2.0 1.2 0 0 0 399.4 163.2 V161.2 Z" fill="#c4c4ca"/><ellipse cx="397.4" cy="161.2" rx="2.0" ry="1.2" fill="#e0e0e4"/>
<path d="M386.3 165.0 V167.0 A2.0 1.2 0 0 0 390.3 167.0 V165.0 Z" fill="#c4c4ca"/><ellipse cx="388.3" cy="165.0" rx="2.0" ry="1.2" fill="#e0e0e4"/>
<path d="M437.0 152.4 V155.4 A3.0 1.9 0 0 0 443.0 155.4 V152.4 Z" fill="#c6c6cc"/><ellipse cx="440.0" cy="152.4" rx="3.0" ry="1.9" fill="#e3e3e7"/>
<path d="M440.5 158.3 V161.3 A3.0 1.9 0 0 0 446.5 161.3 V158.3 Z" fill="#c6c6cc"/><ellipse cx="443.5" cy="158.3" rx="3.0" ry="1.9" fill="#e3e3e7"/>
<path d="M385.0 180.6 V183.0 A2.4 1.5 0 0 0 389.8 183.0 V180.6 Z" fill="#c0c0c6"/><ellipse cx="387.4" cy="180.6" rx="2.4" ry="1.5" fill="#dcdce0"/>
<path d="M343.5 185.0 L352.6 199.9" stroke="#1c1c22" stroke-width="7.4" stroke-linecap="round" fill="none"/><path d="M343.5 183.5 L352.6 198.4" stroke="#1c1c22" stroke-width="7.4" stroke-linecap="round" fill="none"/><path d="M343.5 182.0 L352.6 196.9" stroke="#34343c" stroke-width="7.4" stroke-linecap="round" fill="none"/><path d="M344.7 183.9 L348.0 189.3" stroke="#08080c" stroke-width="2.5160000000000005" stroke-linecap="round" fill="none"/><path d="M349.3 191.4 L351.5 195.0" stroke="#08080c" stroke-width="2.5160000000000005" stroke-linecap="round" fill="none"/>
<path d="M371.2 172.6 L381.4 189.2" stroke="#1c1c22" stroke-width="7.4" stroke-linecap="round" fill="none"/><path d="M371.2 171.1 L381.4 187.7" stroke="#1c1c22" stroke-width="7.4" stroke-linecap="round" fill="none"/><path d="M371.2 169.6 L381.4 186.2" stroke="#34343c" stroke-width="7.4" stroke-linecap="round" fill="none"/><path d="M372.4 171.4 L376.3 177.8" stroke="#08080c" stroke-width="2.5160000000000005" stroke-linecap="round" fill="none"/><path d="M377.6 179.9 L380.3 184.3" stroke="#08080c" stroke-width="2.5160000000000005" stroke-linecap="round" fill="none"/>
<polygon points="268.7,213.5 276.6,226.6 276.6,224.1 268.7,211.0" fill="#1e1e24"/><polygon points="276.6,226.6 285.6,223.4 285.6,220.9 276.6,224.1" fill="#1e1e24"/><polygon points="268.7,211.0 277.7,207.8 285.6,220.9 276.6,224.1" fill="#3a3a42"/><polygon points="270.5,211.8 272.8,211.0 274.1,213.1 271.8,213.9" fill="#b9b9bd"/><polygon points="274.5,210.4 276.7,209.6 278.0,211.8 275.8,212.5" fill="#b9b9bd"/><polygon points="272.9,215.7 275.1,214.9 276.4,217.1 274.2,217.9" fill="#b9b9bd"/><polygon points="276.8,214.3 279.1,213.5 280.4,215.7 278.1,216.5" fill="#b9b9bd"/><polygon points="275.3,219.7 277.5,218.9 278.8,221.0 276.6,221.8" fill="#b9b9bd"/><polygon points="279.2,218.3 281.5,217.5 282.7,219.6 280.5,220.4" fill="#b9b9bd"/>
<path d="M387.8 185.9 V188.3 A2.4 1.5 0 0 0 392.6 188.3 V185.9 Z" fill="#c0c0c6"/><ellipse cx="390.2" cy="185.9" rx="2.4" ry="1.5" fill="#dcdce0"/>
<path d="M448.1 168.2 V171.8 A2.6 1.6 0 0 0 453.3 171.8 V168.2 Z" fill="#55555a"/><ellipse cx="450.7" cy="168.2" rx="2.6" ry="1.6" fill="#c9c9cd"/>
<path d="M285.9 207.7 L298.8 229.1" stroke="#1c1c22" stroke-width="7.6" stroke-linecap="round" fill="none"/><path d="M285.9 206.2 L298.8 227.6" stroke="#1c1c22" stroke-width="7.6" stroke-linecap="round" fill="none"/><path d="M285.9 204.7 L298.8 226.1" stroke="#34343c" stroke-width="7.6" stroke-linecap="round" fill="none"/><path d="M287.1 206.6 L293.2 216.8" stroke="#08080c" stroke-width="2.584" stroke-linecap="round" fill="none"/><path d="M294.4 218.9 L297.6 224.2" stroke="#08080c" stroke-width="2.584" stroke-linecap="round" fill="none"/>
<polygon points="382.8,195.1 385.6,199.7 385.6,196.7 382.8,192.1" fill="#4a4a50"/><polygon points="385.6,199.7 391.2,197.7 391.2,194.7 385.6,196.7" fill="#4a4a50"/><polygon points="382.8,192.1 388.4,190.1 391.2,194.7 385.6,196.7" fill="#6c6c72"/>
<polygon points="358.2,205.3 360.7,209.4 360.7,207.4 358.2,203.3" fill="#131318"/><polygon points="360.7,209.4 371.9,205.4 371.9,203.4 360.7,207.4" fill="#131318"/><polygon points="358.2,203.3 369.5,199.3 371.9,203.4 360.7,207.4" fill="#2c2c32"/>
<path d="M452.2 174.1 V177.7 A2.6 1.6 0 0 0 457.4 177.7 V174.1 Z" fill="#55555a"/><ellipse cx="454.8" cy="174.1" rx="2.6" ry="1.6" fill="#c9c9cd"/>
<polygon points="278.4,231.1 286.6,244.7 286.6,242.2 278.4,228.6" fill="#1668ae"/><polygon points="286.6,244.7 293.5,242.2 293.5,239.7 286.6,242.2" fill="#1668ae"/><polygon points="278.4,228.6 285.3,226.1 293.5,239.7 286.6,242.2" fill="#2388d8"/><polygon points="280.2,229.7 282.0,229.0 283.0,230.7 281.2,231.3" fill="#0f5490"/><polygon points="283.3,228.5 285.2,227.8 286.2,229.5 284.3,230.2" fill="#0f5490"/><polygon points="282.0,232.8 283.9,232.1 284.9,233.8 283.0,234.4" fill="#0f5490"/><polygon points="285.2,231.6 287.1,230.9 288.1,232.6 286.2,233.3" fill="#0f5490"/><polygon points="283.9,235.9 285.8,235.2 286.8,236.9 284.9,237.5" fill="#0f5490"/><polygon points="287.1,234.7 288.9,234.0 290.0,235.7 288.1,236.4" fill="#0f5490"/><polygon points="285.8,239.0 287.6,238.3 288.6,239.9 286.8,240.6" fill="#0f5490"/><polygon points="288.9,237.8 290.8,237.1 291.8,238.8 290.0,239.5" fill="#0f5490"/>
<path d="M390.4 203.4 V206.4 A2.8 1.7 0 0 0 396.0 206.4 V203.4 Z" fill="#bcbcc2"/><ellipse cx="393.2" cy="203.4" rx="2.8" ry="1.7" fill="#dcdce0"/>
<path d="M300.7 236.6 V240.0 A2.7 1.7 0 0 0 306.1 240.0 V236.6 Z" fill="#505056"/><ellipse cx="303.4" cy="236.6" rx="2.7" ry="1.7" fill="#c9c9cd"/>
<path d="M456.7 180.2 V183.8 A2.6 1.6 0 0 0 461.9 183.8 V180.2 Z" fill="#55555a"/><ellipse cx="459.3" cy="180.2" rx="2.6" ry="1.6" fill="#c9c9cd"/>
<path d="M316.5 195.5 L336.9 229.2" stroke="#4ea6e2" stroke-width="9.6" stroke-linecap="round" fill="none"/><path d="M316.5 194.0 L336.9 227.7" stroke="#4ea6e2" stroke-width="9.6" stroke-linecap="round" fill="none"/><path d="M316.5 192.5 L336.9 226.2" stroke="#7ec6f2" stroke-width="9.6" stroke-linecap="round" fill="none"/><path d="M318.0 195.0 L330.1 215.0" stroke="#2f7fb4" stroke-width="3.2640000000000002" stroke-linecap="round" fill="none"/><path d="M331.4 217.0 L335.4 223.7" stroke="#2f7fb4" stroke-width="3.2640000000000002" stroke-linecap="round" fill="none"/>
<path d="M302.2 200.5 L322.7 234.4" stroke="#4ea6e2" stroke-width="9.6" stroke-linecap="round" fill="none"/><path d="M302.2 199.0 L322.7 232.9" stroke="#4ea6e2" stroke-width="9.6" stroke-linecap="round" fill="none"/><path d="M302.2 197.5 L322.7 231.4" stroke="#7ec6f2" stroke-width="9.6" stroke-linecap="round" fill="none"/><path d="M303.7 199.9 L315.9 220.1" stroke="#2f7fb4" stroke-width="3.2640000000000002" stroke-linecap="round" fill="none"/><path d="M317.2 222.2 L321.2 228.9" stroke="#2f7fb4" stroke-width="3.2640000000000002" stroke-linecap="round" fill="none"/>
<polygon points="386.9,169.5 431.9,153.7 454.3,189.8 409.4,206.1" fill="#e2e2e6"/><polygon points="386.9,168.0 431.9,152.2 454.3,188.3 409.4,204.6" fill="#d6d6da"/><polygon points="391.9,169.4 430.3,155.9 449.6,186.9 411.2,200.9" fill="#aeaeb2"/><polygon points="398.8,171.8 428.8,161.3 439.1,178.0 409.2,188.7" fill="#414145"/><polygon points="409.4,187.4 437.1,177.4 443.4,187.6 415.7,197.6" fill="#2e2e32"/>
<polygon points="363.6,214.0 365.2,213.4 366.2,215.1 364.5,215.7" fill="#cfe0c6"/>
<polygon points="370.1,241.5 371.9,240.9 372.9,242.5 371.1,243.2" fill="#cfe0c6"/>
<polygon points="365.7,217.5 367.4,216.9 368.4,218.5 366.7,219.1" fill="#cfe0c6"/>
<polygon points="372.2,245.0 374.1,244.3 375.0,246.0 373.2,246.7" fill="#cfe0c6"/>
<polygon points="367.8,221.0 369.5,220.4 370.5,222.0 368.8,222.6" fill="#cfe0c6"/>
<polygon points="374.3,248.5 376.2,247.8 377.2,249.5 375.3,250.2" fill="#cfe0c6"/>
<polygon points="369.9,224.5 371.6,223.9 372.6,225.5 370.9,226.1" fill="#cfe0c6"/>
<polygon points="376.5,252.0 378.3,251.3 379.3,253.0 377.4,253.7" fill="#cfe0c6"/>
<polygon points="366.9,212.8 368.6,212.2 369.6,213.8 367.9,214.4" fill="#cfe0c6"/>
<polygon points="373.8,240.2 375.7,239.5 376.6,241.1 374.8,241.8" fill="#cfe0c6"/>
<polygon points="369.0,216.3 370.7,215.7 371.7,217.3 370.0,217.9" fill="#cfe0c6"/>
<polygon points="375.9,243.7 377.8,243.0 378.8,244.6 376.9,245.3" fill="#cfe0c6"/>
<polygon points="371.2,219.8 372.9,219.2 373.8,220.8 372.2,221.4" fill="#cfe0c6"/>
<polygon points="378.0,247.1 379.9,246.4 380.9,248.1 379.0,248.8" fill="#cfe0c6"/>
<polygon points="373.3,223.3 375.0,222.6 376.0,224.3 374.3,224.9" fill="#cfe0c6"/>
<polygon points="380.2,250.6 382.0,249.9 383.0,251.6 381.2,252.3" fill="#cfe0c6"/>
<polygon points="370.3,211.6 372.0,211.0 373.0,212.6 371.3,213.2" fill="#cfe0c6"/>
<polygon points="377.5,238.8 379.4,238.1 380.4,239.7 378.5,240.4" fill="#cfe0c6"/>
<polygon points="372.4,215.1 374.1,214.5 375.1,216.1 373.4,216.7" fill="#cfe0c6"/>
<polygon points="379.6,242.3 381.5,241.6 382.5,243.2 380.6,243.9" fill="#cfe0c6"/>
<polygon points="374.5,218.6 376.2,217.9 377.2,219.6 375.5,220.2" fill="#cfe0c6"/>
<polygon points="381.8,245.7 383.6,245.0 384.6,246.7 382.8,247.4" fill="#cfe0c6"/>
<polygon points="376.7,222.0 378.3,221.4 379.3,223.0 377.7,223.7" fill="#cfe0c6"/>
<polygon points="383.9,249.2 385.8,248.5 386.8,250.2 384.9,250.9" fill="#cfe0c6"/>
<polygon points="373.6,210.4 375.3,209.8 376.3,211.4 374.6,212.0" fill="#cfe0c6"/>
<polygon points="381.2,237.4 383.1,236.7 384.1,238.3 382.2,239.0" fill="#cfe0c6"/>
<polygon points="375.8,213.9 377.5,213.2 378.4,214.9 376.8,215.5" fill="#cfe0c6"/>
<polygon points="383.4,240.9 385.2,240.2 386.2,241.8 384.4,242.5" fill="#cfe0c6"/>
<polygon points="377.9,217.3 379.6,216.7 380.6,218.3 378.9,218.9" fill="#cfe0c6"/>
<polygon points="385.5,244.4 387.4,243.7 388.4,245.3 386.5,246.0" fill="#cfe0c6"/>
<polygon points="380.0,220.8 381.7,220.2 382.7,221.8 381.0,222.4" fill="#cfe0c6"/>
<polygon points="387.6,247.8 389.5,247.1 390.5,248.8 388.6,249.5" fill="#cfe0c6"/>
<path d="M330.8 190.7 L354.0 228.6" stroke="#1668ae" stroke-width="8.8" stroke-linecap="round" fill="none"/><path d="M330.8 189.2 L354.0 227.1" stroke="#1668ae" stroke-width="8.8" stroke-linecap="round" fill="none"/><path d="M330.8 187.7 L354.0 225.6" stroke="#2388d8" stroke-width="8.8" stroke-linecap="round" fill="none"/><path d="M332.2 189.9 L347.7 215.3" stroke="#0f4f86" stroke-width="2.9920000000000004" stroke-linecap="round" fill="none"/><path d="M348.9 217.4 L352.6 223.4" stroke="#0f4f86" stroke-width="2.9920000000000004" stroke-linecap="round" fill="none"/>
<path d="M304.5 243.3 V246.7 A2.7 1.7 0 0 0 309.9 246.7 V243.3 Z" fill="#505056"/><ellipse cx="307.2" cy="243.3" rx="2.7" ry="1.7" fill="#c9c9cd"/>
<path d="M357.9 178.4 L383.8 220.5" stroke="#1668ae" stroke-width="8.8" stroke-linecap="round" fill="none"/><path d="M357.9 176.9 L383.8 219.0" stroke="#1668ae" stroke-width="8.8" stroke-linecap="round" fill="none"/><path d="M357.9 175.4 L383.8 217.5" stroke="#2388d8" stroke-width="8.8" stroke-linecap="round" fill="none"/><path d="M359.3 177.6 L376.9 206.3" stroke="#0f4f86" stroke-width="2.9920000000000004" stroke-linecap="round" fill="none"/><path d="M378.1 208.4 L382.4 215.3" stroke="#0f4f86" stroke-width="2.9920000000000004" stroke-linecap="round" fill="none"/>
<polygon points="415.8,208.0 417.7,207.3 418.8,209.1 417.0,209.8" fill="#cfe0c6"/>
<polygon points="421.8,205.8 423.7,205.1 424.8,206.9 422.9,207.6" fill="#cfe0c6"/>
<polygon points="427.8,203.6 429.7,202.9 430.8,204.7 428.9,205.4" fill="#cfe0c6"/>
<polygon points="433.8,201.4 435.6,200.7 436.8,202.5 434.9,203.2" fill="#cfe0c6"/>
<polygon points="439.8,199.2 441.6,198.5 442.7,200.4 440.9,201.0" fill="#cfe0c6"/>
<polygon points="445.7,197.0 447.6,196.4 448.7,198.2 446.9,198.8" fill="#cfe0c6"/>
<polygon points="451.7,194.8 453.6,194.2 454.7,196.0 452.8,196.7" fill="#cfe0c6"/>
<path d="M316.1 242.5 V245.9 A3.1 1.9 0 0 0 322.3 245.9 V242.5 Z" fill="#c9c9cf"/><ellipse cx="319.2" cy="242.5" rx="3.1" ry="1.9" fill="#e6e6ea"/>
<path d="M327.0 238.6 V242.0 A3.1 1.9 0 0 0 333.2 242.0 V238.6 Z" fill="#c9c9cf"/><ellipse cx="330.1" cy="238.6" rx="3.1" ry="1.9" fill="#e6e6ea"/>
<ellipse cx="401.1" cy="216.0" rx="7.4" ry="5.9" fill="#d4d4d8"/><ellipse cx="401.1" cy="216.0" rx="5.6" ry="4.3" fill="#a9a9ad"/>
<path d="M337.8 236.0 V239.4 A3.1 1.9 0 0 0 344.0 239.4 V236.0 Z" fill="#c9c9cf"/><ellipse cx="340.9" cy="236.0" rx="3.1" ry="1.9" fill="#e6e6ea"/>
<polygon points="287.0,245.4 295.2,259.0 295.2,256.5 287.0,242.9" fill="#1668ae"/><polygon points="295.2,259.0 302.1,256.4 302.1,253.9 295.2,256.5" fill="#1668ae"/><polygon points="287.0,242.9 293.9,240.4 302.1,253.9 295.2,256.5" fill="#2388d8"/><polygon points="288.8,244.0 290.7,243.3 291.7,245.0 289.8,245.6" fill="#0f5490"/><polygon points="292.0,242.8 293.8,242.1 294.8,243.8 293.0,244.5" fill="#0f5490"/><polygon points="290.7,247.1 292.5,246.4 293.5,248.1 291.7,248.7" fill="#0f5490"/><polygon points="293.8,245.9 295.7,245.2 296.7,246.9 294.8,247.6" fill="#0f5490"/><polygon points="292.5,250.2 294.4,249.5 295.4,251.2 293.5,251.8" fill="#0f5490"/><polygon points="295.7,249.0 297.6,248.3 298.6,250.0 296.7,250.7" fill="#0f5490"/><polygon points="294.4,253.3 296.3,252.6 297.3,254.3 295.4,254.9" fill="#0f5490"/><polygon points="297.6,252.1 299.4,251.4 300.4,253.1 298.6,253.8" fill="#0f5490"/>
<polygon points="352.7,234.8 356.4,240.9 356.4,238.4 352.7,232.3" fill="#1a6fb8"/><polygon points="356.4,240.9 365.3,237.6 365.3,235.1 356.4,238.4" fill="#1a6fb8"/><polygon points="352.7,232.3 361.7,229.0 365.3,235.1 356.4,238.4" fill="#2b8edc"/>
<polygon points="378.5,223.5 382.0,229.3 382.0,226.8 378.5,221.0" fill="#1a6fb8"/><polygon points="382.0,229.3 394.1,224.8 394.1,222.3 382.0,226.8" fill="#1a6fb8"/><polygon points="378.5,221.0 390.6,216.5 394.1,222.3 382.0,226.8" fill="#2b8edc"/>
<polygon points="309.0,258.4 310.5,257.9 311.9,260.2 310.4,260.8" fill="#c8324a"/>
<polygon points="310.5,255.7 312.0,255.1 313.5,257.5 312.0,258.0" fill="#c8324a"/>
<polygon points="342.7,171.3 344.2,170.8 345.6,173.1 344.1,173.6" fill="#c8324a"/>
<polygon points="344.6,170.0 346.1,169.4 347.5,171.8 346.0,172.3" fill="#c8324a"/>
<polygon points="369.2,232.6 373.3,231.1 374.2,232.6 370.1,234.1" fill="#0f5a78"/>
<polygon points="374.2,231.5 378.3,229.9 379.2,231.5 375.1,233.0" fill="#0f5a78"/>
<polygon points="381.5,226.6 385.6,225.1 386.6,226.6 382.5,228.1" fill="#0f5a78"/>
<polygon points="385.8,224.3 390.0,222.8 390.9,224.3 386.8,225.8" fill="#0f5a78"/>
<polygon points="361.2,242.0 365.3,240.5 366.2,242.0 362.1,243.5" fill="#0f5a78"/>
<polygon points="374.6,252.7 378.7,251.2 379.6,252.7 375.5,254.2" fill="#0f5a78"/>
<polygon points="379.4,253.1 383.5,251.5 384.4,253.0 380.3,254.6" fill="#0f5a78"/>
<polygon points="407.4,218.5 411.5,217.0 412.5,218.5 408.4,220.0" fill="#0f5a78"/>
<polygon points="412.9,220.0 417.0,218.5 418.0,220.0 413.9,221.5" fill="#0f5a78"/>
<polygon points="336.4,249.3 339.3,254.1 339.3,251.9 336.4,247.1" fill="#131318"/><polygon points="339.3,254.1 355.0,248.3 355.0,246.1 339.3,251.9" fill="#131318"/><polygon points="336.4,247.1 352.0,241.3 355.0,246.1 339.3,251.9" fill="#2c2c32"/>
<polygon points="460.5,199.4 466.1,208.4 466.1,204.9 460.5,195.9" fill="#d9d9d2"/><polygon points="466.1,208.4 478.6,203.7 478.6,200.2 466.1,204.9" fill="#e4e4de"/><polygon points="460.5,195.9 473.0,191.3 478.6,200.2 466.1,204.9" fill="#f0f0ea"/>
<polygon points="394.7,230.1 397.4,234.5 397.4,231.7 394.7,227.3" fill="#1a6fb8"/><polygon points="397.4,234.5 466.4,208.8 466.4,206.0 397.4,231.7" fill="#1a6fb8"/><polygon points="394.7,227.3 463.7,201.8 466.4,206.0 397.4,231.7" fill="#2e92e0"/><polygon points="396.4,228.7 463.9,203.6 464.6,204.7 397.1,229.8" fill="#1f5e96"/>
<polygon points="380.8,232.2 386.1,240.8 386.1,237.3 380.8,228.7" fill="#d9d9d2"/><polygon points="386.1,240.8 398.4,236.3 398.4,232.8 386.1,237.3" fill="#e4e4de"/><polygon points="380.8,228.7 393.1,224.1 398.4,232.8 386.1,237.3" fill="#f0f0ea"/>
<polygon points="295.6,259.7 303.8,273.3 303.8,270.8 295.6,257.2" fill="#1668ae"/><polygon points="303.8,273.3 310.7,270.7 310.7,268.2 303.8,270.8" fill="#1668ae"/><polygon points="295.6,257.2 302.5,254.6 310.7,268.2 303.8,270.8" fill="#2388d8"/><polygon points="297.4,258.3 299.3,257.6 300.3,259.3 298.4,260.0" fill="#0f5490"/><polygon points="300.6,257.1 302.5,256.4 303.5,258.1 301.6,258.8" fill="#0f5490"/><polygon points="299.3,261.4 301.2,260.7 302.2,262.4 300.3,263.1" fill="#0f5490"/><polygon points="302.5,260.2 304.3,259.5 305.3,261.2 303.5,261.9" fill="#0f5490"/><polygon points="301.2,264.5 303.0,263.8 304.0,265.5 302.2,266.2" fill="#0f5490"/><polygon points="304.3,263.3 306.2,262.6 307.2,264.3 305.3,265.0" fill="#0f5490"/><polygon points="303.0,267.6 304.9,266.9 305.9,268.6 304.0,269.3" fill="#0f5490"/><polygon points="306.2,266.4 308.1,265.7 309.1,267.4 307.2,268.1" fill="#0f5490"/>
<path d="M360.5 247.7 V251.3 A2.9 1.8 0 0 0 366.3 251.3 V247.7 Z" fill="#505056"/><ellipse cx="363.4" cy="247.7" rx="2.9" ry="1.8" fill="#c9c9cd"/>
<path d="M329.9 261.2 V264.6 A2.7 1.7 0 0 0 335.3 264.6 V261.2 Z" fill="#505056"/><ellipse cx="332.6" cy="261.2" rx="2.7" ry="1.7" fill="#c9c9cd"/>
<path d="M311.0 274.6 V276.2 A3.0 1.9 0 0 0 317.0 276.2 V274.6 Z" fill="#c4c4ca"/><ellipse cx="314.0" cy="274.6" rx="3.0" ry="1.9" fill="#e0e0e4"/>
<polygon points="466.2,208.6 471.8,217.6 471.8,214.1 466.2,205.1" fill="#d9d9d2"/><polygon points="471.8,217.6 484.3,212.9 484.3,209.4 471.8,214.1" fill="#e4e4de"/><polygon points="466.2,205.1 478.7,200.5 484.3,209.4 471.8,214.1" fill="#f0f0ea"/>
<polygon points="400.3,239.3 402.9,243.6 402.9,240.8 400.3,236.5" fill="#050508"/><polygon points="402.9,243.6 471.9,217.7 471.9,214.9 402.9,240.8" fill="#050508"/><polygon points="400.3,236.5 469.2,210.7 471.9,214.9 402.9,240.8" fill="#15151a"/><polygon points="402.0,237.8 469.4,212.5 470.1,213.6 402.7,239.0" fill="#000000"/>
<polygon points="386.3,241.1 391.6,249.8 391.6,246.3 386.3,237.6" fill="#d9d9d2"/><polygon points="391.6,249.8 403.9,245.1 403.9,241.6 391.6,246.3" fill="#e4e4de"/><polygon points="386.3,237.6 398.6,233.0 403.9,241.6 391.6,246.3" fill="#f0f0ea"/>
<polygon points="471.9,217.8 477.5,226.9 477.5,223.4 471.9,214.3" fill="#d9d9d2"/><polygon points="477.5,226.9 490.0,222.1 490.0,218.6 477.5,223.4" fill="#e4e4de"/><polygon points="471.9,214.3 484.4,209.7 490.0,218.6 477.5,223.4" fill="#f0f0ea"/>
<polygon points="391.7,250.0 397.0,258.7 397.0,255.2 391.7,246.5" fill="#d9d9d2"/><polygon points="397.0,258.7 409.3,254.0 409.3,250.5 397.0,255.2" fill="#e4e4de"/><polygon points="391.7,246.5 404.0,241.9 409.3,250.5 397.0,255.2" fill="#f0f0ea"/>
<polygon points="406.0,248.6 408.7,253.0 408.7,250.2 406.0,245.8" fill="#1a6fb8"/><polygon points="408.7,253.0 477.5,226.9 477.5,224.1 408.7,250.2" fill="#1a6fb8"/><polygon points="406.0,245.8 474.9,219.8 477.5,224.1 408.7,250.2" fill="#2e92e0"/><polygon points="407.7,247.1 475.1,221.6 475.8,222.8 408.4,248.3" fill="#1f5e96"/>
<polygon points="309.1,283.9 315.2,294.1 315.2,292.1 309.1,281.9" fill="#050508"/><polygon points="315.2,294.1 318.3,292.9 318.3,290.9 315.2,292.1" fill="#050508"/><polygon points="309.1,281.9 312.2,280.7 318.3,290.9 315.2,292.1" fill="#18181c"/>
<polygon points="356.7,261.6 364.4,274.3 364.4,271.7 356.7,259.0" fill="#1f74be"/><polygon points="364.4,274.3 373.7,270.8 373.7,268.2 364.4,271.7" fill="#1f74be"/><polygon points="356.7,259.0 366.0,255.5 373.7,268.2 364.4,271.7" fill="#3a9ae6"/><polygon points="360.2,260.3 365.0,258.5 370.1,266.9 365.3,268.7" fill="#1b62a2"/><polygon points="363.0,261.5 364.5,261.0 367.3,265.7 365.8,266.2" fill="#3a9ae6"/>
<polygon points="339.2,268.6 346.9,281.4 346.9,278.8 339.2,266.0" fill="#1f74be"/><polygon points="346.9,281.4 356.2,277.8 356.2,275.2 346.9,278.8" fill="#1f74be"/><polygon points="339.2,266.0 348.5,262.5 356.2,275.2 346.9,278.8" fill="#3a9ae6"/><polygon points="342.7,267.3 347.5,265.5 352.7,274.0 347.8,275.8" fill="#1b62a2"/><polygon points="345.5,268.6 347.0,268.0 349.9,272.7 348.4,273.3" fill="#3a9ae6"/>
<polygon points="321.2,275.7 329.0,288.5 329.0,285.9 321.2,273.1" fill="#d6d2c8"/><polygon points="329.0,288.5 338.3,285.0 338.3,282.4 329.0,285.9" fill="#d6d2c8"/><polygon points="321.2,273.1 330.6,269.6 338.3,282.4 329.0,285.9" fill="#f2efe8"/><polygon points="324.8,274.4 329.6,272.5 334.8,281.1 329.9,282.9" fill="#6a6a70"/><polygon points="327.6,275.6 329.1,275.1 332.0,279.8 330.5,280.4" fill="#f2efe8"/>
<polygon points="382.4,259.8 387.3,268.0 387.3,265.5 382.4,257.3" fill="#121216"/><polygon points="387.3,268.0 392.9,265.9 392.9,263.4 387.3,265.5" fill="#121216"/><polygon points="382.4,257.3 387.9,255.2 392.9,263.4 387.3,265.5" fill="#2c2c34"/>
<polygon points="477.7,227.1 483.3,236.1 483.3,232.6 477.7,223.6" fill="#d9d9d2"/><polygon points="483.3,236.1 495.7,231.3 495.7,227.8 483.3,232.6" fill="#e4e4de"/><polygon points="477.7,223.6 490.1,218.8 495.7,227.8 483.3,232.6" fill="#f0f0ea"/>
<polygon points="397.2,258.9 402.5,267.6 402.5,264.1 397.2,255.4" fill="#d9d9d2"/><polygon points="402.5,267.6 414.8,262.9 414.8,259.4 402.5,264.1" fill="#e4e4de"/><polygon points="397.2,255.4 409.5,250.8 414.8,259.4 402.5,264.1" fill="#f0f0ea"/>
<polygon points="411.8,258.1 414.5,262.5 414.5,259.7 411.8,255.3" fill="#050508"/><polygon points="414.5,262.5 483.3,236.1 483.3,233.3 414.5,259.7" fill="#050508"/><polygon points="411.8,255.3 480.6,229.0 483.3,233.3 414.5,259.7" fill="#15151a"/><polygon points="413.5,256.6 480.8,230.9 481.5,232.0 414.2,257.8" fill="#000000"/>
<path d="M382.6 275.5 V277.3 A2.9 1.8 0 0 0 388.4 277.3 V275.5 Z" fill="#c0c0c6"/><ellipse cx="385.5" cy="275.5" rx="2.9" ry="1.8" fill="#dcdce0"/>
<path d="M394.6 274.5 V276.3 A2.9 1.8 0 0 0 400.4 276.3 V274.5 Z" fill="#c0c0c6"/><ellipse cx="397.5" cy="274.5" rx="2.9" ry="1.8" fill="#dcdce0"/>
<polygon points="317.4,296.2 323.5,306.3 323.5,304.3 317.4,294.2" fill="#050508"/><polygon points="323.5,306.3 326.6,305.1 326.6,303.1 323.5,304.3" fill="#050508"/><polygon points="317.4,294.2 320.5,293.0 326.6,303.1 323.5,304.3" fill="#18181c"/>
<polygon points="405.9,270.2 408.7,274.8 408.7,272.8 405.9,268.2" fill="#1a6fb8"/><polygon points="408.7,274.8 428.0,267.4 428.0,265.4 408.7,272.8" fill="#1a6fb8"/><polygon points="405.9,268.2 425.2,260.8 428.0,265.4 408.7,272.8" fill="#2e8edc"/>
<polygon points="365.9,276.1 373.6,288.8 373.6,286.2 365.9,273.5" fill="#1f74be"/><polygon points="373.6,288.8 382.9,285.2 382.9,282.6 373.6,286.2" fill="#1f74be"/><polygon points="365.9,273.5 375.2,270.0 382.9,282.6 373.6,286.2" fill="#3a9ae6"/><polygon points="369.5,274.8 374.3,273.0 379.4,281.4 374.6,283.2" fill="#1b62a2"/><polygon points="372.3,276.0 373.8,275.5 376.6,280.2 375.1,280.7" fill="#3a9ae6"/>
<polygon points="348.4,283.1 356.1,295.9 356.1,293.3 348.4,280.5" fill="#1f74be"/><polygon points="356.1,295.9 365.4,292.3 365.4,289.7 356.1,293.3" fill="#1f74be"/><polygon points="348.4,280.5 357.7,277.0 365.4,289.7 356.1,293.3" fill="#3a9ae6"/><polygon points="351.9,281.8 356.8,280.0 361.9,288.4 357.1,290.3" fill="#1b62a2"/><polygon points="354.7,283.0 356.2,282.5 359.1,287.2 357.6,287.8" fill="#3a9ae6"/>
<polygon points="426.5,261.8 430.0,267.6 430.0,265.1 426.5,259.3" fill="#1668ae"/><polygon points="430.0,267.6 480.9,247.9 480.9,245.4 430.0,265.1" fill="#1668ae"/><polygon points="426.5,259.3 477.4,239.7 480.9,245.4 430.0,265.1" fill="#2388d8"/><polygon points="428.8,259.4 431.1,258.6 432.1,260.3 429.9,261.1" fill="#0f5490"/><polygon points="430.4,262.0 432.6,261.1 433.7,262.8 431.5,263.7" fill="#0f5490"/><polygon points="432.8,257.9 435.1,257.0 436.1,258.7 433.9,259.6" fill="#0f5490"/><polygon points="434.4,260.4 436.6,259.6 437.7,261.3 435.4,262.1" fill="#0f5490"/><polygon points="436.8,256.3 439.1,255.5 440.1,257.2 437.9,258.1" fill="#0f5490"/><polygon points="438.4,258.9 440.6,258.0 441.7,259.7 439.4,260.6" fill="#0f5490"/><polygon points="440.8,254.8 443.1,254.0 444.1,255.7 441.9,256.5" fill="#0f5490"/><polygon points="442.4,257.3 444.6,256.5 445.7,258.2 443.4,259.0" fill="#0f5490"/><polygon points="444.8,253.3 447.1,252.4 448.1,254.1 445.9,255.0" fill="#0f5490"/><polygon points="446.4,255.8 448.6,254.9 449.7,256.6 447.4,257.5" fill="#0f5490"/><polygon points="448.8,251.7 451.1,250.9 452.1,252.6 449.9,253.4" fill="#0f5490"/><polygon points="450.4,254.2 452.6,253.4 453.7,255.1 451.4,256.0" fill="#0f5490"/><polygon points="452.8,250.2 455.0,249.3 456.1,251.0 453.9,251.9" fill="#0f5490"/><polygon points="454.4,252.7 456.6,251.8 457.6,253.6 455.4,254.4" fill="#0f5490"/><polygon points="456.8,248.7 459.0,247.8 460.1,249.5 457.9,250.4" fill="#0f5490"/><polygon points="458.4,251.2 460.6,250.3 461.6,252.0 459.4,252.9" fill="#0f5490"/><polygon points="460.8,247.1 463.0,246.3 464.1,248.0 461.9,248.8" fill="#0f5490"/><polygon points="462.4,249.6 464.6,248.8 465.6,250.5 463.4,251.3" fill="#0f5490"/><polygon points="464.8,245.6 467.0,244.7 468.1,246.4 465.9,247.3" fill="#0f5490"/><polygon points="466.3,248.1 468.6,247.2 469.6,248.9 467.4,249.8" fill="#0f5490"/><polygon points="468.8,244.0 471.0,243.2 472.1,244.9 469.8,245.7" fill="#0f5490"/><polygon points="470.3,246.5 472.6,245.7 473.6,247.4 471.4,248.2" fill="#0f5490"/><polygon points="472.8,242.5 475.0,241.6 476.1,243.3 473.8,244.2" fill="#0f5490"/><polygon points="474.3,245.0 476.6,244.1 477.6,245.8 475.4,246.7" fill="#0f5490"/>
<polygon points="330.5,290.3 338.3,303.1 338.3,300.5 330.5,287.7" fill="#d6d2c8"/><polygon points="338.3,303.1 347.6,299.5 347.6,296.9 338.3,300.5" fill="#d6d2c8"/><polygon points="330.5,287.7 339.8,284.1 347.6,296.9 338.3,300.5" fill="#f2efe8"/><polygon points="334.0,288.9 338.9,287.1 344.0,295.6 339.2,297.5" fill="#6a6a70"/><polygon points="336.9,290.2 338.3,289.6 341.2,294.4 339.7,294.9" fill="#f2efe8"/>
</g></g>
<g transform="translate(0 526)"><clipPath id="mbclip2"><rect x="259" y="100" width="236.3" height="220"/></clipPath>
<g clip-path="url(#mbclip2)">
<polygon points="247.5,193.4 435.5,129.0 505.2,241.0 319.5,313.0" fill="#6fa72e"/>
<path d="M319.5,313.0 L505.2,241.0" stroke="#4d8a22" stroke-width="1.6" fill="none"/>
<path d="M247.5,193.4 L319.5,313.0" stroke="#5a9a28" stroke-width="1.2" fill="none"/>
<polygon points="317.9,191.6 332.7,186.4 335.9,191.6 321.0,196.8" fill="#64a22f"/>
<polygon points="306.9,252.0 324.5,245.5 328.3,251.7 310.6,258.3" fill="#559a33"/>
<polygon points="331.4,176.4 339.9,173.5 344.6,181.1 336.0,184.1" fill="#78aa2c"/>
<polygon points="410.4,260.9 424.9,255.4 430.2,264.0 415.7,269.6" fill="#559a33"/>
<polygon points="376.9,202.3 395.4,195.6 398.4,200.6 380.0,207.2" fill="#78aa2c"/>
<polygon points="302.8,231.9 316.4,227.0 321.7,235.8 308.1,240.7" fill="#64a22f"/>
<polygon points="403.8,165.3 417.9,160.3 423.4,169.2 409.3,174.2" fill="#7fb12c"/>
<polygon points="315.9,265.7 329.6,260.6 335.2,269.7 321.4,274.9" fill="#86b42e"/>
<polygon points="396.5,199.2 407.5,195.2 412.8,203.8 401.8,207.8" fill="#86b42e"/>
<polygon points="330.6,199.7 340.2,196.3 346.3,206.4 336.8,209.8" fill="#559a33"/>
<polygon points="384.8,215.9 402.0,209.6 408.0,219.3 390.7,225.6" fill="#7fb12c"/>
<polygon points="361.6,166.4 374.8,161.8 378.4,167.5 365.1,172.2" fill="#7fb12c"/>
<polygon points="310.6,238.3 318.5,235.4 324.2,244.8 316.3,247.7" fill="#78aa2c"/>
<polygon points="399.0,244.7 415.6,238.5 419.8,245.4 403.3,251.7" fill="#7fb12c"/>
<polygon points="391.7,220.5 404.3,215.8 410.6,226.2 398.1,230.9" fill="#7fb12c"/>
<polygon points="376.7,236.9 384.8,233.8 390.6,243.4 382.5,246.4" fill="#4c9436"/>
<polygon points="395.4,232.1 407.9,227.5 413.7,237.0 401.3,241.7" fill="#4c9436"/>
<polygon points="373.0,274.3 384.4,270.0 389.9,278.9 378.5,283.3" fill="#86b42e"/>
<polygon points="313.0,274.3 321.9,270.9 325.8,277.4 316.9,280.8" fill="#86b42e"/>
<polygon points="441.2,191.7 450.5,188.4 455.0,195.6 445.6,199.0" fill="#7fb12c"/>
<polygon points="456.1,227.1 473.2,220.7 477.1,227.0 460.0,233.5" fill="#86b42e"/>
<polygon points="464.8,206.5 476.6,202.2 480.3,208.2 468.6,212.6" fill="#559a33"/>
<polygon points="297.9,209.1 308.1,205.5 313.0,213.7 302.9,217.3" fill="#64a22f"/>
<polygon points="302.2,214.1 311.4,210.9 316.5,219.4 307.4,222.6" fill="#64a22f"/>
<polygon points="410.9,261.4 426.1,255.6 431.1,263.8 416.0,269.6" fill="#64a22f"/>
<polygon points="412.2,233.4 424.8,228.7 431.3,239.2 418.8,244.0" fill="#78aa2c"/>
<polygon points="405.0,212.9 416.9,208.5 421.4,215.8 409.5,220.2" fill="#86b42e"/>
<polygon points="365.2,163.8 373.5,160.9 377.2,166.9 368.9,169.8" fill="#5fa031"/>
<polygon points="310.7,252.9 319.3,249.8 324.6,258.5 316.0,261.7" fill="#64a22f"/>
<polygon points="293.8,227.8 301.6,225.0 308.2,236.0 300.4,238.8" fill="#64a22f"/>
<polygon points="358.1,239.9 376.3,233.1 381.7,242.0 363.6,248.8" fill="#86b42e"/>
<polygon points="329.1,278.9 347.6,271.9 352.5,279.9 334.0,287.0" fill="#86b42e"/>
<polygon points="315.4,191.6 331.3,186.0 337.3,195.8 321.4,201.5" fill="#86b42e"/>
<polygon points="404.8,162.5 412.5,159.8 419.4,170.8 411.6,173.6" fill="#64a22f"/>
<polygon points="359.3,246.7 377.0,240.1 383.0,250.0 365.4,256.7" fill="#7fb12c"/>
<polygon points="475.0,225.5 489.8,219.9 493.7,226.2 478.9,231.8" fill="#7fb12c"/>
<polygon points="430.7,177.8 440.7,174.2 445.8,182.4 435.8,186.0" fill="#64a22f"/>
<polygon points="323.5,198.9 340.2,193.1 347.2,204.6 330.6,210.5" fill="#78aa2c"/>
<polygon points="301.7,208.8 313.7,204.5 320.0,214.9 308.0,219.2" fill="#5fa031"/>
<polygon points="364.2,201.6 372.0,198.8 374.9,203.6 367.1,206.4" fill="#7fb12c"/>
<polygon points="346.0,187.2 360.3,182.2 364.6,189.2 350.3,194.3" fill="#78aa2c"/>
<polygon points="475.9,241.0 494.0,234.1 498.3,241.0 480.2,248.0" fill="#5fa031"/>
<polygon points="300.9,239.3 312.1,235.2 317.1,243.4 305.8,247.5" fill="#64a22f"/>
<polygon points="427.1,194.7 441.9,189.3 448.0,199.3 433.2,204.7" fill="#559a33"/>
<polygon points="403.1,157.9 415.0,153.7 420.8,163.1 408.9,167.3" fill="#5fa031"/>
<polygon points="346.0,185.3 362.4,179.5 366.6,186.5 350.2,192.3" fill="#78aa2c"/>
<polygon points="460.5,213.1 473.1,208.4 479.0,217.9 466.4,222.6" fill="#559a33"/>
<polygon points="387.6,169.6 396.5,166.5 399.9,172.1 391.0,175.2" fill="#86b42e"/>
<polygon points="400.0,162.3 416.8,156.4 423.7,167.6 406.9,173.5" fill="#4c9436"/>
<polygon points="423.0,155.5 436.6,150.7 439.5,155.3 425.9,160.1" fill="#78aa2c"/>
<polygon points="460.1,204.1 473.5,199.2 480.2,209.9 466.8,214.9" fill="#86b42e"/>
<polygon points="433.8,156.5 447.4,151.8 450.3,156.4 436.7,161.2" fill="#5fa031"/>
<polygon points="318.4,203.0 332.5,198.0 336.5,204.5 322.4,209.5" fill="#86b42e"/>
<polygon points="399.3,151.8 415.1,146.3 421.7,156.9 405.9,162.5" fill="#4c9436"/>
<polygon points="410.7,255.2 422.8,250.6 429.5,261.5 417.4,266.2" fill="#64a22f"/>
<polygon points="285.0,203.2 298.2,198.6 304.8,209.5 291.6,214.1" fill="#78aa2c"/>
<polygon points="284.3,184.2 300.8,178.5 304.4,184.4 287.9,190.1" fill="#86b42e"/>
<polygon points="366.3,170.7 374.5,167.9 380.2,177.2 372.0,180.1" fill="#64a22f"/>
<polygon points="398.2,244.4 406.9,241.1 412.1,249.6 403.4,252.9" fill="#5fa031"/>
<polygon points="288.2,187.8 296.8,184.8 301.6,192.7 293.0,195.7" fill="#559a33"/>
<polygon points="441.1,244.7 453.5,240.0 458.9,248.7 446.5,253.4" fill="#64a22f"/>
<polygon points="369.2,179.8 379.8,176.1 384.8,184.2 374.2,187.9" fill="#78aa2c"/>
<polygon points="395.3,265.9 410.5,260.1 417.0,270.8 401.8,276.7" fill="#7fb12c"/>
<polygon points="467.4,232.2 477.1,228.5 481.8,236.0 472.1,239.7" fill="#86b42e"/>
<polygon points="302.3,235.1 310.6,232.1 314.5,238.5 306.3,241.5" fill="#559a33"/>
<polygon points="308.8,214.5 317.6,211.4 323.8,221.5 315.0,224.7" fill="#4c9436"/>
<polygon points="386.3,195.0 396.6,191.3 400.0,196.8 389.7,200.6" fill="#86b42e"/>
<polygon points="352.2,283.8 364.1,279.3 369.0,287.4 357.2,292.0" fill="#4c9436"/>
<polygon points="405.4,162.3 417.8,158.0 422.7,166.0 410.4,170.4" fill="#7fb12c"/>
<polygon points="347.8,207.6 356.3,204.5 360.7,211.7 352.2,214.8" fill="#7fb12c"/>
<polygon points="382.6,209.0 384.8,208.2 385.8,209.8 383.6,210.6" fill="#b9b4c4"/>
<polygon points="357.4,228.6 359.6,227.8 360.6,229.4 358.4,230.3" fill="#aeb6a6"/>
<polygon points="349.5,169.9 351.8,169.1 352.7,170.7 350.5,171.5" fill="#c6c2cc"/>
<polygon points="435.0,145.6 437.3,144.8 438.3,146.4 436.0,147.2" fill="#aeb6a6"/>
<polygon points="363.8,279.8 366.0,279.0 367.0,280.6 364.8,281.4" fill="#c6c2cc"/>
<polygon points="310.4,192.4 312.6,191.6 313.6,193.2 311.4,194.0" fill="#c0bcc8"/>
<polygon points="451.5,215.3 453.7,214.5 454.7,216.1 452.5,216.9" fill="#aeb6a6"/>
<polygon points="362.6,229.4 364.8,228.5 365.8,230.2 363.5,231.0" fill="#c0bcc8"/>
<polygon points="385.1,160.9 387.4,160.1 388.4,161.7 386.1,162.5" fill="#b9b4c4"/>
<polygon points="409.3,164.9 411.6,164.2 412.6,165.7 410.3,166.5" fill="#b9b4c4"/>
<polygon points="302.4,179.7 304.6,179.0 305.6,180.6 303.4,181.4" fill="#b9b4c4"/>
<polygon points="403.0,154.0 405.2,153.2 406.2,154.8 404.0,155.5" fill="#c6c2cc"/>
<polygon points="324.2,288.9 326.4,288.1 327.4,289.7 325.2,290.6" fill="#c0bcc8"/>
<polygon points="323.4,307.7 325.7,306.9 326.7,308.5 324.4,309.4" fill="#c0bcc8"/>
<polygon points="437.9,166.1 440.1,165.3 441.1,166.8 438.9,167.6" fill="#c6c2cc"/>
<polygon points="309.4,273.0 311.7,272.1 312.7,273.8 310.4,274.6" fill="#b9b4c4"/>
<polygon points="445.1,162.7 447.4,161.9 448.4,163.5 446.1,164.3" fill="#c6c2cc"/>
<polygon points="310.5,217.3 312.8,216.5 313.8,218.2 311.5,219.0" fill="#aeb6a6"/>
<polygon points="362.5,184.4 364.8,183.6 365.8,185.3 363.5,186.0" fill="#c0bcc8"/>
<polygon points="355.0,183.3 357.3,182.5 358.3,184.1 356.0,184.9" fill="#aeb6a6"/>
<polygon points="464.7,253.1 466.9,252.3 467.9,253.9 465.7,254.7" fill="#b9b4c4"/>
<polygon points="306.1,277.5 308.3,276.7 309.3,278.4 307.1,279.2" fill="#c6c2cc"/>
<polygon points="362.2,189.9 364.4,189.1 365.4,190.7 363.2,191.5" fill="#c0bcc8"/>
<polygon points="328.3,281.2 330.5,280.4 331.5,282.0 329.3,282.9" fill="#c0bcc8"/>
<polygon points="408.1,213.9 410.3,213.1 411.3,214.7 409.1,215.5" fill="#c0bcc8"/>
<polygon points="448.4,167.6 450.7,166.8 451.6,168.3 449.4,169.1" fill="#c6c2cc"/>
<polygon points="452.9,170.6 455.2,169.8 456.1,171.3 453.9,172.1" fill="#c6c2cc"/>
<polygon points="349.4,208.3 351.7,207.5 352.7,209.1 350.4,209.9" fill="#b9b4c4"/>
<polygon points="404.7,144.2 406.9,143.4 407.9,145.0 405.7,145.8" fill="#aeb6a6"/>
<polygon points="334.2,174.0 336.5,173.2 337.4,174.8 335.2,175.6" fill="#c0bcc8"/>
<polygon points="454.9,213.4 457.1,212.5 458.1,214.1 455.8,214.9" fill="#aeb6a6"/>
<polygon points="407.7,233.9 409.9,233.1 410.9,234.7 408.7,235.5" fill="#b9b4c4"/>
<polygon points="346.3,183.6 348.6,182.8 349.6,184.4 347.3,185.2" fill="#c0bcc8"/>
<polygon points="278.5,236.0 280.7,235.2 281.8,236.9 279.5,237.7" fill="#aeb6a6"/>
<polygon points="464.9,193.2 467.1,192.4 468.1,194.0 465.8,194.8" fill="#c6c2cc"/>
<polygon points="319.8,293.3 322.0,292.5 323.0,294.2 320.8,295.0" fill="#c6c2cc"/>
<polygon points="317.1,172.5 319.4,171.7 320.4,173.4 318.1,174.2" fill="#c0bcc8"/>
<polygon points="287.1,221.1 289.3,220.3 290.3,222.0 288.1,222.8" fill="#c6c2cc"/>
<polygon points="350.7,266.8 352.9,265.9 353.9,267.6 351.7,268.4" fill="#b9b4c4"/>
<polygon points="306.5,188.3 308.8,187.5 309.8,189.1 307.5,189.9" fill="#c0bcc8"/>
<polygon points="385.3,201.7 387.5,200.9 388.5,202.5 386.3,203.3" fill="#aeb6a6"/>
<polygon points="323.5,201.8 325.8,201.1 326.8,202.7 324.5,203.5" fill="#c6c2cc"/>
<polygon points="419.8,232.6 422.0,231.7 423.0,233.3 420.8,234.2" fill="#c0bcc8"/>
<polygon points="439.2,225.9 441.5,225.1 442.4,226.7 440.2,227.5" fill="#c0bcc8"/>
<polygon points="329.5,267.5 331.7,266.7 332.7,268.3 330.5,269.2" fill="#c6c2cc"/>
<polygon points="318.2,287.3 320.5,286.5 321.5,288.1 319.2,289.0" fill="#c0bcc8"/>
<polygon points="440.0,238.0 442.2,237.1 443.2,238.7 440.9,239.6" fill="#c6c2cc"/>
<polygon points="467.4,219.6 469.7,218.8 470.6,220.4 468.4,221.2" fill="#b9b4c4"/>
<polygon points="441.1,206.9 443.4,206.1 444.4,207.6 442.1,208.5" fill="#c6c2cc"/>
<polygon points="270.9,194.0 273.2,193.2 274.2,194.9 271.9,195.7" fill="#aeb6a6"/>
<polygon points="451.1,175.7 453.3,174.9 454.3,176.5 452.1,177.3" fill="#c0bcc8"/>
<polygon points="396.1,229.4 398.3,228.6 399.3,230.2 397.1,231.0" fill="#c6c2cc"/>
<polygon points="341.2,164.5 343.5,163.8 344.5,165.4 342.2,166.2" fill="#b9b4c4"/>
<polygon points="421.7,203.2 423.9,202.4 424.9,203.9 422.6,204.8" fill="#b9b4c4"/>
<polygon points="376.1,160.9 378.4,160.1 379.4,161.7 377.1,162.5" fill="#c0bcc8"/>
<polygon points="303.3,187.3 305.6,186.5 306.6,188.1 304.3,188.9" fill="#aeb6a6"/>
<polygon points="346.9,265.4 349.2,264.6 350.2,266.3 347.9,267.1" fill="#c6c2cc"/>
<polygon points="452.1,255.5 454.3,254.6 455.3,256.2 453.0,257.1" fill="#c0bcc8"/>
<polygon points="410.4,150.4 412.7,149.7 413.7,151.3 411.4,152.0" fill="#aeb6a6"/>
<polygon points="432.7,214.4 434.9,213.6 435.9,215.2 433.7,216.0" fill="#c6c2cc"/>
<polygon points="276.8,206.5 279.1,205.7 280.1,207.4 277.8,208.2" fill="#aeb6a6"/>
<polygon points="417.2,230.4 419.4,229.6 420.4,231.2 418.2,232.0" fill="#c6c2cc"/>
<polygon points="259.1,200.7 261.4,199.9 262.4,201.6 260.1,202.3" fill="#aeb6a6"/>
<polygon points="434.8,145.0 437.1,144.2 438.1,145.8 435.8,146.5" fill="#c6c2cc"/>
<polygon points="394.3,184.6 396.5,183.8 397.5,185.4 395.3,186.2" fill="#aeb6a6"/>
<polygon points="368.3,217.7 370.5,216.8 371.5,218.5 369.3,219.3" fill="#b9b4c4"/>
<polygon points="468.7,192.1 470.9,191.3 471.9,192.8 469.7,193.7" fill="#aeb6a6"/>
<polygon points="491.9,234.8 494.2,234.0 495.1,235.5 492.9,236.4" fill="#b9b4c4"/>
<polygon points="310.2,185.2 312.4,184.4 313.4,186.0 311.2,186.8" fill="#c0bcc8"/>
<polygon points="458.0,174.6 460.2,173.8 461.2,175.3 458.9,176.1" fill="#c6c2cc"/>
<polygon points="272.4,200.2 274.6,199.4 275.6,201.1 273.4,201.8" fill="#aeb6a6"/>
<polygon points="433.5,149.8 435.8,149.0 436.7,150.6 434.5,151.4" fill="#aeb6a6"/>
<polygon points="460.0,215.8 462.2,215.0 463.2,216.6 461.0,217.4" fill="#c6c2cc"/>
<polygon points="402.1,261.1 404.4,260.2 405.4,261.8 403.1,262.7" fill="#c0bcc8"/>
<polygon points="257.4,193.4 259.7,192.6 260.7,194.3 258.4,195.0" fill="#c0bcc8"/>
<polygon points="403.1,196.8 405.3,196.0 406.3,197.6 404.1,198.4" fill="#c6c2cc"/>
<polygon points="353.4,210.7 355.7,209.9 356.7,211.6 354.4,212.4" fill="#b9b4c4"/>
<polygon points="404.4,142.6 406.7,141.8 407.7,143.4 405.4,144.2" fill="#aeb6a6"/>
<polygon points="412.2,155.6 414.4,154.8 415.4,156.4 413.2,157.1" fill="#c6c2cc"/>
<polygon points="442.3,249.2 444.5,248.3 445.5,249.9 443.3,250.8" fill="#aeb6a6"/>
<polygon points="302.8,186.1 305.1,185.4 306.1,187.0 303.8,187.8" fill="#c0bcc8"/>
<polygon points="472.4,196.0 474.6,195.2 475.6,196.8 473.3,197.6" fill="#aeb6a6"/>
<polygon points="470.4,218.9 472.6,218.1 473.6,219.6 471.4,220.5" fill="#b9b4c4"/>
<polygon points="306.9,182.9 309.1,182.1 310.1,183.8 307.9,184.6" fill="#aeb6a6"/>
<polygon points="377.4,171.6 379.6,170.8 380.6,172.4 378.3,173.2" fill="#aeb6a6"/>
<polygon points="352.9,202.7 355.2,201.9 356.2,203.5 353.9,204.3" fill="#aeb6a6"/>
<polygon points="423.2,192.5 425.4,191.7 426.4,193.3 424.2,194.1" fill="#b9b4c4"/>
<polygon points="441.7,212.9 443.9,212.1 444.9,213.7 442.7,214.5" fill="#c6c2cc"/>
<polygon points="385.9,155.3 388.1,154.6 389.1,156.2 386.9,156.9" fill="#c0bcc8"/>
<polygon points="385.3,250.5 387.6,249.7 388.6,251.3 386.3,252.1" fill="#aeb6a6"/>
<polygon points="402.4,265.9 404.6,265.0 405.6,266.6 403.4,267.5" fill="#c6c2cc"/>
<polygon points="312.0,231.0 314.3,230.2 315.3,231.8 313.0,232.7" fill="#aeb6a6"/>
<polygon points="357.0,259.3 359.2,258.4 360.2,260.1 358.0,260.9" fill="#aeb6a6"/>
<polygon points="342.3,196.0 344.5,195.2 345.5,196.9 343.3,197.6" fill="#c0bcc8"/>
<polygon points="380.0,203.6 382.3,202.8 383.3,204.5 381.0,205.3" fill="#c6c2cc"/>
<polygon points="373.8,162.9 376.1,162.1 377.1,163.7 374.8,164.5" fill="#c0bcc8"/>
<polygon points="382.8,210.6 385.0,209.8 386.0,211.4 383.8,212.2" fill="#aeb6a6"/>
<polygon points="462.6,181.2 464.9,180.4 465.8,182.0 463.6,182.8" fill="#c6c2cc"/>
<polygon points="368.1,187.6 370.4,186.8 371.4,188.4 369.1,189.2" fill="#c6c2cc"/>
<polygon points="320.6,183.5 322.9,182.8 323.9,184.4 321.6,185.2" fill="#c6c2cc"/>
<polygon points="374.4,262.4 376.7,261.6 377.7,263.2 375.4,264.0" fill="#c6c2cc"/>
<polygon points="463.2,220.8 465.4,220.0 466.4,221.6 464.1,222.4" fill="#c0bcc8"/>
<polygon points="372.7,254.3 374.9,253.5 375.9,255.1 373.7,255.9" fill="#c6c2cc"/>
<polygon points="343.8,209.0 346.0,208.2 347.0,209.9 344.8,210.7" fill="#b9b4c4"/>
<polygon points="381.6,227.5 383.9,226.7 384.9,228.3 382.6,229.1" fill="#aeb6a6"/>
<polygon points="310.0,244.0 312.3,243.2 313.3,244.8 311.1,245.6" fill="#c6c2cc"/>
<polygon points="331.2,291.0 333.4,290.2 334.4,291.8 332.2,292.7" fill="#c0bcc8"/>
<polygon points="355.2,219.6 357.5,218.8 358.5,220.4 356.2,221.2" fill="#aeb6a6"/>
<polygon points="464.6,236.8 466.8,236.0 467.8,237.5 465.5,238.4" fill="#b9b4c4"/>
<polygon points="304.9,235.0 307.2,234.2 308.2,235.8 305.9,236.7" fill="#c0bcc8"/>
<polygon points="460.2,187.3 462.5,186.5 463.5,188.1 461.2,188.9" fill="#b9b4c4"/>
<polygon points="386.6,274.0 388.8,273.1 389.8,274.8 387.6,275.6" fill="#c0bcc8"/>
<polygon points="444.8,161.1 447.0,160.3 448.0,161.8 445.8,162.6" fill="#b9b4c4"/>
<polygon points="303.5,197.8 305.8,197.0 306.8,198.7 304.5,199.5" fill="#b9b4c4"/>
<polygon points="471.0,214.2 473.2,213.3 474.2,214.9 472.0,215.7" fill="#c0bcc8"/>
<polygon points="321.6,277.9 323.8,277.0 324.8,278.7 322.6,279.5" fill="#b9b4c4"/>
<polygon points="409.5,171.4 411.8,170.6 412.8,172.2 410.5,173.0" fill="#b9b4c4"/>
<polygon points="389.7,188.0 392.0,187.2 393.0,188.8 390.7,189.6" fill="#c6c2cc"/>
<polygon points="401.5,213.9 403.8,213.1 404.8,214.7 402.5,215.5" fill="#c0bcc8"/>
<polygon points="386.3,163.5 388.6,162.7 389.6,164.3 387.3,165.1" fill="#b9b4c4"/>
<polygon points="371.5,282.1 373.7,281.2 374.7,282.9 372.5,283.7" fill="#c6c2cc"/>
<polygon points="338.0,195.5 340.2,194.7 341.2,196.3 339.0,197.1" fill="#b9b4c4"/>
<polygon points="275.4,228.4 277.7,227.6 278.7,229.3 276.4,230.1" fill="#c0bcc8"/>
<polygon points="324.6,212.9 326.9,212.1 327.9,213.7 325.6,214.5" fill="#c6c2cc"/>
<polygon points="354.4,191.2 356.7,190.4 357.7,192.0 355.4,192.8" fill="#c6c2cc"/>
<polygon points="286.4,239.8 288.6,239.0 289.7,240.7 287.4,241.5" fill="#aeb6a6"/>
<polygon points="276.1,213.3 278.3,212.5 279.3,214.1 277.1,214.9" fill="#c0bcc8"/>
<polygon points="283.0,215.5 285.3,214.7 286.3,216.3 284.0,217.1" fill="#c0bcc8"/>
<polygon points="434.9,161.7 437.1,160.9 438.1,162.5 435.8,163.3" fill="#b9b4c4"/>
<polygon points="426.8,230.3 429.0,229.4 430.0,231.0 427.8,231.9" fill="#aeb6a6"/>
<polygon points="389.3,174.0 391.5,173.2 392.5,174.8 390.2,175.6" fill="#aeb6a6"/>
<polygon points="420.1,204.0 422.4,203.2 423.4,204.8 421.1,205.6" fill="#c6c2cc"/>
<polygon points="355.8,186.1 358.0,185.3 359.0,186.9 356.8,187.7" fill="#c6c2cc"/>
<polygon points="309.5,205.2 311.8,204.4 312.8,206.1 310.5,206.9" fill="#aeb6a6"/>
<polygon points="315.3,258.8 317.5,257.9 318.5,259.6 316.3,260.4" fill="#c6c2cc"/>
<polygon points="447.0,191.5 449.3,190.7 450.3,192.3 448.0,193.1" fill="#b9b4c4"/>
<polygon points="433.7,151.5 436.0,150.7 436.9,152.3 434.7,153.1" fill="#c0bcc8"/>
<polygon points="264.1,193.8 266.4,193.1 267.4,194.7 265.1,195.5" fill="#c6c2cc"/>
<polygon points="376.1,248.1 378.3,247.3 379.3,248.9 377.1,249.7" fill="#c6c2cc"/>
<polygon points="385.0,270.6 387.2,269.8 388.2,271.4 386.0,272.3" fill="#aeb6a6"/>
<polygon points="452.3,258.4 454.5,257.5 455.5,259.1 453.2,260.0" fill="#c6c2cc"/>
<polygon points="324.8,194.9 327.0,194.2 328.0,195.8 325.8,196.6" fill="#c0bcc8"/>
<polygon points="304.3,268.6 306.5,267.7 307.5,269.4 305.3,270.2" fill="#c0bcc8"/>
<polygon points="470.4,249.7 472.6,248.8 473.6,250.4 471.4,251.2" fill="#c0bcc8"/>
<polygon points="283.4,184.3 285.7,183.6 286.7,185.2 284.4,186.0" fill="#aeb6a6"/>
<polygon points="296.2,237.4 298.5,236.6 299.5,238.3 297.2,239.1" fill="#b9b4c4"/>
<polygon points="405.5,243.8 407.7,242.9 408.7,244.5 406.4,245.4" fill="#c0bcc8"/>
<polygon points="373.2,264.6 375.4,263.7 376.4,265.3 374.2,266.2" fill="#c0bcc8"/>
<polygon points="317.1,269.5 319.4,268.7 320.4,270.3 318.1,271.2" fill="#c6c2cc"/>
<polygon points="382.7,274.4 385.0,273.6 386.0,275.2 383.7,276.1" fill="#c6c2cc"/>
<polygon points="397.4,136.6 401.7,143.6 401.7,129.4 397.4,122.4" fill="#cfcfd8"/><polygon points="401.7,143.6 416.0,138.7 416.0,124.5 401.7,129.4" fill="#e6e6ec"/><polygon points="397.4,122.4 411.6,117.5 416.0,124.5 401.7,129.4" fill="#dedee4"/><path d="M397.4,122.4 L401.7,129.4 L416.0,124.5 M401.7,129.4 L401.7,143.6" stroke="#f6f6fa" stroke-width="0.9" fill="none"/>
<polygon points="413.2,129.8 418.6,138.5 418.6,123.9 413.2,115.2" fill="#cfcfd8"/><polygon points="418.6,138.5 434.6,133.0 434.6,118.4 418.6,123.9" fill="#e6e6ec"/><polygon points="413.2,115.2 429.2,109.8 434.6,118.4 418.6,123.9" fill="#dedee4"/><path d="M413.2,115.2 L418.6,123.9 L434.6,118.4 M418.6,123.9 L418.6,138.5" stroke="#f6f6fa" stroke-width="0.9" fill="none"/>
<polygon points="366.8,144.9 372.8,154.7 372.8,143.2 366.8,133.4" fill="#2b3344"/><polygon points="372.8,154.7 399.3,145.5 399.3,134.0 372.8,143.2" fill="#333c4e"/><polygon points="366.8,133.4 393.3,124.4 399.3,134.0 372.8,143.2" fill="#3a4356"/><path d="M366.8,133.4 L372.8,143.2 L399.3,134.0 M372.8,143.2 L372.8,154.7" stroke="#4c566a" stroke-width="0.9" fill="none"/>
<path d="M304.4 176.4 V178.8 A2.4 1.5 0 0 0 309.2 178.8 V176.4 Z" fill="#55555a"/><ellipse cx="306.8" cy="176.4" rx="2.4" ry="1.5" fill="#c9c9cd"/>
<path d="M309.1 170.8 V173.2 A2.2 1.4 0 0 0 313.5 173.2 V170.8 Z" fill="#55555a"/><ellipse cx="311.3" cy="170.8" rx="2.2" ry="1.4" fill="#c9c9cd"/>
<polygon points="322.8,169.0 327.1,176.0 327.1,173.5 322.8,166.5" fill="#121216"/><polygon points="327.1,176.0 331.4,174.5 331.4,172.0 327.1,173.5" fill="#121216"/><polygon points="322.8,166.5 327.2,165.0 331.4,172.0 327.1,173.5" fill="#2a2a30"/>
<polygon points="350.7,153.2 356.8,163.2 356.8,150.7 350.7,140.7" fill="#cfcfd8"/><polygon points="356.8,163.2 369.2,158.9 369.2,146.4 356.8,150.7" fill="#e6e6ec"/><polygon points="350.7,140.7 363.1,136.4 369.2,146.4 356.8,150.7" fill="#dedee4"/><path d="M350.7,140.7 L356.8,150.7 L369.2,146.4 M356.8,150.7 L356.8,163.2" stroke="#f6f6fa" stroke-width="0.9" fill="none"/>
<polygon points="328.8,161.3 335.4,172.0 335.4,159.5 328.8,148.8" fill="#cfcfd8"/><polygon points="335.4,172.0 351.2,166.6 351.2,154.1 335.4,159.5" fill="#e6e6ec"/><polygon points="328.8,148.8 344.6,143.4 351.2,154.1 335.4,159.5" fill="#dedee4"/><path d="M328.8,148.8 L335.4,159.5 L351.2,154.1 M335.4,159.5 L335.4,172.0" stroke="#f6f6fa" stroke-width="0.9" fill="none"/>
<polygon points="266.7,193.3 268.9,196.8 268.9,194.8 266.7,191.3" fill="#121216"/><polygon points="268.9,196.8 281.1,192.6 281.1,190.6 268.9,194.8" fill="#121216"/><polygon points="266.7,191.3 278.9,187.1 281.1,190.6 268.9,194.8" fill="#2a2a30"/>
<polygon points="282.5,185.7 284.7,189.2 284.7,187.2 282.5,183.7" fill="#121216"/><polygon points="284.7,189.2 297.8,184.7 297.8,182.7 284.7,187.2" fill="#121216"/><polygon points="282.5,183.7 295.7,179.2 297.8,182.7 284.7,187.2" fill="#2a2a30"/>
<ellipse cx="263.4" cy="200.4" rx="5.6" ry="7" fill="#1f7fd0"/><ellipse cx="262.8" cy="198.8" rx="3.8" ry="4.6" fill="#3a3a40"/><circle cx="261.8" cy="197.6" r="1.2" fill="#d0d0d0"/><circle cx="264.2" cy="200.0" r="1.2" fill="#d0d0d0"/><circle cx="261.6" cy="201.0" r="1.0" fill="#c0c0c0"/>
<path d="M315.4 179.1 V181.1 A3.0 1.9 0 0 0 321.4 181.1 V179.1 Z" fill="#c6c6cc"/><ellipse cx="318.4" cy="179.1" rx="3.0" ry="1.9" fill="#e3e3e7"/>
<polygon points="433.9,140.4 437.4,146.0 437.4,143.0 433.9,137.4" fill="#15151a"/><polygon points="437.4,146.0 443.1,144.1 443.1,141.1 437.4,143.0" fill="#15151a"/><polygon points="433.9,137.4 439.6,135.5 443.1,141.1 437.4,143.0" fill="#2a2a30"/>
<polygon points="414.1,150.7 416.9,155.3 416.9,152.8 414.1,148.2" fill="#1668ae"/><polygon points="416.9,155.3 433.8,149.4 433.8,146.9 416.9,152.8" fill="#1668ae"/><polygon points="414.1,148.2 431.0,142.4 433.8,146.9 416.9,152.8" fill="#2388d8"/>
<polygon points="416.8,148.2 418.9,147.5 420.3,149.8 418.2,150.5" fill="#104f88"/>
<polygon points="420.6,146.9 422.7,146.2 424.1,148.5 422.0,149.2" fill="#104f88"/>
<polygon points="424.3,145.6 426.4,144.9 427.8,147.2 425.7,147.9" fill="#104f88"/>
<polygon points="428.1,144.3 430.2,143.6 431.6,145.9 429.5,146.6" fill="#104f88"/>
<polygon points="400.2,155.6 402.0,158.5 402.0,156.5 400.2,153.6" fill="#0c0c10"/><polygon points="402.0,158.5 408.8,156.2 408.8,154.2 402.0,156.5" fill="#0c0c10"/><polygon points="400.2,153.6 407.0,151.2 408.8,154.2 402.0,156.5" fill="#1a1a20"/>
<polygon points="390.3,159.8 392.1,162.8 392.1,160.8 390.3,157.8" fill="#0c0c10"/><polygon points="392.1,162.8 398.9,160.4 398.9,158.4 392.1,160.8" fill="#0c0c10"/><polygon points="390.3,157.8 397.1,155.5 398.9,158.4 392.1,160.8" fill="#1a1a20"/>
<polygon points="380.5,164.2 382.3,167.2 382.3,165.2 380.5,162.2" fill="#0c0c10"/><polygon points="382.3,167.2 389.0,164.8 389.0,162.8 382.3,165.2" fill="#0c0c10"/><polygon points="380.5,162.2 387.2,159.9 389.0,162.8 382.3,165.2" fill="#1a1a20"/>
<path d="M412.5 153.8 V155.8 A2.0 1.2 0 0 0 416.5 155.8 V153.8 Z" fill="#c4c4ca"/><ellipse cx="414.5" cy="153.8" rx="2.0" ry="1.2" fill="#e0e0e4"/>
<path d="M404.4 157.3 V159.3 A2.0 1.2 0 0 0 408.4 159.3 V157.3 Z" fill="#c4c4ca"/><ellipse cx="406.4" cy="157.3" rx="2.0" ry="1.2" fill="#e0e0e4"/>
<path d="M395.4 161.2 V163.2 A2.0 1.2 0 0 0 399.4 163.2 V161.2 Z" fill="#c4c4ca"/><ellipse cx="397.4" cy="161.2" rx="2.0" ry="1.2" fill="#e0e0e4"/>
<path d="M386.3 165.0 V167.0 A2.0 1.2 0 0 0 390.3 167.0 V165.0 Z" fill="#c4c4ca"/><ellipse cx="388.3" cy="165.0" rx="2.0" ry="1.2" fill="#e0e0e4"/>
<path d="M437.0 152.4 V155.4 A3.0 1.9 0 0 0 443.0 155.4 V152.4 Z" fill="#c6c6cc"/><ellipse cx="440.0" cy="152.4" rx="3.0" ry="1.9" fill="#e3e3e7"/>
<path d="M440.5 158.3 V161.3 A3.0 1.9 0 0 0 446.5 161.3 V158.3 Z" fill="#c6c6cc"/><ellipse cx="443.5" cy="158.3" rx="3.0" ry="1.9" fill="#e3e3e7"/>
<path d="M385.0 180.6 V183.0 A2.4 1.5 0 0 0 389.8 183.0 V180.6 Z" fill="#c0c0c6"/><ellipse cx="387.4" cy="180.6" rx="2.4" ry="1.5" fill="#dcdce0"/>
<path d="M343.5 185.0 L352.6 199.9" stroke="#1c1c22" stroke-width="7.4" stroke-linecap="round" fill="none"/><path d="M343.5 183.5 L352.6 198.4" stroke="#1c1c22" stroke-width="7.4" stroke-linecap="round" fill="none"/><path d="M343.5 182.0 L352.6 196.9" stroke="#34343c" stroke-width="7.4" stroke-linecap="round" fill="none"/><path d="M344.7 183.9 L348.0 189.3" stroke="#08080c" stroke-width="2.5160000000000005" stroke-linecap="round" fill="none"/><path d="M349.3 191.4 L351.5 195.0" stroke="#08080c" stroke-width="2.5160000000000005" stroke-linecap="round" fill="none"/>
<path d="M371.2 172.6 L381.4 189.2" stroke="#1c1c22" stroke-width="7.4" stroke-linecap="round" fill="none"/><path d="M371.2 171.1 L381.4 187.7" stroke="#1c1c22" stroke-width="7.4" stroke-linecap="round" fill="none"/><path d="M371.2 169.6 L381.4 186.2" stroke="#34343c" stroke-width="7.4" stroke-linecap="round" fill="none"/><path d="M372.4 171.4 L376.3 177.8" stroke="#08080c" stroke-width="2.5160000000000005" stroke-linecap="round" fill="none"/><path d="M377.6 179.9 L380.3 184.3" stroke="#08080c" stroke-width="2.5160000000000005" stroke-linecap="round" fill="none"/>
<polygon points="268.7,213.5 276.6,226.6 276.6,224.1 268.7,211.0" fill="#1e1e24"/><polygon points="276.6,226.6 285.6,223.4 285.6,220.9 276.6,224.1" fill="#1e1e24"/><polygon points="268.7,211.0 277.7,207.8 285.6,220.9 276.6,224.1" fill="#3a3a42"/><polygon points="270.5,211.8 272.8,211.0 274.1,213.1 271.8,213.9" fill="#b9b9bd"/><polygon points="274.5,210.4 276.7,209.6 278.0,211.8 275.8,212.5" fill="#b9b9bd"/><polygon points="272.9,215.7 275.1,214.9 276.4,217.1 274.2,217.9" fill="#b9b9bd"/><polygon points="276.8,214.3 279.1,213.5 280.4,215.7 278.1,216.5" fill="#b9b9bd"/><polygon points="275.3,219.7 277.5,218.9 278.8,221.0 276.6,221.8" fill="#b9b9bd"/><polygon points="279.2,218.3 281.5,217.5 282.7,219.6 280.5,220.4" fill="#b9b9bd"/>
<path d="M387.8 185.9 V188.3 A2.4 1.5 0 0 0 392.6 188.3 V185.9 Z" fill="#c0c0c6"/><ellipse cx="390.2" cy="185.9" rx="2.4" ry="1.5" fill="#dcdce0"/>
<path d="M448.1 168.2 V171.8 A2.6 1.6 0 0 0 453.3 171.8 V168.2 Z" fill="#55555a"/><ellipse cx="450.7" cy="168.2" rx="2.6" ry="1.6" fill="#c9c9cd"/>
<path d="M285.9 207.7 L298.8 229.1" stroke="#1c1c22" stroke-width="7.6" stroke-linecap="round" fill="none"/><path d="M285.9 206.2 L298.8 227.6" stroke="#1c1c22" stroke-width="7.6" stroke-linecap="round" fill="none"/><path d="M285.9 204.7 L298.8 226.1" stroke="#34343c" stroke-width="7.6" stroke-linecap="round" fill="none"/><path d="M287.1 206.6 L293.2 216.8" stroke="#08080c" stroke-width="2.584" stroke-linecap="round" fill="none"/><path d="M294.4 218.9 L297.6 224.2" stroke="#08080c" stroke-width="2.584" stroke-linecap="round" fill="none"/>
<polygon points="382.8,195.1 385.6,199.7 385.6,196.7 382.8,192.1" fill="#4a4a50"/><polygon points="385.6,199.7 391.2,197.7 391.2,194.7 385.6,196.7" fill="#4a4a50"/><polygon points="382.8,192.1 388.4,190.1 391.2,194.7 385.6,196.7" fill="#6c6c72"/>
<polygon points="358.2,205.3 360.7,209.4 360.7,207.4 358.2,203.3" fill="#131318"/><polygon points="360.7,209.4 371.9,205.4 371.9,203.4 360.7,207.4" fill="#131318"/><polygon points="358.2,203.3 369.5,199.3 371.9,203.4 360.7,207.4" fill="#2c2c32"/>
<path d="M452.2 174.1 V177.7 A2.6 1.6 0 0 0 457.4 177.7 V174.1 Z" fill="#55555a"/><ellipse cx="454.8" cy="174.1" rx="2.6" ry="1.6" fill="#c9c9cd"/>
<polygon points="278.4,231.1 286.6,244.7 286.6,242.2 278.4,228.6" fill="#1668ae"/><polygon points="286.6,244.7 293.5,242.2 293.5,239.7 286.6,242.2" fill="#1668ae"/><polygon points="278.4,228.6 285.3,226.1 293.5,239.7 286.6,242.2" fill="#2388d8"/><polygon points="280.2,229.7 282.0,229.0 283.0,230.7 281.2,231.3" fill="#0f5490"/><polygon points="283.3,228.5 285.2,227.8 286.2,229.5 284.3,230.2" fill="#0f5490"/><polygon points="282.0,232.8 283.9,232.1 284.9,233.8 283.0,234.4" fill="#0f5490"/><polygon points="285.2,231.6 287.1,230.9 288.1,232.6 286.2,233.3" fill="#0f5490"/><polygon points="283.9,235.9 285.8,235.2 286.8,236.9 284.9,237.5" fill="#0f5490"/><polygon points="287.1,234.7 288.9,234.0 290.0,235.7 288.1,236.4" fill="#0f5490"/><polygon points="285.8,239.0 287.6,238.3 288.6,239.9 286.8,240.6" fill="#0f5490"/><polygon points="288.9,237.8 290.8,237.1 291.8,238.8 290.0,239.5" fill="#0f5490"/>
<path d="M390.4 203.4 V206.4 A2.8 1.7 0 0 0 396.0 206.4 V203.4 Z" fill="#bcbcc2"/><ellipse cx="393.2" cy="203.4" rx="2.8" ry="1.7" fill="#dcdce0"/>
<path d="M300.7 236.6 V240.0 A2.7 1.7 0 0 0 306.1 240.0 V236.6 Z" fill="#505056"/><ellipse cx="303.4" cy="236.6" rx="2.7" ry="1.7" fill="#c9c9cd"/>
<path d="M456.7 180.2 V183.8 A2.6 1.6 0 0 0 461.9 183.8 V180.2 Z" fill="#55555a"/><ellipse cx="459.3" cy="180.2" rx="2.6" ry="1.6" fill="#c9c9cd"/>
<path d="M316.5 195.5 L336.9 229.2" stroke="#4ea6e2" stroke-width="9.6" stroke-linecap="round" fill="none"/><path d="M316.5 194.0 L336.9 227.7" stroke="#4ea6e2" stroke-width="9.6" stroke-linecap="round" fill="none"/><path d="M316.5 192.5 L336.9 226.2" stroke="#7ec6f2" stroke-width="9.6" stroke-linecap="round" fill="none"/><path d="M318.0 195.0 L330.1 215.0" stroke="#2f7fb4" stroke-width="3.2640000000000002" stroke-linecap="round" fill="none"/><path d="M331.4 217.0 L335.4 223.7" stroke="#2f7fb4" stroke-width="3.2640000000000002" stroke-linecap="round" fill="none"/>
<path d="M302.2 200.5 L322.7 234.4" stroke="#4ea6e2" stroke-width="9.6" stroke-linecap="round" fill="none"/><path d="M302.2 199.0 L322.7 232.9" stroke="#4ea6e2" stroke-width="9.6" stroke-linecap="round" fill="none"/><path d="M302.2 197.5 L322.7 231.4" stroke="#7ec6f2" stroke-width="9.6" stroke-linecap="round" fill="none"/><path d="M303.7 199.9 L315.9 220.1" stroke="#2f7fb4" stroke-width="3.2640000000000002" stroke-linecap="round" fill="none"/><path d="M317.2 222.2 L321.2 228.9" stroke="#2f7fb4" stroke-width="3.2640000000000002" stroke-linecap="round" fill="none"/>
<polygon points="386.9,169.5 431.9,153.7 454.3,189.8 409.4,206.1" fill="#e2e2e6"/><polygon points="386.9,168.0 431.9,152.2 454.3,188.3 409.4,204.6" fill="#d6d6da"/><polygon points="391.9,169.4 430.3,155.9 449.6,186.9 411.2,200.9" fill="#aeaeb2"/><polygon points="398.8,171.8 428.8,161.3 439.1,178.0 409.2,188.7" fill="#414145"/><polygon points="409.4,187.4 437.1,177.4 443.4,187.6 415.7,197.6" fill="#2e2e32"/>
<polygon points="363.6,214.0 365.2,213.4 366.2,215.1 364.5,215.7" fill="#cfe0c6"/>
<polygon points="370.1,241.5 371.9,240.9 372.9,242.5 371.1,243.2" fill="#cfe0c6"/>
<polygon points="365.7,217.5 367.4,216.9 368.4,218.5 366.7,219.1" fill="#cfe0c6"/>
<polygon points="372.2,245.0 374.1,244.3 375.0,246.0 373.2,246.7" fill="#cfe0c6"/>
<polygon points="367.8,221.0 369.5,220.4 370.5,222.0 368.8,222.6" fill="#cfe0c6"/>
<polygon points="374.3,248.5 376.2,247.8 377.2,249.5 375.3,250.2" fill="#cfe0c6"/>
<polygon points="369.9,224.5 371.6,223.9 372.6,225.5 370.9,226.1" fill="#cfe0c6"/>
<polygon points="376.5,252.0 378.3,251.3 379.3,253.0 377.4,253.7" fill="#cfe0c6"/>
<polygon points="366.9,212.8 368.6,212.2 369.6,213.8 367.9,214.4" fill="#cfe0c6"/>
<polygon points="373.8,240.2 375.7,239.5 376.6,241.1 374.8,241.8" fill="#cfe0c6"/>
<polygon points="369.0,216.3 370.7,215.7 371.7,217.3 370.0,217.9" fill="#cfe0c6"/>
<polygon points="375.9,243.7 377.8,243.0 378.8,244.6 376.9,245.3" fill="#cfe0c6"/>
<polygon points="371.2,219.8 372.9,219.2 373.8,220.8 372.2,221.4" fill="#cfe0c6"/>
<polygon points="378.0,247.1 379.9,246.4 380.9,248.1 379.0,248.8" fill="#cfe0c6"/>
<polygon points="373.3,223.3 375.0,222.6 376.0,224.3 374.3,224.9" fill="#cfe0c6"/>
<polygon points="380.2,250.6 382.0,249.9 383.0,251.6 381.2,252.3" fill="#cfe0c6"/>
<polygon points="370.3,211.6 372.0,211.0 373.0,212.6 371.3,213.2" fill="#cfe0c6"/>
<polygon points="377.5,238.8 379.4,238.1 380.4,239.7 378.5,240.4" fill="#cfe0c6"/>
<polygon points="372.4,215.1 374.1,214.5 375.1,216.1 373.4,216.7" fill="#cfe0c6"/>
<polygon points="379.6,242.3 381.5,241.6 382.5,243.2 380.6,243.9" fill="#cfe0c6"/>
<polygon points="374.5,218.6 376.2,217.9 377.2,219.6 375.5,220.2" fill="#cfe0c6"/>
<polygon points="381.8,245.7 383.6,245.0 384.6,246.7 382.8,247.4" fill="#cfe0c6"/>
<polygon points="376.7,222.0 378.3,221.4 379.3,223.0 377.7,223.7" fill="#cfe0c6"/>
<polygon points="383.9,249.2 385.8,248.5 386.8,250.2 384.9,250.9" fill="#cfe0c6"/>
<polygon points="373.6,210.4 375.3,209.8 376.3,211.4 374.6,212.0" fill="#cfe0c6"/>
<polygon points="381.2,237.4 383.1,236.7 384.1,238.3 382.2,239.0" fill="#cfe0c6"/>
<polygon points="375.8,213.9 377.5,213.2 378.4,214.9 376.8,215.5" fill="#cfe0c6"/>
<polygon points="383.4,240.9 385.2,240.2 386.2,241.8 384.4,242.5" fill="#cfe0c6"/>
<polygon points="377.9,217.3 379.6,216.7 380.6,218.3 378.9,218.9" fill="#cfe0c6"/>
<polygon points="385.5,244.4 387.4,243.7 388.4,245.3 386.5,246.0" fill="#cfe0c6"/>
<polygon points="380.0,220.8 381.7,220.2 382.7,221.8 381.0,222.4" fill="#cfe0c6"/>
<polygon points="387.6,247.8 389.5,247.1 390.5,248.8 388.6,249.5" fill="#cfe0c6"/>
<path d="M330.8 190.7 L354.0 228.6" stroke="#1668ae" stroke-width="8.8" stroke-linecap="round" fill="none"/><path d="M330.8 189.2 L354.0 227.1" stroke="#1668ae" stroke-width="8.8" stroke-linecap="round" fill="none"/><path d="M330.8 187.7 L354.0 225.6" stroke="#2388d8" stroke-width="8.8" stroke-linecap="round" fill="none"/><path d="M332.2 189.9 L347.7 215.3" stroke="#0f4f86" stroke-width="2.9920000000000004" stroke-linecap="round" fill="none"/><path d="M348.9 217.4 L352.6 223.4" stroke="#0f4f86" stroke-width="2.9920000000000004" stroke-linecap="round" fill="none"/>
<path d="M304.5 243.3 V246.7 A2.7 1.7 0 0 0 309.9 246.7 V243.3 Z" fill="#505056"/><ellipse cx="307.2" cy="243.3" rx="2.7" ry="1.7" fill="#c9c9cd"/>
<path d="M357.9 178.4 L383.8 220.5" stroke="#1668ae" stroke-width="8.8" stroke-linecap="round" fill="none"/><path d="M357.9 176.9 L383.8 219.0" stroke="#1668ae" stroke-width="8.8" stroke-linecap="round" fill="none"/><path d="M357.9 175.4 L383.8 217.5" stroke="#2388d8" stroke-width="8.8" stroke-linecap="round" fill="none"/><path d="M359.3 177.6 L376.9 206.3" stroke="#0f4f86" stroke-width="2.9920000000000004" stroke-linecap="round" fill="none"/><path d="M378.1 208.4 L382.4 215.3" stroke="#0f4f86" stroke-width="2.9920000000000004" stroke-linecap="round" fill="none"/>
<polygon points="415.8,208.0 417.7,207.3 418.8,209.1 417.0,209.8" fill="#cfe0c6"/>
<polygon points="421.8,205.8 423.7,205.1 424.8,206.9 422.9,207.6" fill="#cfe0c6"/>
<polygon points="427.8,203.6 429.7,202.9 430.8,204.7 428.9,205.4" fill="#cfe0c6"/>
<polygon points="433.8,201.4 435.6,200.7 436.8,202.5 434.9,203.2" fill="#cfe0c6"/>
<polygon points="439.8,199.2 441.6,198.5 442.7,200.4 440.9,201.0" fill="#cfe0c6"/>
<polygon points="445.7,197.0 447.6,196.4 448.7,198.2 446.9,198.8" fill="#cfe0c6"/>
<polygon points="451.7,194.8 453.6,194.2 454.7,196.0 452.8,196.7" fill="#cfe0c6"/>
<path d="M316.1 242.5 V245.9 A3.1 1.9 0 0 0 322.3 245.9 V242.5 Z" fill="#c9c9cf"/><ellipse cx="319.2" cy="242.5" rx="3.1" ry="1.9" fill="#e6e6ea"/>
<path d="M327.0 238.6 V242.0 A3.1 1.9 0 0 0 333.2 242.0 V238.6 Z" fill="#c9c9cf"/><ellipse cx="330.1" cy="238.6" rx="3.1" ry="1.9" fill="#e6e6ea"/>
<ellipse cx="401.1" cy="216.0" rx="7.4" ry="5.9" fill="#d4d4d8"/><ellipse cx="401.1" cy="216.0" rx="5.6" ry="4.3" fill="#a9a9ad"/>
<path d="M337.8 236.0 V239.4 A3.1 1.9 0 0 0 344.0 239.4 V236.0 Z" fill="#c9c9cf"/><ellipse cx="340.9" cy="236.0" rx="3.1" ry="1.9" fill="#e6e6ea"/>
<polygon points="287.0,245.4 295.2,259.0 295.2,256.5 287.0,242.9" fill="#1668ae"/><polygon points="295.2,259.0 302.1,256.4 302.1,253.9 295.2,256.5" fill="#1668ae"/><polygon points="287.0,242.9 293.9,240.4 302.1,253.9 295.2,256.5" fill="#2388d8"/><polygon points="288.8,244.0 290.7,243.3 291.7,245.0 289.8,245.6" fill="#0f5490"/><polygon points="292.0,242.8 293.8,242.1 294.8,243.8 293.0,244.5" fill="#0f5490"/><polygon points="290.7,247.1 292.5,246.4 293.5,248.1 291.7,248.7" fill="#0f5490"/><polygon points="293.8,245.9 295.7,245.2 296.7,246.9 294.8,247.6" fill="#0f5490"/><polygon points="292.5,250.2 294.4,249.5 295.4,251.2 293.5,251.8" fill="#0f5490"/><polygon points="295.7,249.0 297.6,248.3 298.6,250.0 296.7,250.7" fill="#0f5490"/><polygon points="294.4,253.3 296.3,252.6 297.3,254.3 295.4,254.9" fill="#0f5490"/><polygon points="297.6,252.1 299.4,251.4 300.4,253.1 298.6,253.8" fill="#0f5490"/>
<polygon points="352.7,234.8 356.4,240.9 356.4,238.4 352.7,232.3" fill="#1a6fb8"/><polygon points="356.4,240.9 365.3,237.6 365.3,235.1 356.4,238.4" fill="#1a6fb8"/><polygon points="352.7,232.3 361.7,229.0 365.3,235.1 356.4,238.4" fill="#2b8edc"/>
<polygon points="378.5,223.5 382.0,229.3 382.0,226.8 378.5,221.0" fill="#1a6fb8"/><polygon points="382.0,229.3 394.1,224.8 394.1,222.3 382.0,226.8" fill="#1a6fb8"/><polygon points="378.5,221.0 390.6,216.5 394.1,222.3 382.0,226.8" fill="#2b8edc"/>
<polygon points="309.0,258.4 310.5,257.9 311.9,260.2 310.4,260.8" fill="#c8324a"/>
<polygon points="310.5,255.7 312.0,255.1 313.5,257.5 312.0,258.0" fill="#c8324a"/>
<polygon points="342.7,171.3 344.2,170.8 345.6,173.1 344.1,173.6" fill="#c8324a"/>
<polygon points="344.6,170.0 346.1,169.4 347.5,171.8 346.0,172.3" fill="#c8324a"/>
<polygon points="369.2,232.6 373.3,231.1 374.2,232.6 370.1,234.1" fill="#0f5a78"/>
<polygon points="374.2,231.5 378.3,229.9 379.2,231.5 375.1,233.0" fill="#0f5a78"/>
<polygon points="381.5,226.6 385.6,225.1 386.6,226.6 382.5,228.1" fill="#0f5a78"/>
<polygon points="385.8,224.3 390.0,222.8 390.9,224.3 386.8,225.8" fill="#0f5a78"/>
<polygon points="361.2,242.0 365.3,240.5 366.2,242.0 362.1,243.5" fill="#0f5a78"/>
<polygon points="374.6,252.7 378.7,251.2 379.6,252.7 375.5,254.2" fill="#0f5a78"/>
<polygon points="379.4,253.1 383.5,251.5 384.4,253.0 380.3,254.6" fill="#0f5a78"/>
<polygon points="407.4,218.5 411.5,217.0 412.5,218.5 408.4,220.0" fill="#0f5a78"/>
<polygon points="412.9,220.0 417.0,218.5 418.0,220.0 413.9,221.5" fill="#0f5a78"/>
<polygon points="336.4,249.3 339.3,254.1 339.3,251.9 336.4,247.1" fill="#131318"/><polygon points="339.3,254.1 355.0,248.3 355.0,246.1 339.3,251.9" fill="#131318"/><polygon points="336.4,247.1 352.0,241.3 355.0,246.1 339.3,251.9" fill="#2c2c32"/>
<polygon points="460.5,199.4 466.1,208.4 466.1,204.9 460.5,195.9" fill="#d9d9d2"/><polygon points="466.1,208.4 478.6,203.7 478.6,200.2 466.1,204.9" fill="#e4e4de"/><polygon points="460.5,195.9 473.0,191.3 478.6,200.2 466.1,204.9" fill="#f0f0ea"/>
<polygon points="394.7,230.1 397.4,234.5 397.4,231.7 394.7,227.3" fill="#1a6fb8"/><polygon points="397.4,234.5 466.4,208.8 466.4,206.0 397.4,231.7" fill="#1a6fb8"/><polygon points="394.7,227.3 463.7,201.8 466.4,206.0 397.4,231.7" fill="#2e92e0"/><polygon points="396.4,228.7 463.9,203.6 464.6,204.7 397.1,229.8" fill="#1f5e96"/>
<polygon points="380.8,232.2 386.1,240.8 386.1,237.3 380.8,228.7" fill="#d9d9d2"/><polygon points="386.1,240.8 398.4,236.3 398.4,232.8 386.1,237.3" fill="#e4e4de"/><polygon points="380.8,228.7 393.1,224.1 398.4,232.8 386.1,237.3" fill="#f0f0ea"/>
<polygon points="295.6,259.7 303.8,273.3 303.8,270.8 295.6,257.2" fill="#1668ae"/><polygon points="303.8,273.3 310.7,270.7 310.7,268.2 303.8,270.8" fill="#1668ae"/><polygon points="295.6,257.2 302.5,254.6 310.7,268.2 303.8,270.8" fill="#2388d8"/><polygon points="297.4,258.3 299.3,257.6 300.3,259.3 298.4,260.0" fill="#0f5490"/><polygon points="300.6,257.1 302.5,256.4 303.5,258.1 301.6,258.8" fill="#0f5490"/><polygon points="299.3,261.4 301.2,260.7 302.2,262.4 300.3,263.1" fill="#0f5490"/><polygon points="302.5,260.2 304.3,259.5 305.3,261.2 303.5,261.9" fill="#0f5490"/><polygon points="301.2,264.5 303.0,263.8 304.0,265.5 302.2,266.2" fill="#0f5490"/><polygon points="304.3,263.3 306.2,262.6 307.2,264.3 305.3,265.0" fill="#0f5490"/><polygon points="303.0,267.6 304.9,266.9 305.9,268.6 304.0,269.3" fill="#0f5490"/><polygon points="306.2,266.4 308.1,265.7 309.1,267.4 307.2,268.1" fill="#0f5490"/>
<path d="M360.5 247.7 V251.3 A2.9 1.8 0 0 0 366.3 251.3 V247.7 Z" fill="#505056"/><ellipse cx="363.4" cy="247.7" rx="2.9" ry="1.8" fill="#c9c9cd"/>
<path d="M329.9 261.2 V264.6 A2.7 1.7 0 0 0 335.3 264.6 V261.2 Z" fill="#505056"/><ellipse cx="332.6" cy="261.2" rx="2.7" ry="1.7" fill="#c9c9cd"/>
<path d="M311.0 274.6 V276.2 A3.0 1.9 0 0 0 317.0 276.2 V274.6 Z" fill="#c4c4ca"/><ellipse cx="314.0" cy="274.6" rx="3.0" ry="1.9" fill="#e0e0e4"/>
<polygon points="466.2,208.6 471.8,217.6 471.8,214.1 466.2,205.1" fill="#d9d9d2"/><polygon points="471.8,217.6 484.3,212.9 484.3,209.4 471.8,214.1" fill="#e4e4de"/><polygon points="466.2,205.1 478.7,200.5 484.3,209.4 471.8,214.1" fill="#f0f0ea"/>
<polygon points="400.3,239.3 402.9,243.6 402.9,240.8 400.3,236.5" fill="#050508"/><polygon points="402.9,243.6 471.9,217.7 471.9,214.9 402.9,240.8" fill="#050508"/><polygon points="400.3,236.5 469.2,210.7 471.9,214.9 402.9,240.8" fill="#15151a"/><polygon points="402.0,237.8 469.4,212.5 470.1,213.6 402.7,239.0" fill="#000000"/>
<polygon points="386.3,241.1 391.6,249.8 391.6,246.3 386.3,237.6" fill="#d9d9d2"/><polygon points="391.6,249.8 403.9,245.1 403.9,241.6 391.6,246.3" fill="#e4e4de"/><polygon points="386.3,237.6 398.6,233.0 403.9,241.6 391.6,246.3" fill="#f0f0ea"/>
<polygon points="471.9,217.8 477.5,226.9 477.5,223.4 471.9,214.3" fill="#d9d9d2"/><polygon points="477.5,226.9 490.0,222.1 490.0,218.6 477.5,223.4" fill="#e4e4de"/><polygon points="471.9,214.3 484.4,209.7 490.0,218.6 477.5,223.4" fill="#f0f0ea"/>
<polygon points="391.7,250.0 397.0,258.7 397.0,255.2 391.7,246.5" fill="#d9d9d2"/><polygon points="397.0,258.7 409.3,254.0 409.3,250.5 397.0,255.2" fill="#e4e4de"/><polygon points="391.7,246.5 404.0,241.9 409.3,250.5 397.0,255.2" fill="#f0f0ea"/>
<polygon points="406.0,248.6 408.7,253.0 408.7,250.2 406.0,245.8" fill="#1a6fb8"/><polygon points="408.7,253.0 477.5,226.9 477.5,224.1 408.7,250.2" fill="#1a6fb8"/><polygon points="406.0,245.8 474.9,219.8 477.5,224.1 408.7,250.2" fill="#2e92e0"/><polygon points="407.7,247.1 475.1,221.6 475.8,222.8 408.4,248.3" fill="#1f5e96"/>
<polygon points="309.1,283.9 315.2,294.1 315.2,292.1 309.1,281.9" fill="#050508"/><polygon points="315.2,294.1 318.3,292.9 318.3,290.9 315.2,292.1" fill="#050508"/><polygon points="309.1,281.9 312.2,280.7 318.3,290.9 315.2,292.1" fill="#18181c"/>
<polygon points="356.7,261.6 364.4,274.3 364.4,271.7 356.7,259.0" fill="#1f74be"/><polygon points="364.4,274.3 373.7,270.8 373.7,268.2 364.4,271.7" fill="#1f74be"/><polygon points="356.7,259.0 366.0,255.5 373.7,268.2 364.4,271.7" fill="#3a9ae6"/><polygon points="360.2,260.3 365.0,258.5 370.1,266.9 365.3,268.7" fill="#1b62a2"/><polygon points="363.0,261.5 364.5,261.0 367.3,265.7 365.8,266.2" fill="#3a9ae6"/>
<polygon points="339.2,268.6 346.9,281.4 346.9,278.8 339.2,266.0" fill="#1f74be"/><polygon points="346.9,281.4 356.2,277.8 356.2,275.2 346.9,278.8" fill="#1f74be"/><polygon points="339.2,266.0 348.5,262.5 356.2,275.2 346.9,278.8" fill="#3a9ae6"/><polygon points="342.7,267.3 347.5,265.5 352.7,274.0 347.8,275.8" fill="#1b62a2"/><polygon points="345.5,268.6 347.0,268.0 349.9,272.7 348.4,273.3" fill="#3a9ae6"/>
<polygon points="321.2,275.7 329.0,288.5 329.0,285.9 321.2,273.1" fill="#d6d2c8"/><polygon points="329.0,288.5 338.3,285.0 338.3,282.4 329.0,285.9" fill="#d6d2c8"/><polygon points="321.2,273.1 330.6,269.6 338.3,282.4 329.0,285.9" fill="#f2efe8"/><polygon points="324.8,274.4 329.6,272.5 334.8,281.1 329.9,282.9" fill="#6a6a70"/><polygon points="327.6,275.6 329.1,275.1 332.0,279.8 330.5,280.4" fill="#f2efe8"/>
<polygon points="382.4,259.8 387.3,268.0 387.3,265.5 382.4,257.3" fill="#121216"/><polygon points="387.3,268.0 392.9,265.9 392.9,263.4 387.3,265.5" fill="#121216"/><polygon points="382.4,257.3 387.9,255.2 392.9,263.4 387.3,265.5" fill="#2c2c34"/>
<polygon points="477.7,227.1 483.3,236.1 483.3,232.6 477.7,223.6" fill="#d9d9d2"/><polygon points="483.3,236.1 495.7,231.3 495.7,227.8 483.3,232.6" fill="#e4e4de"/><polygon points="477.7,223.6 490.1,218.8 495.7,227.8 483.3,232.6" fill="#f0f0ea"/>
<polygon points="397.2,258.9 402.5,267.6 402.5,264.1 397.2,255.4" fill="#d9d9d2"/><polygon points="402.5,267.6 414.8,262.9 414.8,259.4 402.5,264.1" fill="#e4e4de"/><polygon points="397.2,255.4 409.5,250.8 414.8,259.4 402.5,264.1" fill="#f0f0ea"/>
<polygon points="411.8,258.1 414.5,262.5 414.5,259.7 411.8,255.3" fill="#050508"/><polygon points="414.5,262.5 483.3,236.1 483.3,233.3 414.5,259.7" fill="#050508"/><polygon points="411.8,255.3 480.6,229.0 483.3,233.3 414.5,259.7" fill="#15151a"/><polygon points="413.5,256.6 480.8,230.9 481.5,232.0 414.2,257.8" fill="#000000"/>
<path d="M382.6 275.5 V277.3 A2.9 1.8 0 0 0 388.4 277.3 V275.5 Z" fill="#c0c0c6"/><ellipse cx="385.5" cy="275.5" rx="2.9" ry="1.8" fill="#dcdce0"/>
<path d="M394.6 274.5 V276.3 A2.9 1.8 0 0 0 400.4 276.3 V274.5 Z" fill="#c0c0c6"/><ellipse cx="397.5" cy="274.5" rx="2.9" ry="1.8" fill="#dcdce0"/>
<polygon points="317.4,296.2 323.5,306.3 323.5,304.3 317.4,294.2" fill="#050508"/><polygon points="323.5,306.3 326.6,305.1 326.6,303.1 323.5,304.3" fill="#050508"/><polygon points="317.4,294.2 320.5,293.0 326.6,303.1 323.5,304.3" fill="#18181c"/>
<polygon points="405.9,270.2 408.7,274.8 408.7,272.8 405.9,268.2" fill="#1a6fb8"/><polygon points="408.7,274.8 428.0,267.4 428.0,265.4 408.7,272.8" fill="#1a6fb8"/><polygon points="405.9,268.2 425.2,260.8 428.0,265.4 408.7,272.8" fill="#2e8edc"/>
<polygon points="365.9,276.1 373.6,288.8 373.6,286.2 365.9,273.5" fill="#1f74be"/><polygon points="373.6,288.8 382.9,285.2 382.9,282.6 373.6,286.2" fill="#1f74be"/><polygon points="365.9,273.5 375.2,270.0 382.9,282.6 373.6,286.2" fill="#3a9ae6"/><polygon points="369.5,274.8 374.3,273.0 379.4,281.4 374.6,283.2" fill="#1b62a2"/><polygon points="372.3,276.0 373.8,275.5 376.6,280.2 375.1,280.7" fill="#3a9ae6"/>
<polygon points="348.4,283.1 356.1,295.9 356.1,293.3 348.4,280.5" fill="#1f74be"/><polygon points="356.1,295.9 365.4,292.3 365.4,289.7 356.1,293.3" fill="#1f74be"/><polygon points="348.4,280.5 357.7,277.0 365.4,289.7 356.1,293.3" fill="#3a9ae6"/><polygon points="351.9,281.8 356.8,280.0 361.9,288.4 357.1,290.3" fill="#1b62a2"/><polygon points="354.7,283.0 356.2,282.5 359.1,287.2 357.6,287.8" fill="#3a9ae6"/>
<polygon points="426.5,261.8 430.0,267.6 430.0,265.1 426.5,259.3" fill="#1668ae"/><polygon points="430.0,267.6 480.9,247.9 480.9,245.4 430.0,265.1" fill="#1668ae"/><polygon points="426.5,259.3 477.4,239.7 480.9,245.4 430.0,265.1" fill="#2388d8"/><polygon points="428.8,259.4 431.1,258.6 432.1,260.3 429.9,261.1" fill="#0f5490"/><polygon points="430.4,262.0 432.6,261.1 433.7,262.8 431.5,263.7" fill="#0f5490"/><polygon points="432.8,257.9 435.1,257.0 436.1,258.7 433.9,259.6" fill="#0f5490"/><polygon points="434.4,260.4 436.6,259.6 437.7,261.3 435.4,262.1" fill="#0f5490"/><polygon points="436.8,256.3 439.1,255.5 440.1,257.2 437.9,258.1" fill="#0f5490"/><polygon points="438.4,258.9 440.6,258.0 441.7,259.7 439.4,260.6" fill="#0f5490"/><polygon points="440.8,254.8 443.1,254.0 444.1,255.7 441.9,256.5" fill="#0f5490"/><polygon points="442.4,257.3 444.6,256.5 445.7,258.2 443.4,259.0" fill="#0f5490"/><polygon points="444.8,253.3 447.1,252.4 448.1,254.1 445.9,255.0" fill="#0f5490"/><polygon points="446.4,255.8 448.6,254.9 449.7,256.6 447.4,257.5" fill="#0f5490"/><polygon points="448.8,251.7 451.1,250.9 452.1,252.6 449.9,253.4" fill="#0f5490"/><polygon points="450.4,254.2 452.6,253.4 453.7,255.1 451.4,256.0" fill="#0f5490"/><polygon points="452.8,250.2 455.0,249.3 456.1,251.0 453.9,251.9" fill="#0f5490"/><polygon points="454.4,252.7 456.6,251.8 457.6,253.6 455.4,254.4" fill="#0f5490"/><polygon points="456.8,248.7 459.0,247.8 460.1,249.5 457.9,250.4" fill="#0f5490"/><polygon points="458.4,251.2 460.6,250.3 461.6,252.0 459.4,252.9" fill="#0f5490"/><polygon points="460.8,247.1 463.0,246.3 464.1,248.0 461.9,248.8" fill="#0f5490"/><polygon points="462.4,249.6 464.6,248.8 465.6,250.5 463.4,251.3" fill="#0f5490"/><polygon points="464.8,245.6 467.0,244.7 468.1,246.4 465.9,247.3" fill="#0f5490"/><polygon points="466.3,248.1 468.6,247.2 469.6,248.9 467.4,249.8" fill="#0f5490"/><polygon points="468.8,244.0 471.0,243.2 472.1,244.9 469.8,245.7" fill="#0f5490"/><polygon points="470.3,246.5 472.6,245.7 473.6,247.4 471.4,248.2" fill="#0f5490"/><polygon points="472.8,242.5 475.0,241.6 476.1,243.3 473.8,244.2" fill="#0f5490"/><polygon points="474.3,245.0 476.6,244.1 477.6,245.8 475.4,246.7" fill="#0f5490"/>
<polygon points="330.5,290.3 338.3,303.1 338.3,300.5 330.5,287.7" fill="#d6d2c8"/><polygon points="338.3,303.1 347.6,299.5 347.6,296.9 338.3,300.5" fill="#d6d2c8"/><polygon points="330.5,287.7 339.8,284.1 347.6,296.9 338.3,300.5" fill="#f2efe8"/><polygon points="334.0,288.9 338.9,287.1 344.0,295.6 339.2,297.5" fill="#6a6a70"/><polygon points="336.9,290.2 338.3,289.6 341.2,294.4 339.7,294.9" fill="#f2efe8"/>
</g></g>
</g>
<g id="lines">
<path d="M578.3 141.6 L620 220 L746 220 L791.5 299" fill="none" stroke="#000" stroke-width="6.4" stroke-linejoin="miter"/>
<path d="M771.8 287.4 L791.3 298.7 L791.3 276.2" fill="none" stroke="#000" stroke-width="6.4" stroke-linecap="round" stroke-linejoin="miter"/>
<path d="M789.8 141 L747.8 216" fill="none" stroke="#000" stroke-width="1.9" stroke-dasharray="5.6 2.3"/>
<path d="M618.2 222.5 L574.5 300" fill="none" stroke="#000" stroke-width="1.9" stroke-dasharray="5.6 2.3"/>
<path d="M574.9 285.4 L574.3 300.4 L586.8 292.1" fill="none" stroke="#000" stroke-width="1.9" stroke-linecap="butt" stroke-linejoin="miter"/>
<path d="M577.2 388.2 L619.9 467.7" fill="none" stroke="#000" stroke-width="1.9" stroke-dasharray="5.6 2.3"/>
<path d="M789.8 396 L746 474.9 L620.6 474.9 L575.5 553.4" fill="none" stroke="#000" stroke-width="6.4" stroke-linejoin="miter"/>
<path d="M575.6 530.6 L575.7 553.1 L595.1 541.8" fill="none" stroke="#000" stroke-width="6.4" stroke-linecap="round" stroke-linejoin="miter"/>
<path d="M747.8 476.5 L792.5 556" fill="none" stroke="#000" stroke-width="1.9" stroke-dasharray="5.6 2.3"/>
<path d="M780.2 547.9 L792.7 556.2 L792.1 541.2" fill="none" stroke="#000" stroke-width="1.9" stroke-linecap="butt" stroke-linejoin="miter"/>
<path d="M593.4 715.8 L789 715.8" fill="none" stroke="#000" stroke-width="6.4" stroke-linejoin="miter"/>
<path d="M768.7 727.0 L788.2 715.8 L768.7 704.5" fill="none" stroke="#000" stroke-width="6.4" stroke-linecap="round" stroke-linejoin="miter"/>
<path d="M793.9 795 L598 795" fill="none" stroke="#000" stroke-width="6.4" stroke-linejoin="miter"/>
<path d="M618.3 783.8 L598.8 795.0 L618.3 806.2" fill="none" stroke="#000" stroke-width="6.4" stroke-linecap="round" stroke-linejoin="miter"/>
<path d="M259 605 H1135" stroke="#747474" stroke-width="2" fill="none"/>
</g>
<g id="cables">
<g transform="translate(0.0 0.0)">
<path d="M670.5 233 C676 226 677 218 674.5 212 C671.5 202 683 202.4 689 202.8 C699 204 706 210 702.5 222 C700 229 694 233 691 237" fill="none" stroke="#2e9fe0" stroke-width="1.9"/>
<path d="M656.5 238.8 L667 232.6 L671.6 232 L671.6 238 L669.8 245 L666 246 L656.5 246 Z" fill="#f3f8fd" stroke="#79bfec" stroke-width="0.7"/>
<path d="M656.8 238.3 L667.4 232.1 L671.6 231.7" fill="none" stroke="#2e9fe0" stroke-width="2.1" stroke-linejoin="round"/>
<path d="M667.8 232.6 L672 231.6 L672.1 238 L670.2 245.2 L667.4 245.2 L668.6 238 Z" fill="#2e9fe0"/>
<path d="M660 238.2 L665.4 240.4 L665.8 244" fill="none" stroke="#a9d4f2" stroke-width="0.7"/>
<rect x="657.1" y="242.7" width="6.3" height="2.5" fill="#b3945f"/>
<g transform="translate(23.3 4)">
<path d="M656.5 238.8 L667 232.6 L671.6 232 L671.6 238 L669.8 245 L666 246 L656.5 246 Z" fill="#f3f8fd" stroke="#79bfec" stroke-width="0.7"/>
<path d="M656.8 238.3 L667.4 232.1 L671.6 231.7" fill="none" stroke="#2e9fe0" stroke-width="2.1" stroke-linejoin="round"/>
<path d="M667.8 232.6 L672 231.6 L672.1 238 L670.2 245.2 L667.4 245.2 L668.6 238 Z" fill="#2e9fe0"/>
<path d="M660 238.2 L665.4 240.4 L665.8 244" fill="none" stroke="#a9d4f2" stroke-width="0.7"/>
<rect x="657.1" y="242.7" width="6.3" height="2.5" fill="#b3945f"/>
</g>
</g>
<g transform="translate(2.1 253.8)">
<path d="M670.5 233 C676 226 677 218 674.5 212 C671.5 202 683 202.4 689 202.8 C699 204 706 210 702.5 222 C700 229 694 233 691 237" fill="none" stroke="#2e9fe0" stroke-width="1.9"/>
<path d="M656.5 238.8 L667 232.6 L671.6 232 L671.6 238 L669.8 245 L666 246 L656.5 246 Z" fill="#f3f8fd" stroke="#79bfec" stroke-width="0.7"/>
<path d="M656.8 238.3 L667.4 232.1 L671.6 231.7" fill="none" stroke="#2e9fe0" stroke-width="2.1" stroke-linejoin="round"/>
<path d="M667.8 232.6 L672 231.6 L672.1 238 L670.2 245.2 L667.4 245.2 L668.6 238 Z" fill="#2e9fe0"/>
<path d="M660 238.2 L665.4 240.4 L665.8 244" fill="none" stroke="#a9d4f2" stroke-width="0.7"/>
<rect x="657.1" y="242.7" width="6.3" height="2.5" fill="#b3945f"/>
<g transform="translate(23.3 4)">
<path d="M656.5 238.8 L667 232.6 L671.6 232 L671.6 238 L669.8 245 L666 246 L656.5 246 Z" fill="#f3f8fd" stroke="#79bfec" stroke-width="0.7"/>
<path d="M656.8 238.3 L667.4 232.1 L671.6 231.7" fill="none" stroke="#2e9fe0" stroke-width="2.1" stroke-linejoin="round"/>
<path d="M667.8 232.6 L672 231.6 L672.1 238 L670.2 245.2 L667.4 245.2 L668.6 238 Z" fill="#2e9fe0"/>
<path d="M660 238.2 L665.4 240.4 L665.8 244" fill="none" stroke="#a9d4f2" stroke-width="0.7"/>
<rect x="657.1" y="242.7" width="6.3" height="2.5" fill="#b3945f"/>
</g>
</g>
<g transform="translate(2.0 484.8)">
<path d="M670.5 233 C676 226 677 218 674.5 212 C671.5 202 683 202.4 689 202.8 C699 204 706 210 702.5 222 C700 229 694 233 691 237" fill="none" stroke="#2e9fe0" stroke-width="1.9"/>
<path d="M656.5 238.8 L667 232.6 L671.6 232 L671.6 238 L669.8 245 L666 246 L656.5 246 Z" fill="#f3f8fd" stroke="#79bfec" stroke-width="0.7"/>
<path d="M656.8 238.3 L667.4 232.1 L671.6 231.7" fill="none" stroke="#2e9fe0" stroke-width="2.1" stroke-linejoin="round"/>
<path d="M667.8 232.6 L672 231.6 L672.1 238 L670.2 245.2 L667.4 245.2 L668.6 238 Z" fill="#2e9fe0"/>
<path d="M660 238.2 L665.4 240.4 L665.8 244" fill="none" stroke="#a9d4f2" stroke-width="0.7"/>
<rect x="657.1" y="242.7" width="6.3" height="2.5" fill="#b3945f"/>
<g transform="translate(23.3 4)">
<path d="M656.5 238.8 L667 232.6 L671.6 232 L671.6 238 L669.8 245 L666 246 L656.5 246 Z" fill="#f3f8fd" stroke="#79bfec" stroke-width="0.7"/>
<path d="M656.8 238.3 L667.4 232.1 L671.6 231.7" fill="none" stroke="#2e9fe0" stroke-width="2.1" stroke-linejoin="round"/>
<path d="M667.8 232.6 L672 231.6 L672.1 238 L670.2 245.2 L667.4 245.2 L668.6 238 Z" fill="#2e9fe0"/>
<path d="M660 238.2 L665.4 240.4 L665.8 244" fill="none" stroke="#a9d4f2" stroke-width="0.7"/>
<rect x="657.1" y="242.7" width="6.3" height="2.5" fill="#b3945f"/>
</g>
</g>
<g transform="translate(2.0 568.7)">
<path d="M670.5 233 C676 226 677 218 674.5 212 C671.5 202 683 202.4 689 202.8 C699 204 706 210 702.5 222 C700 229 694 233 691 237" fill="none" stroke="#2e9fe0" stroke-width="1.9"/>
<path d="M656.5 238.8 L667 232.6 L671.6 232 L671.6 238 L669.8 245 L666 246 L656.5 246 Z" fill="#f3f8fd" stroke="#79bfec" stroke-width="0.7"/>
<path d="M656.8 238.3 L667.4 232.1 L671.6 231.7" fill="none" stroke="#2e9fe0" stroke-width="2.1" stroke-linejoin="round"/>
<path d="M667.8 232.6 L672 231.6 L672.1 238 L670.2 245.2 L667.4 245.2 L668.6 238 Z" fill="#2e9fe0"/>
<path d="M660 238.2 L665.4 240.4 L665.8 244" fill="none" stroke="#a9d4f2" stroke-width="0.7"/>
<rect x="657.1" y="242.7" width="6.3" height="2.5" fill="#b3945f"/>
<g transform="translate(23.3 4)">
<path d="M656.5 238.8 L667 232.6 L671.6 232 L671.6 238 L669.8 245 L666 246 L656.5 246 Z" fill="#f3f8fd" stroke="#79bfec" stroke-width="0.7"/>
<path d="M656.8 238.3 L667.4 232.1 L671.6 231.7" fill="none" stroke="#2e9fe0" stroke-width="2.1" stroke-linejoin="round"/>
<path d="M667.8 232.6 L672 231.6 L672.1 238 L670.2 245.2 L667.4 245.2 L668.6 238 Z" fill="#2e9fe0"/>
<path d="M660 238.2 L665.4 240.4 L665.8 244" fill="none" stroke="#a9d4f2" stroke-width="0.7"/>
<rect x="657.1" y="242.7" width="6.3" height="2.5" fill="#b3945f"/>
</g>
</g>
</g>
<g id="labels" style="will-change:opacity;opacity:0.999">
<text x="332.6" y="71.9" font-size="33.3" textLength="134.7" lengthAdjust="spacingAndGlyphs">マスター</text>
<text x="961.2" y="74.4" font-size="34.2" textLength="137.3" lengthAdjust="spacingAndGlyphs">スレーブ</text>
<text x="84.2" y="364.1" font-size="35.5" textLength="113.8" lengthAdjust="spacingAndGlyphs">半二重</text>
<text x="83.3" y="769.7" font-size="37.2" textLength="114.6" lengthAdjust="spacingAndGlyphs">全二重</text>
<text x="506.8" y="143.1" font-size="23.1" textLength="50.9" lengthAdjust="spacingAndGlyphs">送信</text>
<text x="507.2" y="312.9" font-size="24.3" textLength="50.4" lengthAdjust="spacingAndGlyphs">受信</text>
<text x="822.8" y="143.1" font-size="23.1" textLength="50.9" lengthAdjust="spacingAndGlyphs">送信</text>
<text x="823.2" y="312.9" font-size="24.3" textLength="50.4" lengthAdjust="spacingAndGlyphs">受信</text>
<text x="506.8" y="398.1" font-size="23.1" textLength="50.9" lengthAdjust="spacingAndGlyphs">送信</text>
<text x="507.2" y="567.9" font-size="24.3" textLength="50.4" lengthAdjust="spacingAndGlyphs">受信</text>
<text x="822.8" y="398.1" font-size="23.1" textLength="50.9" lengthAdjust="spacingAndGlyphs">送信</text>
<text x="823.2" y="567.9" font-size="24.3" textLength="50.4" lengthAdjust="spacingAndGlyphs">受信</text>
<text x="640.3" y="186.1" font-size="23.5" textLength="90.4" lengthAdjust="spacingAndGlyphs">1本の線</text>
<text x="637.3" y="429.6" font-size="24.3" textLength="90.1" lengthAdjust="spacingAndGlyphs">1本の線</text>
<text x="638.2" y="673.0" font-size="23.3" textLength="90.7" lengthAdjust="spacingAndGlyphs">2本の線</text>
<text x="526.8" y="718.5" font-size="23.1" textLength="50.8" lengthAdjust="spacingAndGlyphs">送信</text>
<text x="813.9" y="719.3" font-size="24.3" textLength="50.4" lengthAdjust="spacingAndGlyphs">受信</text>
<text x="527.2" y="807.0" font-size="23.6" textLength="50.3" lengthAdjust="spacingAndGlyphs">受信</text>
<text x="812.6" y="806.5" font-size="23.0" textLength="50.1" lengthAdjust="spacingAndGlyphs">送信</text>
</g>
</svg>
</body>
</html>
